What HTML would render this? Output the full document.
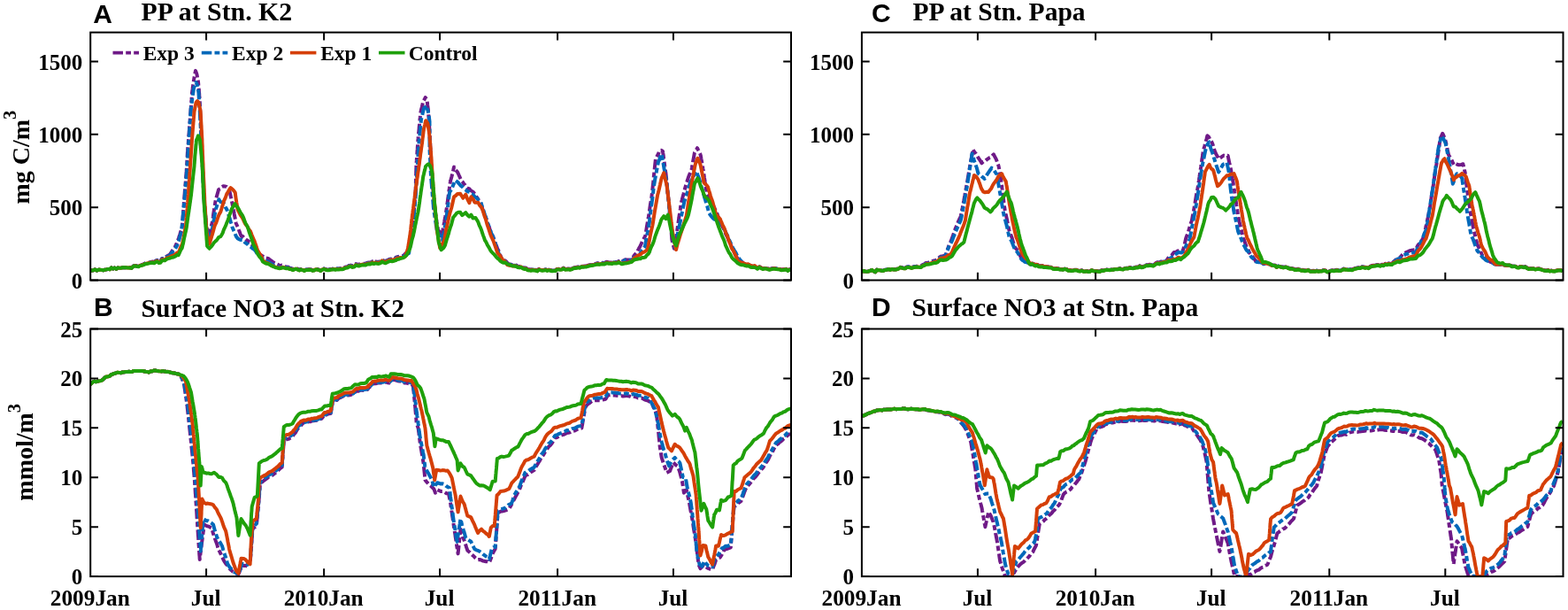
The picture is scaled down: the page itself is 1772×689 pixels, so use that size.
<!DOCTYPE html>
<html><head><meta charset="utf-8"><title>PP and Surface NO3</title><style>
html,body{margin:0;padding:0;background:#fff;width:1772px;height:689px;overflow:hidden}
svg{display:block}
.t{font-family:"Liberation Serif","Times New Roman",serif;font-weight:bold;fill:#000}
.s{font-family:"Liberation Sans",Arial,sans-serif;font-weight:bold;fill:#000}
</style></head><body>
<svg width="1772" height="689" viewBox="0 0 1772 689">
<rect width="1772" height="689" fill="#fff"/>
<defs>
<clipPath id="cA"><rect x="102.2" y="35.6" width="791.8" height="281.9"/></clipPath>
<clipPath id="cB"><rect x="102.2" y="370.5" width="791.8" height="281.6"/></clipPath>
<clipPath id="cC"><rect x="973.9" y="35.6" width="792.6" height="281.9"/></clipPath>
<clipPath id="cD"><rect x="973.9" y="370.5" width="792.6" height="281.6"/></clipPath>
</defs>
<g clip-path="url(#cA)" fill="none" stroke-width="4.0" stroke-linejoin="round" stroke-linecap="butt">
<polyline stroke="#6f1a87" stroke-dasharray="11.5 3.2 5.8 3.2" points="102.0,305.6 103.8,305.4 105.7,305.2 107.5,304.4 109.3,305.5 111.2,304.8 113.0,304.6 114.8,304.9 116.6,305.3 118.5,304.7 120.3,304.4 122.2,303.9 124.0,304.4 125.9,302.4 127.7,303.6 129.6,302.5 131.4,303.8 133.3,302.4 135.1,302.7 137.0,302.7 138.8,302.1 140.7,302.3 142.7,302.3 144.8,302.4 146.8,302.3 148.8,302.6 150.8,300.4 152.9,300.0 154.9,300.5 156.6,300.7 158.4,299.5 160.1,299.2 161.8,298.7 163.5,297.7 165.3,297.2 167.0,296.8 168.8,296.4 170.6,295.9 172.4,295.5 174.2,295.9 175.9,294.6 177.7,293.8 179.5,295.3 181.3,294.9 183.0,292.0 184.7,291.8 186.4,291.5 188.1,289.6 189.8,288.6 191.5,288.0 192.5,286.5 193.5,285.0 194.5,283.5 195.6,282.0 196.6,280.7 197.6,279.3 198.6,277.2 199.6,275.1 200.2,273.4 200.8,272.0 201.4,270.5 202.0,268.9 202.6,266.9 203.3,264.8 203.9,262.7 204.5,260.8 205.1,259.2 205.7,257.8 205.8,256.1 206.0,254.3 206.1,252.5 206.3,250.6 206.4,248.8 206.5,246.9 206.7,245.1 206.8,243.2 207.0,241.4 207.1,239.4 207.2,237.5 207.4,235.5 207.5,233.6 207.7,231.6 207.8,229.7 207.9,227.7 208.1,225.8 208.2,224.0 208.4,222.1 208.5,220.2 208.7,218.3 208.8,216.4 209.0,214.5 209.1,212.6 209.3,210.8 209.4,208.9 209.6,207.0 209.8,205.1 209.9,203.2 210.1,201.3 210.2,199.3 210.4,197.3 210.5,195.4 210.7,193.4 210.8,191.4 211.0,189.5 211.1,187.5 211.2,185.6 211.3,183.6 211.4,181.7 211.5,179.7 211.6,177.8 211.7,175.8 211.8,173.9 211.9,172.0 212.1,170.2 212.2,168.4 212.3,166.7 212.5,164.9 212.6,163.1 212.8,161.3 212.9,159.5 213.0,157.7 213.2,155.9 213.3,154.1 213.4,152.3 213.6,150.5 213.7,148.7 213.9,146.9 214.0,145.1 214.1,143.3 214.3,141.5 214.4,139.7 214.5,137.9 214.7,136.2 214.8,134.4 214.9,132.6 215.1,130.8 215.2,129.0 215.4,127.1 215.5,125.3 215.6,123.5 215.8,121.7 215.9,119.9 216.0,118.0 216.2,116.1 216.3,114.2 216.5,112.4 216.6,110.5 216.7,108.6 216.9,106.7 217.0,104.8 217.3,102.8 217.6,100.8 217.8,98.8 218.1,96.9 218.4,95.0 218.7,93.2 218.9,91.4 219.2,89.5 219.5,87.7 219.9,85.8 220.2,83.8 220.6,81.9 221.0,79.9 221.8,82.0 222.5,84.2 222.9,86.3 223.2,88.4 223.6,90.4 224.0,92.4 224.2,94.4 224.3,96.3 224.5,98.2 224.7,100.1 224.8,102.0 225.0,104.0 225.2,105.9 225.3,107.9 225.5,109.9 225.6,111.8 225.7,113.7 225.8,115.6 225.9,117.5 226.0,119.3 226.1,121.2 226.2,123.1 226.2,125.0 226.3,126.8 226.4,128.7 226.5,130.6 226.6,132.5 226.7,134.3 226.8,136.2 226.9,138.1 227.0,139.9 227.1,141.8 227.1,143.6 227.2,145.5 227.2,147.3 227.3,149.2 227.4,151.0 227.4,152.9 227.5,154.7 227.6,156.6 227.6,158.4 227.7,160.3 227.8,162.1 227.8,164.0 227.9,165.8 227.9,167.6 228.0,169.5 228.1,171.3 228.2,173.2 228.3,175.0 228.4,176.8 228.5,178.7 228.6,180.5 228.7,182.4 228.8,184.2 228.8,186.0 228.9,187.9 229.0,189.8 229.1,191.7 229.2,193.7 229.3,195.6 229.4,197.6 229.5,199.5 229.6,201.5 229.7,203.4 229.8,205.4 229.9,207.3 230.0,209.3 230.1,211.2 230.2,213.2 230.2,215.1 230.3,217.0 230.4,219.0 230.5,220.9 230.6,222.9 230.7,224.8 230.8,226.7 230.9,228.7 231.0,230.6 231.2,232.5 231.3,234.3 231.5,236.2 231.6,238.0 231.8,239.8 231.9,241.7 232.1,243.6 232.2,245.4 232.4,247.3 232.5,249.2 232.7,251.1 232.8,253.0 233.0,254.9 233.4,256.9 233.9,258.9 234.3,260.7 234.7,262.5 235.1,264.1 235.6,265.8 236.0,267.4 236.4,265.6 236.9,263.8 237.3,261.8 237.8,259.8 238.2,257.8 238.7,255.9 239.1,253.9 239.6,252.0 240.0,250.1 240.3,248.2 240.6,246.3 240.9,244.3 241.1,242.4 241.4,240.5 241.7,238.5 242.0,236.6 242.3,234.8 242.6,233.0 242.9,231.2 243.1,229.5 243.4,227.9 243.7,226.3 244.0,224.7 244.6,222.8 245.2,220.9 245.8,218.6 246.4,216.5 247.0,214.3 248.1,213.6 249.3,213.1 250.4,211.2 252.3,210.2 254.1,210.5 256.0,210.9 257.5,212.4 259.0,213.4 259.4,215.3 259.8,217.3 260.2,219.2 260.6,221.1 261.0,222.9 261.4,224.8 261.8,226.6 262.2,228.6 262.6,230.7 263.0,232.7 263.3,234.6 263.7,236.5 264.1,238.4 264.5,240.2 264.8,242.1 265.2,244.1 265.6,246.2 266.0,248.3 266.3,250.2 266.7,252.2 267.4,253.8 268.1,255.1 268.7,256.5 269.4,258.2 270.1,260.2 270.8,262.0 271.4,263.7 272.1,265.4 272.8,266.9 274.5,267.1 276.2,269.4 277.9,270.9 279.6,271.5 281.3,272.9 283.0,273.7 284.1,275.2 285.2,276.9 286.3,278.3 287.4,279.6 288.6,281.2 289.7,283.2 290.8,285.2 291.9,286.9 293.0,287.9 294.7,288.0 296.4,289.1 298.1,290.6 299.9,291.4 301.6,291.7 303.3,292.0 305.0,293.5 306.7,294.6 308.4,295.9 310.0,296.9 311.7,297.9 313.4,298.6 315.1,299.5 316.8,300.1 318.5,299.6 320.2,299.8 321.9,300.7 323.6,301.7 325.4,301.6 327.3,302.6 329.1,302.9 331.0,303.9 332.8,303.1 334.7,302.8 336.5,303.7 338.4,304.7 340.2,303.9 342.1,304.5 343.9,305.4 345.7,304.6 347.6,304.4 349.4,304.3 351.3,304.4 353.1,305.2 355.0,305.0 356.8,303.9 358.7,304.1 360.5,304.7 362.4,305.5 364.2,304.2 366.1,303.5 367.9,304.1 369.8,304.7 371.6,304.5 373.5,304.0 375.3,303.8 377.2,303.5 379.0,303.9 380.9,303.4 382.7,303.6 384.6,303.3 386.6,303.2 388.5,302.7 390.5,301.6 392.5,301.3 394.4,300.0 396.4,299.6 398.3,300.4 400.3,300.0 402.2,298.1 404.0,298.6 405.9,298.9 407.7,298.0 409.6,297.6 411.4,297.8 413.3,297.6 415.1,296.7 417.0,296.5 418.8,296.6 420.7,295.3 422.5,296.1 424.4,295.4 426.2,295.7 428.1,295.8 429.9,295.3 431.8,293.3 433.6,294.5 435.5,295.0 437.3,294.2 439.2,293.2 441.0,292.5 442.8,292.7 444.5,292.0 446.2,291.9 448.0,290.4 449.8,290.0 451.5,289.7 453.2,289.5 455.0,289.1 456.5,288.2 458.0,286.7 459.5,285.3 461.0,283.7 461.4,282.1 461.7,280.4 462.1,278.8 462.4,277.4 462.8,276.0 463.1,274.5 463.5,272.8 463.9,271.1 464.2,269.1 464.6,266.8 464.9,264.5 465.3,262.4 465.6,260.4 466.0,258.4 466.2,256.7 466.3,255.1 466.5,253.4 466.6,251.7 466.8,250.0 467.0,248.4 467.1,246.6 467.3,244.9 467.4,243.1 467.6,241.4 467.8,239.6 467.9,237.8 468.1,236.0 468.2,234.2 468.4,232.4 468.5,230.5 468.7,228.7 468.9,226.9 469.0,225.0 469.2,223.2 469.3,221.4 469.5,219.6 469.6,217.8 469.6,216.0 469.7,214.2 469.7,212.4 469.8,210.6 469.8,208.8 469.9,207.0 469.9,205.2 470.0,203.4 470.0,201.6 470.1,199.8 470.1,198.0 470.2,196.2 470.2,194.4 470.3,192.6 470.3,190.8 470.4,189.0 470.4,187.2 470.5,185.5 470.6,183.6 470.8,181.7 470.9,179.9 471.0,178.0 471.1,176.2 471.3,174.4 471.4,172.5 471.5,170.7 471.7,168.9 471.8,167.1 471.9,165.2 472.1,163.4 472.2,161.6 472.3,159.8 472.4,158.0 472.6,156.2 472.7,154.4 472.9,152.7 473.0,151.0 473.2,149.2 473.4,147.4 473.6,145.6 473.7,143.8 473.9,142.0 474.1,140.1 474.2,138.1 474.4,136.2 474.6,134.2 474.8,132.2 474.9,130.3 475.1,128.4 475.5,126.4 475.9,124.5 476.3,122.7 476.8,121.0 477.2,119.2 477.6,117.3 478.0,115.3 478.9,113.7 479.8,112.0 480.7,110.1 482.5,112.6 482.8,114.7 483.0,116.8 483.2,118.8 483.5,120.8 483.8,122.8 484.0,124.8 484.1,126.6 484.2,128.5 484.3,130.3 484.5,132.1 484.6,133.9 484.7,135.8 484.8,137.6 484.9,139.4 485.0,141.3 485.2,143.2 485.3,145.1 485.4,147.1 485.5,149.0 485.6,150.9 485.7,152.7 485.8,154.6 485.9,156.5 486.0,158.4 486.1,160.3 486.2,162.2 486.2,164.1 486.3,166.0 486.4,167.9 486.5,169.8 486.6,171.7 486.7,173.6 486.8,175.5 486.9,177.4 487.0,179.3 487.1,181.1 487.2,183.0 487.4,184.9 487.5,186.7 487.6,188.6 487.8,190.5 487.9,192.3 488.0,194.2 488.1,196.2 488.2,198.1 488.4,200.1 488.5,202.0 488.6,204.0 488.8,206.0 488.9,207.9 489.0,209.9 489.2,211.9 489.4,213.9 489.6,215.9 489.8,217.8 489.9,219.8 490.1,221.8 490.3,223.7 490.5,225.5 490.7,227.4 490.9,229.3 491.1,231.2 491.2,233.0 491.4,234.9 491.6,236.7 491.8,238.5 492.0,240.3 492.3,242.1 492.5,243.9 492.8,245.6 493.1,247.4 493.4,249.2 493.6,251.0 493.9,252.8 494.2,254.5 494.5,256.2 494.7,257.9 495.0,259.6 496.0,260.9 496.9,262.8 497.9,264.8 498.9,266.6 499.3,264.9 499.6,263.2 500.0,261.5 500.4,259.9 500.7,258.2 501.1,256.5 501.4,254.5 501.8,252.6 502.2,250.5 502.5,248.5 502.9,246.4 503.3,244.4 503.6,242.4 504.0,240.4 504.2,238.6 504.5,236.8 504.8,235.0 505.0,233.1 505.2,231.4 505.5,229.7 505.8,227.9 506.0,226.2 506.2,224.3 506.5,222.5 506.8,220.6 507.0,218.8 507.2,216.9 507.5,215.0 507.8,213.0 508.0,211.1 508.2,209.4 508.5,207.7 508.8,206.0 509.0,204.3 509.5,202.9 509.9,201.5 510.4,199.8 510.8,198.0 511.3,196.2 511.7,194.2 512.2,192.3 512.6,190.5 513.1,188.6 514.1,190.3 515.0,192.0 516.0,193.2 517.0,194.4 517.8,196.0 518.6,197.8 519.5,199.7 520.3,201.7 521.1,203.3 521.9,204.5 523.1,205.8 524.2,207.6 525.4,208.9 526.5,210.5 527.7,212.2 529.2,213.0 530.6,213.5 532.0,215.3 533.5,216.0 535.0,217.1 536.4,219.1 537.6,221.0 538.7,222.6 539.9,224.4 541.0,226.7 542.2,228.1 542.9,229.3 543.5,230.9 544.2,232.6 544.9,234.7 545.5,236.5 546.2,238.4 546.9,240.3 547.6,242.1 548.2,243.9 548.9,245.5 549.6,247.5 550.2,249.6 550.9,251.8 551.6,253.5 552.3,255.2 552.9,256.9 553.6,259.0 554.3,260.9 555.0,262.7 555.6,264.1 556.3,265.4 557.0,266.8 557.7,268.6 558.3,270.4 559.0,272.3 559.7,274.3 560.4,276.2 561.2,278.1 561.9,280.0 562.6,281.6 563.4,283.1 564.1,284.5 564.8,286.3 565.5,288.4 566.3,290.5 567.0,292.4 568.6,293.6 570.2,294.0 571.8,295.2 573.4,296.9 575.0,298.3 577.1,298.5 579.1,299.3 581.2,299.2 583.3,299.5 585.1,300.6 587.0,301.0 588.8,300.5 590.7,302.0 592.5,302.6 594.4,302.6 596.2,304.0 598.1,304.2 599.9,304.6 601.8,304.3 603.6,304.5 605.4,304.7 607.3,305.5 609.1,303.8 611.0,304.6 612.8,304.9 614.7,304.7 616.5,304.4 618.4,305.2 620.2,304.6 622.1,305.1 623.9,305.7 625.7,305.5 627.6,305.5 629.4,303.9 631.3,303.7 633.1,304.1 635.0,303.9 636.8,302.6 638.7,303.9 640.5,303.8 642.4,303.4 644.2,303.9 646.1,303.5 647.9,302.3 649.8,302.1 651.7,301.7 653.5,301.4 655.4,301.8 657.2,300.6 659.1,300.8 661.0,300.6 662.8,300.4 664.7,299.7 666.5,299.2 668.3,298.9 670.1,298.5 671.9,298.2 673.7,297.7 675.4,297.2 677.2,297.6 679.0,297.2 680.8,296.8 682.6,297.1 684.4,296.3 686.2,295.8 688.1,296.4 690.0,296.4 691.8,296.6 693.6,295.8 695.5,296.1 697.4,296.1 699.2,295.0 701.1,295.4 702.9,295.6 704.8,294.2 706.6,293.2 708.5,293.5 710.3,293.6 712.1,293.6 714.0,293.5 715.2,291.1 716.4,289.0 717.6,287.4 718.8,286.2 720.0,284.7 720.8,282.9 721.7,281.3 722.5,279.8 723.4,278.2 724.2,276.5 725.1,274.5 725.9,272.4 726.8,270.9 727.6,269.5 728.5,268.0 729.3,266.2 729.6,264.3 729.9,262.4 730.2,260.6 730.5,258.7 730.8,256.8 731.1,255.0 731.4,253.3 731.7,251.6 732.0,249.9 732.3,248.2 732.6,246.5 732.9,244.9 733.2,243.0 733.5,241.0 733.8,239.0 734.1,237.0 734.4,234.9 734.7,232.8 735.0,230.7 735.3,229.0 735.6,227.3 735.9,225.5 736.2,223.9 736.4,222.2 736.6,220.5 736.8,218.8 737.0,217.0 737.2,215.2 737.4,213.4 737.6,211.6 737.8,209.8 738.0,208.0 738.2,206.2 738.4,204.3 738.5,202.4 738.7,200.5 738.9,198.7 739.1,196.7 739.3,194.8 739.5,192.9 739.7,191.0 739.9,189.0 740.1,187.1 740.3,185.3 740.5,183.4 740.7,181.6 740.9,179.8 741.7,178.2 742.4,176.7 743.2,175.2 744.0,173.7 744.7,172.1 745.5,170.0 747.2,169.8 749.0,170.7 749.2,172.5 749.5,174.4 749.8,176.3 750.0,178.1 750.2,180.0 750.5,181.8 750.8,183.7 751.0,185.6 751.2,187.3 751.5,189.1 751.8,190.9 752.0,192.7 752.2,194.4 752.5,196.2 752.7,197.9 752.9,199.7 753.1,201.5 753.2,203.4 753.4,205.2 753.6,207.1 753.8,209.0 754.0,210.8 754.2,212.7 754.3,214.5 754.5,216.4 754.7,218.2 754.9,220.1 755.1,221.9 755.3,223.7 755.4,225.5 755.6,227.3 755.8,229.1 756.0,230.9 756.2,232.8 756.3,234.7 756.5,236.6 756.6,238.5 756.8,240.5 757.0,242.4 757.1,244.3 757.3,246.2 757.5,248.1 757.6,250.1 757.8,252.0 757.9,253.9 758.1,255.9 758.3,257.8 758.4,259.7 758.6,261.6 758.8,263.5 758.9,265.4 759.1,267.3 759.2,269.2 759.4,271.0 759.9,273.1 760.4,274.9 760.8,276.6 761.3,278.5 761.8,280.6 762.1,278.8 762.4,277.2 762.7,275.6 763.0,274.0 763.3,272.2 763.7,270.3 764.0,268.5 764.3,266.5 764.6,264.5 764.9,262.4 765.2,260.5 765.5,258.7 765.7,256.8 766.0,255.0 766.2,253.2 766.5,251.4 766.8,249.7 767.0,247.9 767.3,246.2 767.5,244.4 767.8,242.7 768.1,241.0 768.3,239.3 768.6,237.6 768.9,235.8 769.1,234.1 769.4,232.4 769.6,230.6 769.9,228.9 770.3,227.2 770.8,225.5 771.2,223.8 771.7,222.1 772.1,220.4 772.6,218.7 773.0,217.0 773.5,215.3 773.9,213.6 774.4,211.9 774.8,210.2 775.3,208.5 775.7,206.8 776.4,205.0 777.2,202.8 777.9,200.4 778.6,198.5 779.3,196.9 780.0,195.4 780.8,193.5 781.5,191.6 781.9,189.6 782.2,187.7 782.5,185.8 782.9,183.9 783.2,182.0 783.6,180.0 784.0,178.0 784.3,176.1 784.6,174.2 785.0,172.3 786.0,170.6 787.0,169.0 788.0,167.2 788.8,168.9 789.6,170.3 790.3,171.7 791.1,173.4 791.9,175.8 792.2,177.7 792.5,179.6 792.9,181.5 793.2,183.3 793.5,185.0 793.8,186.8 794.1,188.6 794.4,190.6 794.8,192.7 795.1,194.7 795.4,196.7 795.7,198.6 795.9,200.5 796.2,202.2 796.5,203.8 796.7,205.5 797.0,207.1 797.3,208.8 797.6,210.5 797.8,212.2 798.1,213.9 798.4,215.6 798.6,217.4 798.9,219.2 800.0,221.0 801.2,223.1 802.4,224.9 803.5,226.6 804.3,228.0 805.0,229.2 805.8,231.1 806.6,233.0 807.4,234.9 808.1,236.7 808.9,238.4 809.7,239.8 810.5,241.6 811.2,243.6 812.0,245.7 812.8,247.5 813.6,249.4 814.3,251.2 815.1,253.0 815.9,254.8 816.7,256.4 817.5,257.7 818.2,259.1 819.0,261.0 819.8,263.3 820.5,265.0 821.3,266.4 822.1,267.8 822.9,270.0 823.6,271.9 824.4,273.5 825.2,275.0 826.0,276.7 826.8,278.8 827.5,280.4 828.3,281.7 829.1,283.1 829.9,285.0 830.6,286.7 831.4,288.6 832.7,290.8 834.0,292.3 835.3,293.5 836.7,294.6 838.0,295.6 839.3,296.5 840.6,297.8 842.5,298.6 844.4,299.0 846.2,299.1 848.1,300.7 850.0,301.1 852.0,300.8 854.0,301.5 856.0,302.8 858.0,301.0 860.0,302.2 862.0,303.1 863.9,302.7 865.8,302.8 867.7,303.3 869.6,303.9 871.5,303.5 873.4,303.0 875.3,302.9 877.2,303.3 879.1,303.6 881.0,303.7 882.9,304.6 884.8,304.3 886.7,304.0 888.5,303.6 890.4,305.3 892.2,304.2 894.0,304.8"/>
<polyline stroke="#0068ba" stroke-dasharray="11.5 3.2 5.8 3.2" points="102.0,305.6 103.8,305.4 105.7,305.2 107.5,304.4 109.3,305.5 111.2,304.8 113.0,304.6 114.8,304.9 116.6,305.3 118.5,304.7 120.3,304.4 122.2,303.9 124.0,304.4 125.9,302.4 127.7,303.6 129.6,302.5 131.4,303.8 133.3,302.4 135.1,302.7 137.0,302.7 138.8,302.1 140.7,302.3 142.7,302.3 144.8,302.4 146.8,302.3 148.8,302.6 150.8,300.4 152.9,300.0 154.9,300.5 156.6,300.7 158.4,299.6 160.1,299.3 161.8,298.8 163.5,297.8 165.3,297.3 167.0,297.0 168.8,296.6 170.6,296.1 172.4,295.9 174.2,296.3 175.9,294.9 177.7,294.2 179.5,295.7 181.3,295.4 183.0,292.6 184.7,292.5 186.4,292.2 188.1,290.4 189.8,289.6 191.5,289.0 192.7,287.4 193.9,286.1 195.1,284.5 196.4,283.2 197.6,281.8 198.8,279.5 200.0,277.5 200.6,276.2 201.1,274.8 201.7,273.2 202.2,271.5 202.8,269.6 203.3,267.6 203.9,265.5 204.4,263.8 205.0,262.1 205.2,260.4 205.3,258.7 205.5,257.0 205.7,255.3 205.9,253.6 206.0,251.9 206.2,250.1 206.4,248.3 206.6,246.4 206.7,244.6 206.9,242.8 207.1,240.9 207.3,239.0 207.4,237.1 207.6,235.1 207.8,233.2 208.0,231.3 208.1,229.4 208.3,227.5 208.5,225.7 208.7,223.8 208.8,222.0 209.0,220.2 209.2,218.3 209.3,216.4 209.5,214.5 209.6,212.6 209.8,210.7 209.9,208.8 210.1,206.9 210.2,204.9 210.4,202.9 210.6,201.0 210.7,199.0 210.9,197.0 211.0,195.1 211.2,193.2 211.3,191.3 211.5,189.4 211.6,187.6 211.7,185.7 211.8,183.9 211.9,182.1 212.1,180.2 212.2,178.4 212.3,176.6 212.4,174.8 212.5,173.1 212.6,171.3 212.7,169.5 212.8,167.7 212.9,165.9 213.1,164.1 213.2,162.3 213.3,160.5 213.4,158.7 213.5,156.9 213.6,155.1 213.7,153.3 213.9,151.4 214.0,149.6 214.1,147.8 214.2,146.0 214.3,144.2 214.5,142.4 214.6,140.6 214.7,138.8 214.8,137.0 215.0,135.2 215.1,133.4 215.2,131.6 215.3,129.7 215.4,127.9 215.6,126.1 215.7,124.2 215.8,122.4 216.1,120.6 216.3,118.6 216.6,116.7 216.9,114.7 217.1,112.8 217.4,110.8 217.7,108.9 217.9,106.9 218.2,105.1 218.5,103.3 218.7,101.4 219.0,99.6 219.6,98.0 220.2,96.3 220.9,94.6 221.5,93.0 223.0,96.2 223.3,97.9 223.6,99.6 223.9,101.3 224.2,103.0 224.5,104.8 224.6,106.7 224.7,108.6 224.8,110.5 225.0,112.4 225.1,114.4 225.2,116.3 225.3,118.3 225.4,120.2 225.5,122.2 225.7,124.1 225.8,126.1 225.9,128.0 226.0,130.0 226.1,131.9 226.2,133.7 226.3,135.6 226.4,137.5 226.5,139.3 226.6,141.2 226.7,143.1 226.8,145.0 226.8,146.8 226.9,148.7 227.0,150.6 227.1,152.4 227.2,154.2 227.3,156.1 227.4,157.9 227.5,159.7 227.6,161.5 227.7,163.3 227.7,165.1 227.8,166.9 227.9,168.7 228.0,170.6 228.1,172.4 228.1,174.2 228.2,176.0 228.3,177.8 228.4,179.6 228.4,181.4 228.5,183.2 228.6,185.0 228.7,186.9 228.8,188.7 228.8,190.5 228.9,192.3 229.0,194.1 229.1,196.0 229.2,198.0 229.3,199.9 229.4,201.8 229.5,203.7 229.6,205.7 229.7,207.6 229.8,209.5 229.9,211.5 230.1,213.4 230.2,215.3 230.3,217.2 230.4,219.1 230.5,221.0 230.6,223.0 230.7,224.9 230.8,226.8 230.9,228.7 231.0,230.6 231.2,232.4 231.3,234.2 231.5,236.0 231.7,237.7 231.8,239.5 232.0,241.3 232.2,243.1 232.3,245.0 232.5,246.8 232.7,248.6 232.8,250.5 233.0,252.3 233.2,254.2 233.3,256.2 233.5,258.2 234.0,260.4 234.5,262.4 235.0,264.3 235.5,266.2 236.0,268.0 236.5,270.1 237.1,268.3 237.7,266.2 238.2,264.1 238.8,262.1 239.4,260.1 240.0,258.1 240.3,256.1 240.7,254.1 241.0,252.1 241.3,250.1 241.7,248.1 242.0,246.1 242.3,244.3 242.7,242.4 243.0,240.6 243.3,239.0 243.7,237.3 244.0,235.7 244.6,234.1 245.1,232.5 245.7,230.5 246.3,228.6 246.8,226.8 247.4,225.2 248.9,227.9 250.5,228.5 252.0,228.7 252.9,229.8 253.8,231.7 254.7,233.9 255.6,235.4 256.5,236.9 257.1,238.8 257.6,240.6 258.2,242.2 258.7,243.8 259.3,245.5 259.8,247.5 260.4,249.3 260.9,251.1 261.5,252.9 262.0,254.8 262.6,256.9 263.5,258.9 264.3,260.8 265.2,262.8 266.1,265.1 267.0,267.2 267.8,268.3 268.7,269.5 270.3,270.3 271.9,270.9 273.6,270.8 275.2,271.7 276.8,273.9 278.3,274.9 279.7,275.8 281.2,277.4 282.6,278.4 284.1,279.4 285.5,280.7 287.0,281.5 288.3,282.9 289.7,284.9 291.0,287.1 292.3,288.5 293.7,289.3 295.0,290.3 296.7,291.9 298.3,293.5 300.0,294.6 301.6,295.2 303.3,295.7 305.0,297.0 306.7,297.9 308.4,299.0 310.0,299.8 311.7,300.6 313.4,301.1 315.4,301.9 317.5,301.7 319.5,301.1 321.6,301.6 323.6,302.5 325.4,302.3 327.3,303.3 329.1,303.5 331.0,304.4 332.8,303.6 334.7,303.2 336.5,304.0 338.4,305.0 340.2,304.1 342.1,304.6 343.9,305.5 345.7,304.7 347.6,304.5 349.4,304.4 351.3,304.5 353.1,305.3 355.0,305.1 356.8,304.0 358.7,304.2 360.5,304.8 362.4,305.6 364.2,304.3 366.1,303.6 367.9,304.2 369.8,304.8 371.6,304.7 373.5,304.1 375.3,304.0 377.2,303.6 379.0,304.1 380.9,303.6 382.7,303.8 384.6,303.5 386.6,303.5 388.5,303.0 390.5,301.9 392.5,301.7 394.4,300.3 396.4,300.0 398.3,300.9 400.3,300.5 402.2,298.6 404.0,299.1 405.9,299.4 407.7,298.5 409.6,298.1 411.4,298.3 413.3,298.1 415.1,297.2 417.0,297.0 418.8,297.1 420.7,295.8 422.5,296.6 424.4,295.9 426.2,296.2 428.1,296.3 429.9,295.8 431.8,293.8 433.6,295.0 435.5,295.5 437.3,294.7 439.2,293.7 441.0,293.0 442.8,293.3 444.5,292.7 446.2,292.6 448.0,291.2 449.8,290.8 451.5,290.5 453.2,290.5 455.0,290.1 456.8,289.4 458.5,288.1 460.2,286.8 462.0,286.1 462.3,284.6 462.6,283.1 462.9,281.7 463.1,280.1 463.4,278.4 463.7,276.6 464.0,274.9 464.3,272.7 464.6,270.6 464.9,268.4 465.1,266.3 465.4,264.3 465.7,262.4 466.0,260.4 466.2,258.7 466.4,257.0 466.5,255.3 466.7,253.6 466.9,252.0 467.1,250.2 467.2,248.4 467.4,246.7 467.6,244.9 467.8,243.1 467.9,241.3 468.1,239.5 468.3,237.6 468.4,235.7 468.6,233.9 468.8,232.0 469.0,230.1 469.1,228.3 469.3,226.4 469.5,224.6 469.6,222.7 469.7,220.9 469.8,219.1 469.9,217.2 470.0,215.4 470.1,213.6 470.2,211.7 470.3,209.9 470.4,208.1 470.6,206.2 470.7,204.4 470.8,202.6 470.9,200.8 471.0,198.9 471.1,197.1 471.2,195.3 471.3,193.5 471.4,191.7 471.5,189.9 471.6,188.1 471.8,186.3 471.9,184.4 472.0,182.6 472.1,180.8 472.2,179.0 472.4,177.2 472.5,175.4 472.6,173.6 472.8,171.8 472.9,170.0 473.0,168.2 473.1,166.4 473.2,164.5 473.4,162.7 473.5,160.8 473.7,158.9 473.9,157.0 474.1,155.0 474.3,153.0 474.5,150.9 474.7,148.8 474.8,146.7 475.0,144.7 475.2,142.7 475.4,140.8 475.6,138.9 475.8,136.9 476.0,135.0 476.4,133.3 476.9,131.6 477.3,129.8 477.7,127.9 478.1,126.0 478.6,124.2 479.0,122.3 480.5,121.1 482.0,119.4 482.5,121.3 483.0,123.3 483.5,125.0 484.0,126.8 484.2,128.4 484.5,130.1 484.8,131.7 485.0,133.3 485.2,135.1 485.5,137.0 485.5,138.9 485.5,140.8 485.5,142.6 485.5,144.5 485.5,146.4 485.5,148.3 485.5,150.2 485.5,152.0 485.5,153.9 485.5,155.8 485.5,157.7 485.5,159.6 485.5,161.5 485.5,163.3 485.5,165.2 485.5,167.1 485.5,169.0 485.6,170.9 485.7,172.7 485.8,174.6 485.9,176.5 486.0,178.4 486.1,180.3 486.2,182.2 486.2,184.1 486.3,186.0 486.4,187.9 486.5,189.8 486.6,191.7 486.7,193.6 486.8,195.5 486.9,197.4 487.0,199.3 487.2,201.1 487.3,202.9 487.5,204.8 487.6,206.6 487.8,208.4 487.9,210.3 488.1,212.2 488.3,214.1 488.4,216.1 488.6,218.0 488.7,220.0 488.9,221.9 489.1,223.8 489.2,225.8 489.4,227.7 489.5,229.7 489.7,231.6 489.8,233.6 490.0,235.5 490.3,237.3 490.5,239.1 490.8,241.0 491.1,242.8 491.3,244.5 491.6,246.2 491.9,248.0 492.1,249.7 492.4,251.5 492.7,253.2 492.9,254.9 493.2,256.7 493.5,258.5 493.7,260.3 494.0,262.1 495.0,263.1 496.0,264.2 497.0,265.9 498.0,267.6 499.0,269.1 500.0,271.3 500.3,269.7 500.7,268.2 501.0,266.6 501.3,264.7 501.7,262.8 502.0,261.0 502.3,259.0 502.7,257.0 503.0,255.1 503.3,253.2 503.7,251.3 504.0,249.4 504.2,247.5 504.5,245.7 504.7,243.8 504.9,241.9 505.2,240.1 505.4,238.3 505.6,236.5 505.9,234.7 506.1,232.9 506.4,231.0 506.6,229.1 506.8,227.2 507.1,225.3 507.3,223.3 507.5,221.3 507.8,219.4 508.0,217.4 508.8,216.0 509.6,214.8 510.5,213.3 511.3,211.3 512.1,209.3 513.0,207.2 513.8,205.5 514.6,203.7 516.1,204.8 517.5,205.9 519.0,207.7 520.5,209.5 521.9,210.5 523.3,211.8 524.8,213.4 526.2,214.4 527.7,215.9 529.1,216.5 530.6,216.9 532.0,218.5 533.5,219.1 534.9,220.2 536.4,222.0 538.0,223.3 539.5,224.4 541.0,226.1 542.6,226.6 543.2,228.0 543.8,229.7 544.4,231.6 545.0,233.7 545.7,235.5 546.3,237.4 546.9,239.3 547.5,241.2 548.1,243.1 548.7,244.7 549.3,246.5 549.9,248.4 550.6,250.5 551.2,252.4 551.8,253.9 552.4,255.5 553.1,257.2 553.7,259.2 554.3,261.0 554.9,262.7 555.6,264.1 556.2,265.3 556.8,266.7 557.4,268.3 558.1,270.1 558.7,272.0 559.3,273.9 560.0,275.8 560.6,277.7 561.2,279.6 561.8,281.5 562.5,283.2 563.1,284.8 563.7,286.3 564.4,288.0 565.0,289.8 566.4,291.8 567.7,293.2 569.0,294.5 570.4,295.0 571.8,296.3 573.1,298.1 575.1,298.9 577.2,299.1 579.2,299.9 581.3,299.7 583.3,300.0 585.1,301.1 587.0,301.5 588.8,300.9 590.7,302.4 592.5,303.0 594.4,303.0 596.2,304.4 598.1,304.6 599.9,305.0 601.8,304.6 603.6,304.8 605.4,305.0 607.3,305.7 609.1,304.0 611.0,304.8 612.8,305.1 614.7,304.9 616.5,304.5 618.4,305.2 620.2,304.7 622.1,305.1 623.9,305.7 625.7,305.5 627.6,305.5 629.4,303.9 631.3,303.9 633.1,304.2 635.0,304.0 636.8,302.8 638.7,304.1 640.5,304.0 642.4,303.7 644.2,304.2 646.1,303.8 647.9,302.6 649.8,302.4 651.7,302.0 653.5,301.7 655.4,302.1 657.2,300.9 659.1,301.1 661.0,300.9 662.8,300.7 664.7,300.0 666.5,299.6 668.3,299.2 670.1,298.9 671.9,298.6 673.7,298.1 675.4,297.6 677.2,298.0 679.0,297.6 680.8,297.3 682.6,297.6 684.4,296.8 686.2,296.3 688.1,296.9 690.0,296.9 691.8,297.1 693.6,296.3 695.5,296.6 697.4,296.6 699.2,295.5 701.1,295.9 702.9,296.1 704.8,294.7 706.6,293.7 708.5,294.0 710.3,294.1 712.1,294.1 714.0,294.0 715.6,292.0 717.2,290.5 718.8,289.9 720.4,289.0 722.0,288.1 723.2,286.7 724.3,285.0 725.5,282.8 726.7,281.1 727.8,279.9 729.0,278.3 729.3,276.4 729.7,274.4 730.0,272.5 730.3,270.5 730.7,268.6 731.0,266.7 731.3,264.9 731.7,263.2 732.0,261.4 732.3,259.7 732.7,258.0 733.0,256.3 733.3,254.3 733.7,252.2 734.0,250.1 734.2,248.1 734.5,246.1 734.7,244.1 734.9,242.0 735.1,240.2 735.4,238.4 735.6,236.7 735.8,234.9 736.0,233.2 736.3,231.5 736.5,229.9 736.7,228.2 737.0,226.5 737.2,224.8 737.4,223.0 737.6,221.2 737.9,219.4 738.1,217.6 738.3,215.7 738.5,213.8 738.8,212.0 739.0,210.1 739.3,208.1 739.7,206.0 740.0,204.0 740.3,202.1 740.7,200.2 741.0,198.3 741.3,196.6 741.7,194.9 742.0,193.2 742.3,191.4 742.7,189.7 743.0,187.9 743.3,186.2 743.7,184.4 744.0,182.7 745.0,180.9 745.9,178.2 746.8,175.8 747.8,173.9 748.1,175.7 748.4,177.6 748.7,179.5 749.0,181.3 749.3,183.1 749.6,184.9 749.9,186.7 750.2,188.5 750.5,190.4 750.9,192.2 751.2,193.9 751.5,195.6 751.8,197.3 752.1,199.0 752.4,200.7 752.7,202.3 753.0,204.0 753.3,205.9 753.6,207.7 753.8,209.6 754.0,211.5 754.2,213.4 754.4,215.3 754.5,217.1 754.7,219.0 754.9,220.9 755.1,222.7 755.3,224.5 755.5,226.4 755.7,228.2 755.9,230.0 756.0,231.9 756.2,233.7 756.4,235.6 756.6,237.5 756.8,239.4 757.0,241.3 757.2,243.2 757.4,245.2 757.5,247.1 757.7,249.0 757.9,250.9 758.1,252.8 758.3,254.7 758.6,256.6 759.0,258.5 759.3,260.3 759.6,262.1 759.9,263.9 760.3,265.5 760.6,267.1 760.9,268.6 761.3,270.4 761.6,272.1 761.9,273.9 762.2,275.8 762.6,277.9 762.9,279.9 763.3,278.2 763.6,276.3 764.0,274.4 764.3,272.4 764.7,270.4 765.1,268.4 765.4,266.5 765.8,264.6 766.2,262.8 766.5,261.1 766.9,259.4 767.2,257.7 767.6,256.0 767.9,254.3 768.3,252.7 768.6,251.0 769.0,249.4 769.3,247.7 769.6,246.0 770.0,244.3 770.3,242.6 770.7,240.9 771.0,239.2 771.4,237.5 771.7,235.8 772.0,234.1 772.4,232.4 772.7,230.7 773.1,229.0 773.4,227.3 774.0,225.7 774.5,224.0 775.1,222.3 775.7,220.7 776.3,219.0 776.8,217.0 777.4,214.8 778.0,212.5 778.6,210.7 779.1,209.0 779.7,207.4 780.3,205.7 781.3,203.8 782.3,201.8 783.3,199.9 784.3,197.9 785.3,196.2 786.3,194.9 787.3,193.5 787.9,195.5 788.4,197.3 789.0,199.1 789.6,200.6 790.2,202.2 790.8,203.9 791.3,206.0 791.9,208.3 792.4,210.1 792.9,211.9 793.5,213.5 794.0,215.0 794.5,217.0 795.0,219.0 795.6,221.0 796.1,222.9 796.6,224.4 797.1,226.0 797.6,227.6 798.1,229.3 798.6,231.0 799.2,232.8 799.7,234.7 800.2,236.6 800.7,238.6 801.2,240.5 802.4,242.3 803.5,243.9 804.6,245.1 805.8,246.6 807.5,247.7 809.3,248.1 811.0,248.8 812.8,249.9 813.8,251.7 814.8,253.4 815.8,255.2 816.8,256.6 817.8,257.7 818.8,259.3 819.8,261.7 820.6,263.3 821.3,264.7 822.1,266.1 822.9,268.3 823.6,270.2 824.4,271.8 825.2,273.2 825.9,275.0 826.7,277.1 827.5,278.7 828.2,280.0 829.0,281.3 830.0,283.1 831.1,284.6 832.1,286.7 833.1,288.9 834.2,290.4 835.2,291.9 836.2,293.4 837.3,294.5 838.3,295.8 840.1,296.7 842.0,298.5 843.8,299.1 845.6,298.7 847.5,299.9 849.3,300.4 851.1,301.1 852.9,300.1 854.7,302.2 856.5,302.2 858.4,301.3 860.2,302.5 862.0,303.4 863.9,303.0 865.8,303.1 867.7,303.6 869.6,304.2 871.5,303.7 873.4,303.3 875.3,303.2 877.2,303.5 879.1,303.8 881.0,303.9 882.9,304.8 884.8,304.5 886.7,304.2 888.5,303.8 890.4,305.5 892.2,304.4 894.0,305.0"/>
<polyline stroke="#d53f07" points="102.0,305.6 103.8,305.4 105.7,305.2 107.5,304.4 109.3,305.5 111.2,304.8 113.0,304.6 114.8,304.9 116.6,305.3 118.5,304.7 120.3,304.4 122.2,303.9 124.0,304.4 125.9,302.4 127.7,303.6 129.6,302.5 131.4,303.8 133.3,302.4 135.1,302.7 137.0,302.7 138.8,302.1 140.7,302.3 142.7,302.3 144.8,302.5 146.8,302.3 148.8,302.7 150.8,300.6 152.9,300.1 154.9,300.7 156.6,300.9 158.4,299.8 160.1,299.5 161.8,299.0 163.5,298.1 165.3,297.6 167.0,297.3 168.8,296.9 170.6,296.5 172.4,296.2 174.2,296.7 175.9,295.4 177.7,294.7 179.5,296.2 181.3,295.9 183.0,293.3 184.7,293.3 186.4,293.2 188.1,291.6 189.8,290.9 191.5,290.5 193.2,289.6 194.9,288.9 196.6,288.3 198.2,287.3 199.9,285.5 201.6,285.6 202.3,283.9 203.1,282.0 203.8,280.0 204.5,278.3 205.3,277.0 206.0,275.8 206.4,274.0 206.7,272.2 207.1,270.4 207.5,268.3 207.8,266.3 208.2,264.3 208.5,262.5 208.9,260.6 209.3,258.8 209.6,256.9 210.0,255.1 210.2,253.1 210.3,251.1 210.5,249.2 210.6,247.2 210.8,245.2 210.9,243.3 211.1,241.3 211.2,239.5 211.4,237.6 211.6,235.7 211.7,233.8 211.9,231.9 212.0,230.0 212.2,228.2 212.3,226.4 212.5,224.6 212.6,222.8 212.7,221.0 212.9,219.2 213.0,217.4 213.1,215.5 213.2,213.7 213.3,211.9 213.5,210.1 213.6,208.3 213.7,206.5 213.8,204.7 214.0,202.9 214.1,201.1 214.2,199.3 214.3,197.5 214.4,195.7 214.6,193.9 214.7,192.1 214.8,190.3 214.9,188.5 215.0,186.7 215.2,184.8 215.3,183.0 215.4,181.2 215.5,179.4 215.7,177.6 215.8,175.7 215.9,173.9 216.0,172.1 216.1,170.2 216.3,168.3 216.4,166.4 216.5,164.5 216.6,162.7 216.8,160.8 216.9,158.9 217.0,157.0 217.2,155.1 217.3,153.2 217.5,151.3 217.6,149.4 217.8,147.5 217.9,145.5 218.1,143.7 218.2,141.8 218.4,140.0 218.5,138.2 218.7,136.4 218.8,134.5 219.0,132.7 219.1,130.9 219.3,129.1 219.4,127.3 219.6,125.5 220.0,123.6 220.4,121.7 220.7,119.7 221.1,117.8 221.5,116.0 223.0,114.0 224.5,115.8 224.9,117.7 225.3,119.7 225.8,121.7 226.2,123.7 226.6,125.7 226.7,127.5 226.8,129.3 226.9,131.2 227.0,133.0 227.1,134.8 227.2,136.6 227.3,138.4 227.4,140.2 227.5,142.0 227.6,143.8 227.7,145.6 227.8,147.4 227.9,149.2 228.0,151.0 228.1,152.8 228.2,154.6 228.3,156.4 228.4,158.2 228.4,160.0 228.5,161.8 228.6,163.6 228.7,165.4 228.7,167.2 228.8,169.0 228.9,170.8 228.9,172.6 229.0,174.5 229.1,176.4 229.2,178.2 229.2,180.1 229.3,182.0 229.4,183.9 229.5,185.8 229.5,187.7 229.6,189.6 229.7,191.5 229.8,193.4 229.9,195.3 229.9,197.2 230.0,199.0 230.1,200.9 230.2,202.8 230.3,204.7 230.4,206.6 230.5,208.4 230.6,210.3 230.6,212.2 230.7,214.1 230.8,215.9 230.9,217.8 231.0,219.7 231.1,221.5 231.2,223.3 231.2,225.0 231.3,226.8 231.4,228.6 231.5,230.4 231.6,232.2 231.7,234.0 231.9,235.8 232.0,237.7 232.1,239.5 232.2,241.4 232.3,243.2 232.4,245.1 232.6,246.9 232.7,248.8 232.8,250.6 232.9,252.5 233.0,254.4 233.1,256.3 233.3,258.3 233.4,260.2 233.5,262.2 233.9,264.3 234.4,266.2 234.8,268.1 235.3,270.0 235.7,271.7 236.2,273.6 236.6,275.7 237.2,273.9 237.7,272.0 238.3,270.1 238.9,268.2 239.4,266.3 240.0,264.5 240.6,262.4 241.2,260.2 241.7,258.1 242.3,256.1 242.9,254.4 243.5,253.0 244.2,251.7 244.8,250.1 245.4,248.3 246.0,246.4 246.7,244.5 247.3,242.9 247.9,241.6 248.5,240.6 249.2,239.5 249.8,237.7 250.4,235.7 251.1,233.3 251.8,231.2 252.4,229.0 253.1,226.9 253.8,225.4 254.5,224.0 255.1,222.4 255.8,220.4 256.5,218.5 257.5,217.0 258.6,215.2 259.6,213.5 260.6,212.1 263.0,214.0 264.4,215.6 265.7,217.4 266.0,219.4 266.2,221.4 266.5,223.3 266.8,225.3 267.1,227.1 267.3,228.8 267.6,230.4 267.9,232.1 268.2,233.7 268.4,235.4 268.7,237.1 269.6,238.7 270.4,240.5 271.3,242.1 272.2,243.6 273.1,244.9 273.9,246.0 274.8,247.8 275.8,250.2 276.9,252.4 277.9,253.9 278.9,255.0 279.9,256.5 280.9,258.4 282.0,259.9 283.0,261.2 283.7,262.9 284.3,264.6 285.0,266.4 285.7,268.1 286.3,269.7 287.0,271.2 287.7,272.7 288.3,274.5 289.0,276.4 289.7,278.4 290.3,280.4 291.0,282.4 291.9,284.1 292.7,285.5 293.6,286.8 294.4,288.1 295.3,289.7 296.1,291.6 297.0,293.9 298.6,295.3 300.1,296.4 301.7,297.0 303.3,297.7 305.3,298.9 307.3,300.1 309.4,300.8 311.4,301.8 313.4,302.1 315.4,302.8 317.5,302.6 319.5,301.8 321.6,302.3 323.6,303.1 325.4,302.9 327.3,303.8 329.1,304.0 331.0,304.9 332.8,304.0 334.7,303.6 336.5,304.4 338.4,305.3 340.2,304.4 342.1,304.9 343.9,305.7 345.7,304.9 347.6,304.7 349.4,304.6 351.3,304.7 353.1,305.5 355.0,305.3 356.8,304.2 358.7,304.4 360.5,305.0 362.4,305.8 364.2,304.5 366.1,303.8 367.9,304.4 369.8,305.0 371.6,304.9 373.5,304.4 375.3,304.3 377.2,303.9 379.0,304.3 380.9,303.9 382.7,304.1 384.6,303.8 386.6,303.8 388.5,303.3 390.5,302.3 392.5,302.1 394.4,300.8 396.4,300.5 398.3,301.4 400.3,301.0 402.2,299.1 404.0,299.6 405.9,299.9 407.7,299.0 409.6,298.6 411.4,298.8 413.3,298.6 415.1,297.7 417.0,297.5 418.8,297.6 420.7,296.3 422.5,297.1 424.4,296.4 426.2,296.7 428.1,296.8 429.9,296.3 431.8,294.3 433.6,295.5 435.5,296.0 437.3,295.2 439.2,294.2 441.0,293.5 442.9,293.8 444.8,293.2 446.7,292.9 448.6,291.5 450.4,291.5 452.3,291.0 454.2,291.1 456.1,290.8 458.0,289.7 458.8,287.6 459.5,285.3 460.2,283.0 461.0,280.7 461.3,278.9 461.5,277.1 461.8,275.3 462.1,273.5 462.4,271.9 462.6,270.2 462.9,268.6 463.2,266.9 463.4,265.0 463.7,263.2 463.9,261.3 464.2,259.2 464.4,257.0 464.6,254.7 464.9,252.5 465.1,250.4 465.3,248.3 465.6,246.3 465.8,244.2 466.0,242.3 466.3,240.6 466.5,238.9 466.7,237.3 467.0,235.6 467.2,233.9 467.4,232.2 467.7,230.4 467.9,228.7 468.1,226.9 468.3,225.1 468.6,223.2 468.8,221.4 469.0,219.5 469.3,217.7 469.5,215.9 469.8,214.0 470.0,212.1 470.2,210.3 470.5,208.4 470.8,206.6 471.0,204.7 471.2,203.0 471.5,201.2 471.8,199.4 472.0,197.6 472.2,195.9 472.5,194.2 472.8,192.5 473.0,190.7 473.2,189.0 473.5,187.2 473.8,185.5 474.0,183.7 474.2,181.7 474.5,179.8 474.8,177.8 475.0,175.8 475.2,174.0 475.5,172.2 475.8,170.4 476.0,168.6 476.2,166.9 476.5,165.2 476.7,163.5 477.0,161.8 477.2,159.9 477.4,158.1 477.6,156.3 477.9,154.4 478.1,152.6 478.3,150.8 478.5,149.0 478.8,147.2 479.0,145.3 479.6,143.2 480.1,141.1 480.6,138.7 481.2,136.3 482.4,137.8 483.5,139.8 483.8,141.7 484.0,143.6 484.2,145.2 484.5,146.9 484.8,148.6 485.0,150.2 485.2,152.1 485.5,154.0 485.7,156.0 485.8,157.9 486.0,159.9 486.2,161.9 486.3,163.9 486.5,165.9 486.7,167.9 486.8,169.9 487.0,172.0 487.1,173.8 487.2,175.6 487.4,177.4 487.5,179.2 487.6,181.0 487.7,182.8 487.8,184.6 488.0,186.5 488.1,188.3 488.2,190.2 488.3,192.1 488.4,194.0 488.6,195.9 488.7,197.8 488.8,199.7 488.9,201.6 489.1,203.5 489.2,205.4 489.3,207.3 489.4,209.2 489.5,211.1 489.7,213.0 489.8,214.8 489.9,216.7 490.1,218.6 490.2,220.5 490.4,222.3 490.5,224.1 490.7,226.0 490.9,227.8 491.0,229.6 491.2,231.4 491.4,233.2 491.5,235.0 491.7,236.8 491.8,238.6 492.0,240.3 492.2,242.2 492.4,244.1 492.6,245.9 492.7,247.8 492.9,249.6 493.1,251.5 493.3,253.4 493.5,255.3 493.6,257.2 493.8,259.1 494.0,260.9 494.2,262.8 494.5,264.4 494.8,266.1 495.1,267.8 495.4,269.4 495.7,271.1 496.0,272.7 496.3,274.6 496.6,276.5 496.9,278.3 497.2,280.2 498.2,278.4 499.1,276.5 500.1,275.1 501.0,273.9 502.0,271.7 502.4,269.6 502.8,267.5 503.2,265.5 503.5,263.5 503.9,261.5 504.3,259.6 504.7,257.8 505.1,255.9 505.5,254.2 505.8,252.4 506.2,250.6 506.6,248.7 507.0,246.8 507.4,244.8 507.9,242.9 508.3,241.2 508.7,239.7 509.2,238.2 509.6,236.7 510.1,235.3 510.5,233.5 510.9,231.7 511.4,229.8 511.8,227.9 512.2,226.0 512.7,224.1 513.1,222.2 515.0,221.0 517.0,218.9 520.2,218.8 521.2,220.5 522.3,221.9 523.3,223.8 524.8,221.8 526.3,219.6 527.0,221.5 527.7,223.4 528.3,225.0 529.0,226.5 529.7,227.7 530.4,229.2 530.9,227.2 531.4,225.7 531.9,224.2 532.4,222.3 533.4,223.5 534.5,224.8 535.5,226.7 536.5,228.7 538.5,228.8 540.6,229.1 541.6,231.2 542.6,232.7 543.9,234.0 545.1,236.3 545.7,238.0 546.3,239.8 546.8,241.7 547.4,243.5 548.0,245.3 548.6,246.9 549.2,248.5 549.7,250.5 550.3,252.6 550.9,254.7 551.5,256.4 552.1,258.0 552.6,259.7 553.2,261.5 553.8,263.5 554.5,265.4 555.2,267.1 555.8,268.4 556.5,269.8 557.2,271.3 557.9,273.0 558.5,274.9 559.2,276.8 559.9,278.8 560.6,280.8 561.2,282.7 561.9,284.6 562.6,286.2 563.8,287.2 564.9,288.6 566.1,290.7 567.3,292.3 568.4,293.7 569.6,294.7 570.8,295.5 571.9,297.2 573.1,299.0 575.1,299.7 577.2,299.9 579.2,300.5 581.3,300.3 583.3,300.5 585.1,301.5 587.0,301.9 588.8,301.3 590.7,302.8 592.5,303.4 594.4,303.3 596.2,304.7 598.1,304.9 599.9,305.2 601.8,304.8 603.6,305.0 605.4,305.2 607.3,305.9 609.1,304.2 611.0,305.0 612.8,305.3 614.7,305.1 616.5,304.7 618.4,305.4 620.2,304.9 622.1,305.3 623.9,305.9 625.7,305.7 627.6,305.7 629.4,304.1 631.3,304.1 633.1,304.4 635.0,304.2 636.8,303.0 638.7,304.3 640.5,304.2 642.4,303.9 644.2,304.4 646.1,304.0 647.9,302.8 649.8,302.6 651.7,302.2 653.5,301.9 655.4,302.3 657.2,301.1 659.1,301.3 661.0,301.1 662.8,300.9 664.7,300.2 666.5,299.8 668.3,299.5 670.1,299.2 671.9,298.9 673.7,298.4 675.4,298.0 677.2,298.4 679.0,298.0 680.8,297.7 682.6,298.1 684.4,297.3 686.2,296.8 688.1,297.3 690.0,297.3 691.8,297.5 693.6,296.7 695.5,297.0 697.4,296.9 699.2,295.8 701.1,297.0 702.9,297.8 704.8,297.3 706.6,296.9 708.5,296.7 710.3,296.4 712.1,295.8 714.0,295.3 715.5,293.1 717.0,291.3 718.5,290.4 720.0,289.3 721.7,288.3 723.3,287.6 725.0,286.3 726.6,285.0 728.3,284.5 729.9,283.3 731.6,282.3 732.0,280.6 732.4,278.9 732.8,277.2 733.1,275.4 733.5,273.3 733.9,271.3 734.3,269.1 734.7,266.9 735.1,264.8 735.5,263.0 735.9,261.3 736.2,259.7 736.6,258.1 737.0,256.4 737.4,254.6 737.7,252.9 738.0,251.1 738.3,249.2 738.6,247.3 738.9,245.4 739.2,243.4 739.5,241.4 739.8,239.4 740.1,237.5 740.5,235.7 740.8,233.8 741.1,232.0 741.4,230.3 741.7,228.6 742.0,226.9 742.3,225.2 742.6,223.4 742.9,221.7 743.2,220.0 743.7,218.3 744.1,216.6 744.6,214.8 745.0,213.0 745.5,210.8 746.0,208.6 746.4,206.6 746.9,204.5 747.3,202.6 747.8,200.9 748.6,199.1 749.4,197.2 750.2,195.2 750.6,197.2 751.1,199.1 751.5,200.9 751.9,202.6 752.3,204.4 752.8,206.2 753.2,208.0 753.6,210.0 753.8,211.9 754.1,213.8 754.3,215.7 754.5,217.6 754.8,219.5 755.0,221.4 755.2,223.2 755.5,225.0 755.7,226.8 755.9,228.6 756.2,230.5 756.4,232.4 756.6,234.3 756.9,236.2 757.1,238.1 757.3,240.1 757.6,242.0 757.8,243.9 758.0,245.9 758.3,247.8 758.5,249.7 758.7,251.6 759.0,253.5 759.2,255.3 759.4,257.2 759.7,259.0 759.9,260.8 760.1,262.6 760.4,264.2 760.6,265.9 761.0,267.4 761.4,269.1 761.8,270.9 762.2,272.7 762.5,274.8 762.9,276.8 763.3,278.6 763.7,280.4 764.1,282.0 764.6,279.9 765.1,277.7 765.6,275.8 766.1,274.0 766.7,272.3 767.2,270.6 767.7,268.9 768.2,267.3 768.7,265.7 769.2,264.0 769.8,262.4 770.3,260.7 770.9,259.1 771.4,257.4 771.9,255.7 772.5,254.0 773.0,252.3 773.5,250.6 774.1,249.0 774.6,247.2 775.2,245.5 775.7,243.9 776.0,242.1 776.3,240.2 776.6,238.2 776.9,236.3 777.2,234.2 777.5,232.1 777.8,229.9 778.1,227.9 778.4,226.1 778.8,224.2 779.1,222.4 779.4,220.7 779.7,219.0 780.0,217.2 780.3,215.4 780.6,213.5 780.9,211.6 781.2,209.7 781.5,207.8 781.9,205.9 782.2,204.1 782.6,202.2 782.9,200.4 783.3,198.6 783.6,196.6 784.0,194.7 784.3,192.9 784.7,191.1 785.0,189.3 785.4,187.6 785.7,186.0 786.1,184.3 786.9,182.6 787.6,180.7 788.4,178.7 789.1,180.4 789.8,181.7 790.5,183.2 791.2,185.1 791.9,187.4 792.2,189.3 792.6,191.1 792.9,193.0 793.3,194.7 793.6,196.4 794.0,198.0 794.4,200.0 794.7,202.0 795.0,204.0 795.4,206.0 796.5,207.4 797.7,208.4 798.9,209.6 800.0,211.1 800.6,213.2 801.2,215.3 801.8,217.2 802.4,219.1 802.9,221.1 803.5,222.8 804.1,224.5 804.7,226.0 805.2,227.6 805.7,229.4 806.2,231.3 806.7,233.3 807.3,235.2 807.8,237.1 808.3,238.9 808.8,240.6 809.3,242.3 810.9,243.9 812.4,245.9 814.0,247.7 814.7,249.5 815.5,251.3 816.2,253.1 816.9,254.6 817.6,255.9 818.3,257.4 819.1,259.3 819.8,261.7 820.5,263.5 821.2,265.0 821.9,266.4 822.6,268.5 823.2,270.7 823.9,272.7 824.6,274.2 825.3,275.9 826.0,277.8 826.7,280.0 827.6,281.5 828.5,282.8 829.3,284.3 830.2,286.2 831.1,287.9 832.0,290.1 832.8,292.5 833.7,294.3 835.2,295.3 836.8,296.0 838.3,296.6 839.8,297.1 841.6,297.9 843.5,298.6 845.3,298.3 847.2,299.4 849.0,300.1 850.9,300.9 852.8,300.0 854.6,301.9 856.5,302.3 858.3,301.3 860.1,302.6 862.0,303.6 863.9,303.2 865.8,303.2 867.7,303.8 869.6,304.3 871.5,303.9 873.4,303.4 875.3,303.3 877.2,303.7 879.1,303.9 881.0,304.0 882.9,304.9 884.8,304.6 886.7,304.3 888.5,303.9 890.4,305.5 892.2,304.4 894.0,305.0"/>
<polyline stroke="#1fa00a" points="102.0,305.6 103.8,305.4 105.7,305.2 107.5,304.4 109.3,305.5 111.2,304.8 113.0,304.6 114.8,304.9 116.6,305.3 118.5,304.7 120.3,304.4 122.2,303.9 124.0,304.4 125.9,302.4 127.7,303.6 129.6,302.5 131.4,303.8 133.3,302.4 135.1,302.7 137.0,302.7 138.8,302.1 140.7,302.3 142.7,302.3 144.8,302.6 146.8,302.5 148.8,302.9 150.8,300.8 152.9,300.4 154.9,301.0 156.6,301.2 158.4,300.1 160.1,299.8 161.8,299.4 163.5,298.5 165.3,298.0 167.0,297.7 168.8,297.4 170.6,297.0 172.4,296.8 174.2,297.3 175.9,296.1 177.7,295.4 179.5,297.1 181.3,296.8 183.0,294.3 184.7,294.3 186.4,294.3 188.1,292.8 189.8,292.1 191.5,291.8 193.2,291.2 194.9,290.7 196.6,290.3 198.2,289.5 199.9,287.9 201.6,288.3 202.4,286.7 203.2,284.7 204.1,282.7 204.9,281.3 205.7,280.2 206.1,278.6 206.5,276.7 207.0,274.9 207.4,272.8 207.8,270.6 208.2,268.6 208.7,266.7 209.1,264.8 209.5,262.9 210.0,261.0 210.4,258.9 210.8,256.8 211.1,254.8 211.3,253.0 211.6,251.1 211.8,249.3 212.1,247.5 212.3,245.7 212.6,244.0 212.8,242.3 213.1,240.5 213.4,238.8 213.6,237.0 213.9,235.3 214.1,233.5 214.4,231.8 214.6,230.0 214.9,228.3 215.1,226.5 215.4,224.7 215.6,222.9 215.9,221.1 216.1,219.3 216.3,217.4 216.5,215.5 216.7,213.6 216.9,211.7 217.1,209.8 217.3,207.9 217.5,206.0 217.7,204.1 217.9,202.2 218.1,200.4 218.3,198.6 218.5,196.8 218.7,195.0 218.9,193.2 219.1,191.5 219.3,189.7 219.5,187.8 219.6,185.9 219.8,184.0 219.9,182.1 220.1,180.1 220.2,178.2 220.3,176.3 220.5,174.4 220.7,172.5 220.8,170.7 221.0,168.9 221.2,167.1 221.3,165.3 221.5,163.5 221.7,161.7 221.8,159.9 222.0,158.1 223.0,156.0 224.0,153.3 225.0,155.5 226.0,158.0 226.2,159.8 226.3,161.6 226.5,163.5 226.7,165.3 226.8,167.1 227.0,168.9 227.2,170.7 227.3,172.5 227.5,174.2 227.7,176.1 227.8,178.0 227.9,179.8 228.1,181.7 228.2,183.6 228.4,185.5 228.5,187.3 228.7,189.2 228.8,191.0 228.9,192.8 228.9,194.6 229.0,196.3 229.1,198.2 229.2,200.1 229.2,201.9 229.3,203.8 229.4,205.7 229.5,207.5 229.5,209.4 229.6,211.3 229.7,213.2 229.8,215.0 229.8,216.9 229.9,218.8 230.0,220.6 230.1,222.5 230.2,224.5 230.4,226.4 230.5,228.3 230.6,230.2 230.8,232.1 230.9,234.1 231.0,236.0 231.1,237.7 231.2,239.5 231.4,241.3 231.5,243.0 231.6,244.8 231.8,246.6 231.9,248.3 232.0,250.1 232.1,251.9 232.3,253.7 232.4,255.5 232.6,257.3 232.7,259.2 232.8,261.0 233.0,262.8 233.1,264.7 233.3,266.6 233.4,268.5 233.5,270.4 233.7,272.3 233.8,274.2 234.0,276.2 234.1,278.0 235.3,279.3 236.6,280.8 237.9,279.3 239.3,277.8 240.6,276.0 242.0,273.9 243.3,272.6 244.5,271.7 245.7,270.1 246.9,268.3 248.1,267.6 249.3,267.2 250.5,265.3 251.7,263.1 252.4,260.9 253.2,258.8 253.9,257.3 254.6,255.9 255.4,254.2 256.1,252.1 256.8,250.4 257.6,248.5 258.3,246.4 258.9,244.3 259.5,242.6 260.1,241.0 260.8,239.2 261.4,237.4 262.0,235.6 262.9,234.4 263.8,232.9 264.6,231.4 265.5,230.1 266.8,232.5 268.0,233.5 268.9,234.7 269.9,236.5 270.8,238.3 271.7,239.9 272.5,241.3 273.4,242.5 274.2,243.7 275.0,245.5 275.9,248.0 276.7,250.3 277.5,252.1 278.3,253.6 279.2,255.0 280.0,256.8 280.6,258.8 281.2,260.8 281.8,262.6 282.4,264.3 283.0,266.0 283.7,267.8 284.3,269.6 284.9,271.5 285.5,273.3 286.1,275.1 286.7,276.7 287.5,278.1 288.4,279.8 289.2,281.7 290.0,283.7 290.8,285.7 291.6,287.5 292.5,288.8 293.3,290.1 294.5,291.3 295.8,293.1 297.0,295.6 299.1,296.9 301.2,297.8 303.3,298.1 305.3,299.3 307.3,300.5 309.4,301.3 311.4,302.3 313.4,302.6 315.4,303.2 317.5,303.0 319.5,302.2 321.6,302.6 323.6,303.3 325.4,303.1 327.3,304.0 329.1,304.2 331.0,305.1 332.8,304.2 334.7,303.8 336.5,304.6 338.4,305.5 340.2,304.6 342.1,305.1 343.9,305.9 345.7,305.1 347.6,304.9 349.4,304.8 351.3,304.9 353.1,305.7 355.0,305.5 356.8,304.4 358.7,304.6 360.5,305.2 362.4,306.0 364.2,304.7 366.1,304.1 367.9,304.7 369.8,305.3 371.6,305.2 373.5,304.7 375.3,304.6 377.2,304.3 379.0,304.7 380.9,304.3 382.7,304.6 384.6,304.3 386.6,304.3 388.5,303.8 390.5,302.8 392.5,302.6 394.4,301.3 396.4,301.0 398.3,301.9 400.3,301.5 402.2,299.6 404.0,300.2 405.9,300.5 407.7,299.7 409.6,299.2 411.4,299.5 413.3,299.4 415.1,298.5 417.0,298.3 418.8,298.4 420.7,297.2 422.5,298.1 424.4,297.4 426.2,297.7 428.1,297.9 429.9,297.4 431.8,295.5 433.6,296.7 435.5,297.3 437.3,296.5 439.2,295.5 441.0,294.9 443.0,295.3 445.1,294.8 447.1,294.2 449.1,292.9 450.8,292.8 452.5,292.0 454.2,291.6 456.0,291.0 457.7,289.6 459.4,288.4 460.7,285.8 462.0,284.1 462.5,282.8 463.0,281.5 463.5,279.8 464.0,278.1 464.6,275.5 465.1,273.1 465.6,270.9 466.1,268.9 466.6,267.6 467.0,266.1 467.3,264.4 467.7,262.7 468.1,261.0 468.4,259.1 468.8,257.3 469.1,255.4 469.5,253.6 469.9,251.8 470.2,250.0 470.6,248.3 470.9,246.5 471.3,244.8 471.7,243.1 472.0,241.4 472.4,239.9 472.7,238.2 472.9,236.5 473.2,234.7 473.5,232.9 473.7,231.1 474.0,229.3 474.3,227.2 474.5,225.1 474.8,223.1 475.1,221.1 475.4,219.2 475.6,217.3 475.9,215.5 476.2,213.7 476.4,211.9 476.7,210.2 477.0,208.4 477.2,206.6 477.5,204.7 477.8,202.9 478.0,201.0 478.3,199.1 478.8,197.3 479.2,195.5 479.6,193.7 480.1,191.9 480.6,189.9 481.0,187.9 482.6,186.4 484.1,185.2 485.3,186.2 486.5,188.1 487.1,190.5 487.8,192.8 488.4,195.4 488.6,197.3 488.7,199.2 488.9,201.2 489.0,203.1 489.2,205.1 489.3,207.0 489.5,208.9 489.6,210.9 489.8,212.8 489.9,214.7 490.1,216.6 490.2,218.5 490.4,220.3 490.5,222.2 490.7,224.0 490.8,225.9 491.0,227.7 491.1,229.5 491.3,231.3 491.5,233.1 491.7,234.9 491.9,236.6 492.0,238.4 492.2,240.2 492.4,242.0 492.6,243.7 492.8,245.5 492.9,247.3 493.1,249.1 493.3,250.9 493.5,252.7 493.7,254.5 493.9,256.3 494.1,258.1 494.2,259.8 494.4,261.5 494.6,263.3 494.8,265.0 495.0,266.7 495.1,268.4 495.3,270.1 495.5,271.9 495.7,273.6 496.3,275.2 496.9,277.0 497.4,278.8 498.0,280.7 498.6,282.3 499.7,281.3 500.8,280.5 501.9,279.0 503.0,277.0 503.5,275.0 504.1,273.1 504.6,271.3 505.1,269.6 505.7,267.9 506.2,266.2 506.8,264.4 507.3,262.4 507.8,260.3 508.4,258.5 508.9,256.9 509.4,255.4 510.0,253.9 510.5,252.0 511.0,250.0 511.6,247.9 512.1,245.8 513.4,244.1 514.7,242.7 516.0,240.8 518.1,239.7 520.2,239.7 521.2,241.6 522.3,243.2 524.3,241.7 526.3,240.0 527.7,242.1 529.0,243.6 530.4,244.7 532.4,242.6 533.5,244.5 534.5,246.5 537.5,246.1 538.5,247.7 539.6,249.4 540.6,251.4 541.2,253.3 541.8,254.9 542.5,256.2 543.1,257.4 543.7,258.9 544.3,260.7 544.9,262.6 545.5,264.4 546.1,266.1 546.8,267.9 547.4,269.7 548.0,271.5 549.0,272.8 549.9,274.7 550.9,276.9 551.9,278.4 552.8,279.9 553.8,281.9 554.8,283.6 555.7,284.7 556.7,285.7 558.2,287.0 559.6,288.8 561.1,290.6 562.6,292.1 564.0,293.0 565.5,294.9 567.3,296.1 569.1,296.8 570.8,296.4 572.6,297.6 574.4,298.7 576.2,299.0 578.0,300.1 579.7,300.4 581.5,300.5 583.3,301.0 585.1,302.0 587.0,302.4 588.8,301.8 590.7,303.3 592.5,303.9 594.4,303.8 596.2,305.2 598.1,305.4 599.9,305.7 601.8,305.3 603.6,305.5 605.4,305.7 607.3,306.4 609.1,304.7 611.0,305.4 612.8,305.7 614.7,305.5 616.5,305.1 618.4,305.9 620.2,305.3 622.1,305.8 623.9,306.3 625.7,306.1 627.6,306.1 629.4,304.5 631.3,304.5 633.1,304.8 635.0,304.6 636.8,303.4 638.7,304.7 640.5,304.6 642.4,304.3 644.2,304.8 646.1,304.4 647.9,303.3 649.8,303.0 651.7,302.7 653.5,302.3 655.4,302.7 657.2,301.5 659.1,301.7 661.0,301.6 662.8,301.4 664.7,300.7 666.5,300.3 668.3,300.0 670.1,299.7 671.9,299.4 673.7,298.9 675.4,298.5 677.2,298.9 679.0,298.5 680.8,298.2 682.6,298.6 684.4,297.8 686.2,297.3 688.1,297.8 690.0,297.8 691.8,298.0 693.6,297.2 695.5,297.5 697.4,297.4 699.2,296.3 701.1,297.5 702.9,298.3 704.8,297.8 706.6,297.4 708.5,297.2 710.3,296.9 712.1,296.3 714.0,295.8 716.0,293.9 718.0,293.1 720.0,292.8 721.9,292.3 723.7,292.2 725.6,291.1 727.4,290.9 729.3,290.6 730.4,288.9 731.6,287.6 732.8,286.6 733.9,284.8 734.7,282.2 735.5,280.1 736.2,278.5 737.0,277.1 737.8,275.2 738.6,273.2 739.2,271.3 739.8,269.2 740.3,267.3 740.9,265.6 741.5,264.0 742.1,262.5 742.6,260.9 743.2,259.4 744.0,257.7 744.7,255.9 745.5,253.7 746.3,251.3 747.0,249.0 747.8,247.3 749.0,245.9 750.2,244.2 751.4,245.9 752.5,247.2 753.6,244.8 754.8,242.7 755.2,244.5 755.6,246.2 756.0,247.9 756.4,249.8 756.7,251.7 757.1,253.6 757.5,255.5 757.9,257.4 758.3,259.3 758.7,261.1 759.2,262.9 759.6,264.7 760.0,266.3 760.5,267.8 760.9,269.2 761.4,270.8 761.8,272.5 763.0,275.4 764.1,277.4 764.7,275.1 765.3,272.9 765.9,270.8 766.4,268.9 767.0,267.1 767.6,265.3 768.3,263.8 769.0,262.3 769.8,260.8 770.5,259.2 771.2,257.6 772.0,256.0 772.7,254.4 773.4,252.8 774.3,251.1 775.2,249.3 776.2,247.6 777.1,245.3 778.0,242.6 778.4,240.8 778.8,239.0 779.2,237.2 779.6,235.5 779.9,233.9 780.3,232.0 780.7,230.2 781.1,228.3 781.5,226.4 781.9,224.4 782.2,222.5 782.5,220.6 782.9,218.7 783.2,216.8 783.6,214.8 784.0,212.8 784.3,210.9 784.6,209.0 785.0,207.1 785.9,205.7 786.7,204.3 787.5,202.8 788.4,201.2 789.1,203.0 789.8,204.5 790.5,206.2 791.2,208.1 791.9,210.6 792.7,212.6 793.5,214.2 794.2,216.0 795.0,218.2 795.8,220.4 796.6,222.1 798.1,223.1 799.7,224.6 801.2,226.6 802.0,228.6 802.7,230.6 803.5,232.4 804.3,234.0 805.0,235.4 805.8,237.4 806.4,239.3 807.0,241.2 807.6,243.1 808.1,244.9 808.7,246.5 809.3,248.1 809.9,249.6 810.5,251.5 811.3,253.7 812.0,256.0 812.8,258.0 813.6,260.1 814.3,262.1 815.1,264.1 815.8,266.0 816.5,267.7 817.2,269.3 817.9,270.6 818.6,272.5 819.3,274.7 820.0,277.1 820.7,278.6 821.4,280.1 822.1,281.7 823.1,283.9 824.1,285.7 825.1,286.9 826.0,288.6 827.0,290.7 828.0,291.9 829.0,293.0 830.5,294.1 832.1,295.6 833.6,297.2 835.2,298.1 836.8,298.8 838.3,299.3 840.2,299.3 842.2,300.0 844.1,300.6 846.0,300.2 848.0,301.8 849.9,302.1 851.9,301.8 853.9,302.4 856.0,303.8 858.0,302.0 860.0,303.1 862.0,304.0 863.9,303.6 865.8,303.6 867.7,304.2 869.6,304.7 871.5,304.3 873.4,303.8 875.3,303.7 877.2,304.1 879.1,304.3 881.0,304.4 882.9,305.3 884.8,305.0 886.7,304.7 888.5,304.3 890.4,305.9 892.2,304.8 894.0,305.4"/>
</g>
<g clip-path="url(#cB)" fill="none" stroke-width="4.0" stroke-linejoin="round" stroke-linecap="butt">
<polyline stroke="#6f1a87" stroke-dasharray="11.5 3.2 5.8 3.2" points="102.0,434.5 104.4,431.8 106.6,430.7 108.8,431.2 111.0,430.4 112.8,430.2 114.7,429.8 116.4,428.6 118.1,426.9 119.8,425.5 122.0,425.4 124.2,424.7 125.7,423.1 127.1,422.7 129.1,421.9 131.0,421.3 133.0,420.6 134.8,420.9 136.7,421.2 138.5,420.4 140.3,420.3 142.2,420.1 144.0,420.0 145.8,419.7 147.7,420.1 149.6,419.7 151.4,419.0 153.2,419.1 155.1,419.1 156.9,419.1 158.7,419.0 160.6,419.1 162.5,419.2 164.4,419.7 166.3,419.9 168.2,420.6 170.0,419.5 171.9,419.3 173.8,418.6 175.6,418.5 177.8,419.1 180.0,419.3 182.2,419.4 184.4,419.1 186.2,419.6 188.1,419.9 189.9,419.8 191.7,420.4 193.6,421.0 195.4,421.3 197.7,421.6 200.0,422.2 201.6,422.4 203.3,424.3 205.0,426.2 205.8,428.0 206.5,429.9 207.2,431.9 208.0,434.2 208.3,435.9 208.5,437.7 208.8,439.5 209.1,441.3 209.3,443.1 209.6,444.9 209.9,446.7 210.2,448.6 210.4,450.5 210.7,452.5 211.0,454.5 211.2,456.4 211.5,458.3 211.7,460.2 211.9,462.1 212.1,463.9 212.3,465.7 212.5,467.5 212.7,469.3 212.9,471.1 213.1,472.9 213.3,474.8 213.5,476.6 213.7,478.5 213.9,480.3 214.1,482.2 214.3,484.0 214.5,485.9 214.7,487.8 214.9,489.6 215.1,491.5 215.3,493.3 215.5,495.1 215.7,497.0 215.9,498.8 216.1,500.7 216.2,502.5 216.4,504.4 216.6,506.2 216.8,508.1 217.0,509.9 217.2,511.8 217.4,513.7 217.6,515.6 217.8,517.5 217.9,519.4 218.1,521.2 218.3,523.1 218.5,524.9 218.6,526.7 218.8,528.6 218.9,530.4 219.0,532.1 219.2,533.9 219.3,535.7 219.5,537.4 219.6,539.2 219.7,540.9 219.9,542.7 220.0,544.5 220.1,546.2 220.2,548.0 220.4,549.8 220.5,551.6 220.6,553.4 220.7,555.2 220.8,557.0 221.0,558.8 221.1,560.6 221.2,562.5 221.3,564.4 221.4,566.2 221.6,568.1 221.7,570.0 221.8,571.9 221.9,573.8 222.0,575.7 222.2,577.5 222.3,579.4 222.4,581.2 222.5,583.1 222.6,584.9 222.8,586.8 222.9,588.7 223.0,590.5 223.1,592.3 223.2,594.1 223.4,595.9 223.5,597.7 223.6,599.4 223.7,601.2 223.8,603.0 223.9,604.8 224.1,606.6 224.2,608.4 224.3,610.2 224.4,612.0 224.5,613.8 224.6,615.6 224.8,617.4 224.9,619.2 225.0,621.0 225.1,622.8 225.2,624.6 225.3,626.5 225.5,628.3 225.6,630.1 225.7,632.0 225.9,630.2 226.2,628.3 226.4,626.5 226.6,624.6 226.9,622.7 227.1,620.9 227.3,619.0 227.6,617.2 227.8,615.4 228.0,613.5 228.2,611.8 228.5,610.1 228.7,608.3 228.9,606.6 229.2,604.9 229.4,603.1 229.6,601.3 229.9,599.6 230.1,597.8 230.3,596.0 230.6,594.2 230.8,592.4 232.4,593.6 234.1,594.2 235.7,594.6 237.4,595.5 239.0,596.3 239.6,598.1 240.2,599.9 240.7,601.8 241.3,603.7 241.9,605.4 242.5,607.2 243.1,608.9 243.6,610.4 244.2,611.9 244.8,613.5 245.4,615.3 245.9,617.3 246.5,619.3 247.1,621.2 247.9,622.6 248.7,624.0 249.5,625.6 250.3,627.5 251.1,629.3 252.0,631.1 252.8,632.8 253.6,634.2 254.4,635.5 255.2,636.7 256.6,638.0 257.9,640.2 259.2,642.0 260.6,643.4 261.9,644.5 263.3,646.0 265.3,647.2 267.4,647.7 269.4,648.7 270.2,646.9 271.0,644.7 271.9,642.6 272.7,640.7 273.5,638.8 275.5,639.0 277.6,638.8 279.6,639.8 280.5,638.0 281.3,636.0 282.1,634.0 283.0,632.2 283.1,630.4 283.3,628.6 283.4,626.7 283.5,624.9 283.7,623.1 283.8,621.2 283.9,619.4 284.1,617.5 284.2,615.7 284.3,613.9 284.4,612.0 284.6,610.2 284.7,608.4 284.8,606.5 285.0,604.7 285.1,602.8 285.2,601.0 285.4,599.1 285.5,597.2 287.6,595.7 289.8,593.6 290.0,591.7 290.2,590.0 290.4,588.2 290.5,586.4 290.7,584.7 290.9,582.9 291.1,581.2 291.3,579.4 291.4,577.6 291.6,575.9 291.8,574.1 292.0,572.4 292.2,570.4 292.3,568.5 292.5,566.6 292.6,564.6 292.8,562.7 292.9,560.7 293.1,558.8 293.2,556.7 293.4,554.7 293.5,552.7 293.7,550.7 293.8,548.7 294.0,546.7 295.6,545.0 297.1,543.7 298.6,542.5 300.2,541.4 301.9,540.2 303.7,538.6 305.4,537.8 307.2,537.2 308.9,535.9 310.5,534.7 312.1,533.4 313.8,532.0 315.4,530.4 317.0,528.7 318.7,527.6 318.8,525.8 319.0,523.9 319.1,522.1 319.2,520.2 319.4,518.4 319.5,516.6 319.6,514.7 319.8,512.9 319.9,511.1 320.0,509.2 320.1,507.3 320.3,505.5 320.4,503.6 320.5,501.7 320.7,499.8 320.8,497.9 322.6,496.7 324.5,496.0 326.3,495.7 328.5,494.4 330.6,492.7 331.7,491.2 332.8,490.0 333.9,488.7 335.0,486.8 336.2,484.8 337.5,483.3 338.8,482.2 340.0,480.8 341.6,478.8 343.2,477.4 345.0,477.5 346.9,477.0 348.7,476.2 350.6,476.3 352.4,475.5 354.3,475.3 356.1,475.0 358.0,474.8 359.8,474.0 361.7,473.2 363.5,472.8 365.1,470.7 366.6,468.8 368.4,468.7 370.1,467.7 371.9,467.3 373.7,467.0 374.1,465.0 374.4,462.8 374.8,460.7 375.1,458.6 375.5,456.6 375.8,454.5 376.2,452.5 378.5,452.2 380.8,451.9 382.4,450.1 384.0,449.3 385.7,448.6 387.3,447.7 388.9,446.7 390.9,446.4 393.0,446.4 395.0,446.2 397.1,445.7 399.1,445.1 400.5,443.7 401.8,442.4 403.2,441.6 405.2,441.7 407.3,440.7 409.3,440.8 411.3,440.9 413.4,440.5 415.4,439.9 416.6,437.9 417.8,437.2 419.1,436.2 420.3,434.7 421.5,433.5 423.3,433.2 425.2,433.2 427.0,432.6 428.8,432.3 430.6,432.4 432.5,432.4 434.3,432.0 436.1,431.6 438.0,432.2 439.8,432.6 441.8,430.7 443.8,428.9 445.6,429.1 447.5,429.6 449.3,430.2 451.2,430.6 453.0,430.7 454.9,431.3 456.7,432.4 458.6,432.5 460.4,432.8 462.3,433.3 464.1,433.5 465.5,434.5 466.8,435.9 467.0,437.8 467.2,439.6 467.4,441.4 467.6,443.2 467.8,445.0 467.9,446.8 468.1,448.6 468.3,450.5 468.5,452.3 468.7,454.2 468.9,456.1 469.0,457.9 469.2,459.9 469.4,461.9 469.5,463.9 469.7,465.8 469.9,467.8 470.0,469.8 470.2,471.8 470.4,473.8 470.5,475.9 470.7,477.9 471.3,480.0 472.0,481.8 472.6,483.5 472.9,485.3 473.1,487.2 473.4,489.2 473.6,491.2 473.9,493.2 474.1,495.2 474.4,497.2 474.6,499.3 474.9,501.2 475.2,503.0 475.5,504.8 475.8,506.6 476.1,508.3 476.4,510.1 476.7,511.8 477.0,513.5 477.3,515.4 477.6,517.2 477.9,519.0 478.2,520.8 478.5,522.7 478.7,524.6 478.9,526.6 479.1,528.6 479.3,530.5 479.5,532.4 479.7,534.4 479.9,536.3 480.1,538.3 480.3,540.3 480.5,542.3 481.8,543.9 483.1,545.3 484.4,546.8 485.9,548.1 487.4,549.3 488.8,550.8 490.3,552.2 491.1,554.3 492.0,556.7 493.1,555.1 494.2,553.2 496.1,554.0 498.1,554.9 500.1,554.9 502.0,555.7 504.5,557.3 507.0,557.6 507.4,559.6 507.8,561.7 508.2,563.7 508.6,565.7 509.0,567.7 509.3,569.5 509.5,571.3 509.8,573.1 510.1,575.0 510.3,576.8 510.6,578.6 510.9,580.4 511.1,582.3 511.4,584.1 511.7,586.0 511.9,587.8 512.2,589.6 512.5,591.4 512.7,593.3 513.0,595.1 513.3,596.8 513.5,598.6 513.8,600.3 514.1,602.1 514.4,603.9 514.6,605.8 514.9,607.6 515.2,609.4 515.4,611.3 515.7,613.1 516.0,615.0 516.2,616.7 516.5,618.4 516.8,620.2 517.1,621.9 517.3,623.6 517.6,625.4 517.8,623.5 518.0,621.6 518.2,619.8 518.4,618.0 518.6,616.1 518.8,614.3 519.0,612.5 519.1,610.6 519.3,608.8 519.5,606.9 519.7,605.0 519.9,603.2 520.1,601.4 520.3,599.6 520.5,597.8 521.1,599.9 521.7,602.2 522.3,604.3 522.9,606.2 523.5,607.6 524.1,609.0 524.7,610.6 525.3,612.4 525.9,614.2 526.5,616.1 527.1,618.1 527.7,619.9 528.3,621.7 529.8,623.0 531.2,624.1 532.7,625.8 534.2,627.3 535.7,628.6 537.1,630.1 538.6,631.3 540.1,632.3 541.9,632.0 543.7,632.5 545.5,633.4 547.4,633.7 549.2,634.2 551.0,634.2 552.8,635.4 553.6,633.9 554.3,632.0 555.1,630.0 555.9,627.7 556.6,625.7 557.4,624.0 558.2,622.6 558.9,621.3 559.7,619.9 559.8,618.0 560.0,616.2 560.1,614.3 560.2,612.5 560.4,610.6 560.5,608.8 560.6,607.0 560.8,605.1 560.9,603.3 561.0,601.4 561.2,599.6 561.3,597.7 561.4,595.8 561.5,594.0 561.7,592.1 561.8,590.2 561.9,588.4 562.1,586.5 562.2,584.7 562.3,582.9 562.5,581.1 562.6,579.2 564.4,578.4 566.2,577.5 568.0,577.4 569.9,577.0 571.7,576.3 573.5,575.5 575.3,574.6 576.2,573.1 577.2,571.5 578.1,569.7 579.1,567.9 580.0,566.1 580.9,564.3 581.8,562.7 582.6,561.0 583.5,559.4 584.4,557.9 585.2,556.4 586.1,554.9 587.0,553.1 587.7,551.2 588.4,549.4 589.1,547.6 589.8,545.8 590.6,544.3 591.3,542.8 592.0,541.2 592.7,539.5 593.4,537.8 595.1,536.4 596.8,535.8 598.5,534.5 600.2,533.1 601.9,532.0 603.6,531.0 604.6,529.1 605.6,527.2 606.6,525.6 607.7,523.9 608.7,522.3 609.7,520.7 610.7,518.8 611.7,516.9 612.7,515.5 613.7,514.4 614.7,512.9 615.8,510.8 616.8,509.2 617.8,508.1 618.8,506.5 619.8,504.9 621.0,503.7 622.1,502.7 623.3,501.3 624.5,499.5 625.7,497.5 626.8,495.3 628.0,494.1 629.8,493.9 631.6,492.7 633.4,492.0 635.2,491.4 637.0,490.9 638.8,489.9 640.6,488.9 642.4,488.8 644.2,488.3 646.1,487.2 648.0,486.8 649.9,486.3 651.7,485.2 653.6,484.3 655.5,484.0 657.4,483.5 657.7,481.5 658.1,479.6 658.4,477.6 658.8,475.5 659.1,473.5 659.5,471.6 659.8,469.7 660.1,467.7 660.5,465.9 660.8,464.0 661.2,462.1 661.5,460.1 662.9,458.0 664.3,456.4 665.8,455.6 667.2,454.5 668.6,453.1 670.6,452.5 672.5,452.2 674.5,452.0 676.5,452.3 678.5,452.4 680.5,451.7 682.4,451.3 684.4,450.8 685.3,449.2 686.1,447.8 687.0,446.3 688.9,446.3 690.8,446.1 692.7,446.4 694.6,446.4 696.5,446.7 698.4,446.9 700.2,447.2 702.1,447.1 704.0,447.5 705.9,447.2 707.8,446.9 709.7,447.3 711.6,447.6 713.5,448.6 715.4,447.8 717.4,448.1 719.3,448.5 721.2,449.5 723.1,449.6 725.0,449.5 726.9,450.4 728.8,451.5 730.6,452.1 732.5,452.7 734.4,453.9 736.3,454.6 737.1,456.4 737.9,458.5 738.7,460.4 739.6,462.0 740.4,463.8 741.2,465.8 742.0,467.8 742.2,469.6 742.4,471.3 742.5,473.1 742.7,474.8 742.9,476.6 743.1,478.3 743.3,480.1 743.4,481.8 743.6,483.6 743.8,485.3 744.0,487.1 744.2,488.9 744.4,490.7 744.5,492.4 744.7,494.2 744.9,496.0 745.1,497.8 745.3,499.7 745.4,501.5 745.6,503.3 745.8,505.1 746.1,507.0 746.4,508.8 746.7,510.7 747.0,512.6 747.3,514.5 747.6,516.4 748.2,518.4 748.9,520.5 749.5,522.5 750.1,524.5 750.8,526.1 751.4,527.8 752.0,529.5 752.7,531.8 753.3,533.9 755.2,533.0 757.1,532.0 757.8,530.0 758.6,528.2 759.3,526.4 760.1,524.4 760.8,522.4 762.4,523.8 764.0,525.4 765.6,526.6 766.4,528.3 767.2,530.2 768.0,532.4 768.5,534.3 769.0,536.1 769.5,538.0 769.9,539.8 770.4,541.7 770.9,543.5 771.2,545.3 771.5,547.1 771.8,548.9 772.0,550.7 772.3,552.7 772.6,554.7 772.9,556.7 774.3,555.3 775.8,553.4 776.2,555.4 776.7,557.4 777.1,559.4 777.5,561.3 777.9,563.1 778.4,564.9 778.8,566.8 779.1,568.6 779.4,570.5 779.8,572.5 780.1,574.4 780.4,576.3 780.8,578.2 781.1,580.1 781.4,581.7 781.7,583.4 782.1,585.1 782.4,586.9 782.7,588.6 783.0,590.5 783.3,592.4 783.5,594.3 783.8,596.2 784.1,598.1 784.4,599.8 784.7,601.5 784.9,603.2 785.2,604.9 785.5,606.6 785.8,608.3 786.0,610.0 786.3,611.8 786.6,613.6 786.8,615.4 787.0,617.3 787.3,619.1 787.5,620.9 787.7,622.7 787.9,624.6 788.2,626.4 788.4,628.3 788.6,630.2 788.8,632.1 789.1,634.0 789.3,635.8 789.5,637.7 790.5,639.9 791.5,642.1 792.8,640.9 794.1,639.2 795.4,637.4 797.0,639.6 798.7,641.0 800.3,641.9 802.8,642.8 805.2,643.4 805.9,641.3 806.5,639.5 807.2,637.9 807.8,636.4 808.5,634.4 809.1,632.1 811.5,630.5 814.0,629.4 815.0,627.6 816.0,626.0 816.9,624.3 817.9,622.0 819.9,620.2 821.8,620.0 823.8,619.2 825.8,618.4 825.9,616.6 826.1,614.8 826.2,613.1 826.4,611.3 826.5,609.5 826.6,607.8 826.8,606.0 826.9,604.3 827.0,602.5 827.2,600.7 827.3,599.0 827.5,597.2 827.6,595.4 827.7,593.6 827.9,591.9 828.0,590.1 828.1,588.2 828.3,586.4 828.4,584.5 828.6,582.7 828.7,580.8 828.9,578.9 829.1,577.1 829.3,575.3 829.5,573.5 829.7,571.7 831.3,571.2 832.8,570.0 834.4,568.1 835.9,567.3 837.5,566.0 838.2,564.4 838.8,562.7 839.5,560.9 840.1,559.0 840.8,557.2 841.4,555.4 842.1,553.7 842.7,552.2 843.4,550.6 844.6,549.2 845.9,547.8 847.1,546.6 848.3,545.1 849.5,543.5 850.8,541.7 852.0,540.1 853.2,539.1 854.4,537.8 855.6,536.2 856.8,534.6 858.0,533.0 859.3,531.6 860.5,530.3 861.7,528.9 862.9,527.4 863.9,525.6 864.9,523.8 865.9,522.2 866.9,521.0 867.9,519.5 868.9,517.3 869.9,515.1 870.9,513.4 871.9,512.0 872.9,510.4 873.9,508.3 874.9,506.4 875.9,504.8 876.9,503.0 878.4,501.9 879.9,500.8 881.4,499.1 882.8,498.4 884.3,497.0 885.8,495.4 887.3,494.6 889.0,492.7 890.6,491.2 892.3,490.4 894.0,490.0"/>
<polyline stroke="#0068ba" stroke-dasharray="11.5 3.2 5.8 3.2" points="102.0,434.5 104.4,431.8 106.6,430.7 108.8,431.2 111.0,430.4 112.8,430.2 114.7,429.8 116.4,428.6 118.1,426.9 119.8,425.5 122.0,425.4 124.2,424.7 125.7,423.1 127.1,422.7 129.1,421.9 131.0,421.3 133.0,420.6 134.8,420.9 136.7,421.2 138.5,420.4 140.3,420.3 142.2,420.1 144.0,420.0 145.8,419.7 147.7,420.1 149.6,419.7 151.4,419.0 153.2,419.1 155.1,419.1 156.9,419.1 158.7,419.0 160.6,419.1 162.5,419.2 164.4,419.7 166.3,419.9 168.2,420.6 170.0,419.5 171.9,419.3 173.8,418.6 175.6,418.5 177.8,419.1 180.0,419.3 182.2,419.4 184.4,419.1 186.2,419.6 188.1,419.9 189.9,419.8 191.7,420.4 193.6,421.0 195.4,421.3 197.7,421.6 200.0,422.2 201.6,422.4 203.3,424.0 205.0,425.7 206.0,427.6 207.0,429.7 208.0,432.2 208.3,434.0 208.7,435.8 209.0,437.7 209.3,439.5 209.7,441.4 210.0,443.2 210.3,445.3 210.7,447.4 211.0,449.4 211.3,451.4 211.7,453.4 212.0,455.4 212.2,457.2 212.4,459.0 212.6,460.8 212.8,462.6 213.1,464.4 213.3,466.2 213.5,468.0 213.7,469.9 213.9,471.7 214.1,473.5 214.3,475.4 214.5,477.3 214.7,479.1 214.9,481.0 215.2,482.8 215.4,484.6 215.6,486.4 215.8,488.2 216.0,490.0 216.2,491.9 216.4,493.8 216.6,495.6 216.8,497.5 216.9,499.3 217.1,501.2 217.3,503.1 217.5,505.0 217.7,506.8 217.9,508.7 218.1,510.6 218.2,512.5 218.4,514.3 218.6,516.2 218.8,518.0 219.0,519.9 219.2,521.6 219.3,523.4 219.5,525.1 219.6,526.9 219.8,528.6 219.9,530.4 220.1,532.2 220.2,534.0 220.4,535.8 220.5,537.6 220.7,539.4 220.8,541.2 221.0,542.9 221.1,544.8 221.3,546.8 221.4,548.7 221.6,550.6 221.8,552.5 221.9,554.4 222.0,556.3 222.2,558.1 222.3,560.0 222.5,561.9 222.6,563.7 222.8,565.6 222.9,567.5 223.1,569.3 223.2,571.0 223.4,572.8 223.5,574.5 223.7,576.3 223.8,578.1 223.9,580.0 224.1,581.8 224.2,583.6 224.3,585.5 224.4,587.3 224.5,589.2 224.7,591.0 224.8,592.9 224.9,594.7 225.0,596.6 225.1,598.4 225.3,600.3 225.4,602.2 225.5,604.1 225.6,605.9 225.7,607.8 225.9,609.7 226.0,611.6 226.1,613.4 226.2,615.2 226.3,617.1 226.5,618.9 226.6,620.7 226.7,622.6 226.9,620.7 227.0,618.8 227.2,617.0 227.3,615.1 227.5,613.3 227.6,611.4 227.8,609.6 227.9,607.7 228.1,605.9 228.2,604.1 228.4,602.4 228.6,600.6 228.7,598.8 228.9,597.0 229.0,595.2 229.2,593.4 229.3,591.6 229.5,589.8 229.6,588.0 229.8,586.2 231.6,587.2 233.4,588.3 235.1,588.3 236.9,589.3 238.9,590.7 241.0,592.6 241.5,594.4 242.0,596.2 242.5,598.0 243.0,599.7 243.5,601.3 244.0,602.9 244.5,604.5 245.0,606.2 246.0,608.3 247.0,610.4 248.1,611.8 249.1,613.2 250.1,615.1 251.1,617.0 251.7,619.0 252.2,621.0 252.8,622.9 253.3,624.6 253.9,626.2 254.4,627.8 255.0,629.3 255.5,631.0 256.1,632.7 256.6,634.7 257.2,636.7 258.4,638.9 259.6,640.7 260.9,642.1 262.1,643.3 263.3,645.0 265.3,646.5 267.4,647.4 269.4,648.7 270.1,646.9 270.8,644.7 271.4,642.7 272.1,640.6 272.8,638.7 273.5,636.8 275.5,637.0 277.6,636.8 279.6,637.8 280.5,636.0 281.3,634.0 282.1,632.0 283.0,630.2 283.1,628.4 283.3,626.6 283.4,624.7 283.5,622.9 283.7,621.1 283.8,619.2 283.9,617.4 284.1,615.5 284.2,613.7 284.3,611.9 284.4,610.0 284.6,608.2 284.7,606.4 284.8,604.5 285.0,602.7 285.1,600.8 285.2,599.0 285.4,597.1 285.5,595.2 287.6,593.7 289.8,591.6 290.0,589.7 290.2,588.0 290.4,586.2 290.5,584.4 290.7,582.7 290.9,580.9 291.1,579.2 291.3,577.4 291.4,575.6 291.6,573.9 291.8,572.1 292.0,570.4 292.2,568.4 292.3,566.5 292.5,564.6 292.6,562.6 292.8,560.7 292.9,558.7 293.1,556.8 293.2,554.7 293.4,552.7 293.5,550.7 293.7,548.7 293.8,546.7 294.0,544.7 295.6,543.0 297.1,541.7 298.6,540.5 300.2,539.4 301.9,538.2 303.7,536.6 305.4,535.8 307.2,535.2 308.9,533.9 310.5,532.7 312.1,531.4 313.8,530.0 315.4,528.4 317.0,526.7 318.7,525.6 318.8,523.8 319.0,521.9 319.1,520.1 319.2,518.2 319.4,516.4 319.5,514.6 319.6,512.7 319.8,510.9 319.9,509.1 320.0,507.2 320.1,505.3 320.3,503.5 320.4,501.6 320.5,499.7 320.7,497.8 320.8,495.9 322.6,494.7 324.5,494.0 326.3,493.7 328.5,492.4 330.6,490.7 331.7,489.2 332.8,488.0 333.9,486.7 335.0,484.8 336.2,482.8 337.5,481.3 338.8,480.2 340.0,478.8 341.6,477.5 343.2,476.8 345.0,476.9 346.9,476.4 348.7,475.6 350.6,475.7 352.4,474.9 354.3,474.7 356.1,474.4 358.0,474.2 359.8,473.4 361.7,472.6 363.5,472.2 365.1,470.1 366.6,468.2 368.4,468.1 370.1,467.1 371.9,466.7 373.7,466.4 374.1,464.4 374.4,462.2 374.8,460.1 375.1,458.0 375.5,456.0 375.8,453.9 376.2,451.9 378.5,451.6 380.8,451.3 382.4,449.5 384.0,448.7 385.7,448.0 387.3,447.1 388.9,446.1 390.9,445.8 393.0,445.8 395.0,445.6 397.1,445.1 399.1,444.5 400.5,443.1 401.8,441.8 403.2,441.0 405.2,441.1 407.3,440.1 409.3,440.2 411.3,440.3 413.4,439.9 415.4,439.3 416.6,437.3 417.8,436.6 419.1,435.6 420.3,434.1 421.5,432.9 423.3,432.6 425.2,432.6 427.0,432.0 428.8,431.7 430.6,431.8 432.5,431.8 434.3,431.4 436.1,431.0 438.0,431.6 439.8,432.0 441.8,430.1 443.8,428.3 445.6,428.4 447.5,428.9 449.3,429.3 451.2,429.7 453.0,429.7 454.9,430.2 456.7,431.3 458.6,431.3 460.4,431.5 462.3,431.9 464.1,432.0 466.8,433.9 467.0,435.7 467.3,437.4 467.5,439.1 467.8,440.8 468.0,442.4 468.2,444.2 468.5,445.9 468.7,447.7 468.9,449.6 469.2,451.6 469.4,453.7 469.7,455.7 469.9,457.8 470.2,459.9 470.4,462.1 470.7,464.2 470.9,466.2 471.2,468.0 471.4,469.8 471.7,471.6 471.9,473.4 472.2,475.1 472.4,476.8 472.6,478.5 472.9,480.2 473.1,482.0 473.4,483.9 473.6,485.8 473.9,487.7 474.1,489.6 474.4,491.5 474.6,493.4 475.0,495.3 475.3,497.0 475.7,498.8 476.0,500.5 476.4,502.2 476.7,503.9 477.1,505.7 477.4,507.5 477.8,509.3 478.1,511.1 478.5,512.9 478.8,514.9 479.0,516.8 479.2,518.8 479.5,520.7 479.8,522.6 480.0,524.5 480.2,526.5 480.5,528.6 481.8,530.9 483.1,532.9 484.4,535.1 485.4,537.0 486.4,538.7 487.3,540.5 488.3,542.4 488.8,544.4 489.3,546.4 489.8,548.4 490.3,550.2 491.6,548.3 492.9,546.9 494.2,545.3 496.1,545.8 498.1,546.5 500.1,546.3 502.0,546.9 504.0,548.8 505.9,549.9 507.9,551.0 508.1,553.0 508.4,554.9 508.6,556.9 508.8,558.9 509.0,560.7 509.3,562.6 509.5,564.4 509.8,566.3 510.0,568.1 510.3,570.0 510.5,571.8 510.8,573.7 511.0,575.5 511.2,577.4 511.5,579.3 511.7,581.1 512.0,583.0 512.2,584.9 512.5,586.7 512.7,588.6 513.0,590.4 513.3,592.1 513.6,593.9 513.9,595.6 514.2,597.4 514.5,599.2 514.8,601.1 515.1,602.9 515.4,604.7 515.7,606.6 516.0,608.4 516.3,610.2 516.6,611.9 516.9,610.0 517.2,608.1 517.4,606.2 517.7,604.3 518.0,602.4 518.3,600.6 518.5,598.8 518.8,597.0 519.1,595.2 519.4,593.3 519.7,591.5 519.9,589.6 520.2,587.8 520.5,586.1 521.0,588.1 521.5,590.3 522.0,592.5 522.5,594.4 523.0,596.2 523.5,597.7 523.9,599.1 524.4,600.7 524.9,602.3 525.4,604.1 525.9,606.0 526.4,607.8 528.4,609.3 530.3,610.5 532.3,611.8 533.3,614.1 534.2,616.0 535.2,617.9 536.2,620.0 537.8,621.0 539.3,621.7 540.9,622.2 542.4,623.0 544.0,624.2 545.8,625.9 547.5,627.1 549.3,628.5 551.0,629.4 552.8,631.5 553.3,629.8 553.8,628.0 554.3,626.0 554.8,624.0 555.3,621.8 555.8,619.6 557.8,618.2 559.7,617.9 559.8,616.0 560.0,614.2 560.1,612.3 560.2,610.5 560.4,608.6 560.5,606.8 560.6,605.0 560.8,603.1 560.9,601.3 561.0,599.4 561.2,597.6 561.3,595.7 561.4,593.8 561.5,592.0 561.7,590.1 561.8,588.2 561.9,586.4 562.1,584.5 562.2,582.7 562.3,580.9 562.5,579.1 562.6,577.2 564.4,576.2 566.1,575.1 567.9,574.7 569.6,574.2 571.4,573.3 573.1,571.8 574.8,570.2 576.6,569.4 578.3,568.2 578.9,566.4 579.5,564.6 580.0,562.8 580.6,561.0 581.2,559.1 582.2,557.5 583.2,555.8 584.2,554.3 585.1,552.8 586.1,551.3 587.1,549.5 587.8,547.6 588.5,545.7 589.2,543.8 589.9,542.0 590.6,540.4 591.3,538.9 592.0,537.3 592.7,535.5 593.4,533.8 595.1,532.5 596.8,532.1 598.5,530.9 600.2,529.7 601.9,528.7 603.6,527.9 604.5,526.2 605.4,524.5 606.3,523.0 607.2,521.5 608.1,520.0 609.0,518.6 609.9,517.0 610.8,515.3 611.7,513.6 612.7,512.2 613.7,511.0 614.7,509.6 615.8,507.4 616.8,505.8 617.8,504.7 618.8,503.1 619.8,501.4 621.0,500.4 622.1,499.4 623.3,498.1 624.5,496.5 625.7,494.5 626.8,492.5 628.0,491.4 629.8,491.2 631.6,490.0 633.4,489.3 635.2,488.7 637.0,488.2 638.8,487.1 640.6,486.1 642.4,486.0 644.2,485.5 646.1,484.4 648.0,483.9 649.9,483.5 651.7,482.3 653.6,481.5 655.5,481.1 657.4,480.6 657.7,478.8 658.0,476.9 658.3,475.0 658.7,473.1 659.0,471.2 659.3,469.4 659.6,467.6 659.9,465.8 660.2,464.0 660.6,462.2 660.9,460.5 661.2,458.7 661.5,456.8 662.9,454.8 664.3,453.3 665.8,452.5 667.2,451.5 668.6,450.2 670.6,449.6 672.5,449.4 674.5,449.2 676.5,449.4 678.5,449.5 680.5,448.8 682.4,448.5 684.4,448.0 685.3,446.4 686.1,444.8 687.0,443.3 688.9,443.3 690.8,443.2 692.7,443.5 694.6,443.6 696.5,443.8 698.4,444.1 700.2,444.4 702.1,444.4 704.0,444.8 705.9,444.5 707.8,444.3 709.7,444.7 711.6,445.0 713.5,445.9 715.4,445.1 717.4,445.4 719.3,445.7 721.2,446.7 723.1,446.8 725.0,446.7 726.9,447.5 728.8,448.7 730.6,449.2 732.5,449.8 734.4,451.0 735.2,452.6 736.0,454.2 736.8,455.7 737.7,457.4 738.5,459.1 739.3,460.6 740.1,461.9 740.5,463.9 740.9,465.8 741.4,467.8 741.8,469.7 742.2,471.6 742.6,473.4 743.1,475.2 743.5,476.9 743.9,478.7 744.2,480.5 744.5,482.4 744.8,484.3 745.1,486.2 745.5,488.1 745.8,490.0 746.1,491.8 746.4,493.7 746.7,495.6 747.3,497.5 747.8,499.5 748.4,501.5 748.9,503.5 749.5,505.6 750.0,507.6 750.6,509.2 751.1,510.9 751.7,512.6 752.2,514.5 752.8,516.7 753.3,518.8 754.0,520.8 754.7,522.6 755.4,524.5 756.1,526.4 757.1,524.4 758.0,522.4 759.0,520.7 760.9,518.6 762.7,516.9 764.1,518.7 765.5,520.1 767.0,521.1 768.4,522.9 768.8,524.7 769.2,526.6 769.6,528.4 770.0,530.3 770.3,532.1 770.7,533.9 771.1,535.7 771.5,537.4 771.9,539.1 774.8,539.7 775.1,541.6 775.5,543.6 775.8,545.5 776.1,547.5 776.5,549.5 776.8,551.5 777.3,553.5 777.8,555.3 778.3,557.2 778.8,559.0 779.3,561.0 779.8,563.2 780.2,565.3 780.7,567.5 781.0,569.5 781.2,571.4 781.5,573.3 781.7,575.1 782.0,577.0 782.2,578.9 782.5,580.9 782.7,582.8 783.0,584.6 783.2,586.5 783.5,588.4 783.8,590.2 784.0,592.1 784.3,593.8 784.5,595.4 784.8,597.1 785.1,598.8 785.3,600.4 785.6,602.1 785.8,604.0 786.0,605.9 786.1,607.8 786.3,609.8 786.5,611.7 786.7,613.7 786.9,615.6 787.1,617.6 787.2,619.5 787.4,621.5 787.6,623.5 788.0,625.5 788.4,627.6 788.8,629.7 789.3,631.8 789.7,633.8 790.1,635.7 790.5,637.5 793.4,639.7 794.4,637.5 795.4,635.5 796.4,633.8 797.7,636.1 799.0,637.7 800.3,639.0 802.8,639.9 805.2,640.4 805.7,638.3 806.2,636.4 806.7,634.7 807.1,633.0 807.6,631.4 808.1,629.6 810.0,627.6 812.0,626.5 813.0,624.3 814.0,622.5 815.0,620.7 816.0,619.1 818.0,618.5 819.9,616.8 821.9,616.8 823.8,616.1 825.8,615.5 825.9,613.6 826.1,611.8 826.2,610.0 826.4,608.2 826.5,606.4 826.7,604.6 826.8,602.8 827.0,601.0 827.1,599.1 827.2,597.3 827.4,595.5 827.5,593.6 827.7,591.8 827.8,590.0 828.0,588.1 828.1,586.3 828.3,584.3 828.4,582.4 828.6,580.5 828.7,578.6 828.9,576.6 829.1,574.6 829.3,572.6 829.5,570.7 829.7,568.7 831.3,568.2 832.8,567.0 834.4,565.2 835.9,564.4 837.5,563.1 838.2,561.5 838.8,559.7 839.5,557.9 840.1,556.0 840.8,554.2 841.4,552.4 842.1,550.7 842.7,549.1 843.4,547.5 844.6,546.1 845.9,544.7 847.1,543.6 848.3,542.1 849.5,540.4 850.8,538.7 852.0,537.1 853.2,536.1 854.4,534.8 855.6,533.2 856.8,531.6 858.0,530.0 859.3,528.6 860.5,527.3 861.7,525.9 862.9,524.4 863.9,522.6 864.9,520.8 865.9,519.2 866.9,518.0 867.9,516.5 868.9,514.3 869.9,512.1 870.9,510.4 871.9,509.0 872.9,507.4 873.9,505.4 874.9,503.5 875.9,501.9 876.9,500.1 878.4,499.0 879.9,497.9 881.4,496.2 882.8,495.4 884.3,494.0 885.8,492.4 887.3,491.6 889.0,489.7 890.6,488.2 892.3,487.4 894.0,487.0"/>
<polyline stroke="#d53f07" points="102.0,434.5 104.4,431.8 106.6,430.7 108.8,431.2 111.0,430.4 112.8,430.2 114.7,429.8 116.4,428.6 118.1,426.9 119.8,425.5 122.0,425.4 124.2,424.7 125.7,423.1 127.1,422.7 129.1,421.9 131.0,421.3 133.0,420.6 134.8,420.9 136.7,421.2 138.5,420.4 140.3,420.3 142.2,420.1 144.0,420.0 145.8,419.7 147.7,420.1 149.6,419.7 151.4,419.0 153.2,419.1 155.1,419.1 156.9,419.1 158.7,419.0 160.6,419.1 162.5,419.2 164.4,419.7 166.3,419.9 168.2,420.6 170.0,419.5 171.9,419.3 173.8,418.6 175.6,418.5 177.8,419.1 180.0,419.3 182.2,419.4 184.4,419.1 186.2,419.6 188.1,419.9 189.9,419.8 191.7,420.4 193.6,421.0 195.4,421.3 197.7,421.6 200.0,422.2 201.6,422.4 203.8,423.9 206.0,424.9 207.3,426.8 208.5,428.7 209.8,430.3 210.2,432.1 210.5,434.2 210.9,436.2 211.3,438.1 211.6,440.1 212.0,442.0 212.3,443.7 212.7,445.5 213.1,447.3 213.4,449.1 213.8,450.9 214.0,452.7 214.3,454.5 214.5,456.3 214.8,458.2 215.0,460.0 215.2,461.7 215.5,463.5 215.7,465.2 216.0,467.0 216.2,468.8 216.5,470.5 216.7,472.3 216.9,474.1 217.2,475.9 217.4,477.7 217.7,479.5 217.9,481.3 218.1,483.1 218.2,484.9 218.4,486.6 218.6,488.4 218.7,490.2 218.9,492.0 219.0,493.7 219.2,495.5 219.4,497.2 219.5,498.9 219.7,500.6 219.8,502.3 220.0,504.1 220.2,505.8 220.3,507.6 220.5,509.4 220.7,511.3 220.9,513.1 221.1,515.0 221.3,517.1 221.5,519.1 221.7,521.1 221.9,523.1 222.1,525.1 222.3,527.1 222.5,529.0 222.7,531.0 222.9,533.0 223.1,534.9 223.3,536.7 223.5,538.5 223.7,540.3 223.8,542.1 223.9,543.8 224.0,545.6 224.1,547.4 224.2,549.2 224.3,550.9 224.4,552.7 224.5,554.5 224.6,556.3 224.7,558.1 224.8,559.8 224.9,561.6 225.0,563.4 225.1,565.2 225.2,567.0 225.3,568.8 225.4,570.6 225.5,572.4 225.6,574.3 225.7,576.1 225.8,577.9 225.9,579.8 226.0,581.6 226.1,583.4 226.2,585.3 226.2,587.1 226.3,588.9 226.4,590.7 226.5,592.5 226.6,594.4 226.7,596.2 226.8,594.4 226.9,592.5 227.0,590.7 227.1,588.9 227.2,587.0 227.3,585.2 227.4,583.4 227.5,581.6 227.6,579.8 227.6,578.0 227.7,576.1 227.8,574.3 227.9,572.5 228.0,570.7 228.1,568.9 228.2,567.1 228.3,565.4 228.4,563.6 229.6,565.9 230.8,568.0 232.8,568.9 234.9,568.6 236.9,569.1 239.0,569.4 241.0,570.3 242.0,571.9 243.0,573.3 244.0,574.4 245.0,575.7 245.8,577.7 246.7,579.7 247.6,581.4 248.4,582.9 249.2,584.4 250.1,586.3 250.7,588.2 251.4,590.2 252.0,592.1 252.6,594.0 253.3,595.7 253.9,597.2 254.6,598.6 255.2,600.1 255.6,601.8 255.9,603.5 256.3,605.4 256.7,607.3 257.1,609.3 257.4,611.4 257.8,613.4 258.2,615.4 258.6,617.4 258.9,619.3 259.3,621.2 259.8,622.9 260.3,624.6 260.8,626.3 261.3,627.9 261.8,629.5 262.3,631.2 262.8,633.0 263.3,634.8 264.0,636.7 264.7,638.6 265.4,640.5 266.0,642.3 266.7,643.8 267.4,645.4 269.4,647.7 269.7,646.0 270.1,644.1 270.4,642.2 270.8,640.2 271.1,638.3 271.5,636.4 271.8,634.5 272.2,632.6 272.5,630.8 275.5,630.9 277.6,632.2 279.6,634.7 281.1,636.0 282.6,637.3 282.7,635.3 282.8,633.4 282.9,631.5 283.0,629.6 283.1,627.7 283.2,625.8 283.3,623.9 283.4,622.0 283.4,620.1 283.5,618.2 283.6,616.3 283.7,614.4 283.8,612.5 283.9,610.6 284.0,608.7 284.1,606.8 284.3,605.0 284.4,603.1 284.6,601.3 284.7,599.5 284.9,597.7 285.1,595.8 285.2,594.0 285.4,592.1 285.5,590.3 285.7,588.4 287.8,587.2 289.8,585.5 290.0,583.6 290.2,581.9 290.3,580.1 290.5,578.4 290.7,576.6 290.9,574.8 291.1,573.1 291.3,571.3 291.4,569.6 291.6,567.8 291.8,566.1 291.9,564.3 292.0,562.4 292.1,560.6 292.1,558.7 292.2,556.9 292.3,555.0 292.4,553.1 292.5,551.3 292.6,549.4 292.6,547.5 292.7,545.7 292.8,543.8 293.6,540.5 295.2,538.9 296.9,538.0 298.6,537.1 300.2,536.4 301.9,535.2 303.7,533.6 305.4,532.8 307.2,532.2 308.9,530.9 310.5,529.7 312.1,528.4 313.8,527.0 315.4,525.4 317.0,523.7 318.7,522.6 318.8,520.8 319.0,518.9 319.1,517.1 319.2,515.2 319.4,513.4 319.5,511.6 319.6,509.7 319.8,507.9 319.9,506.1 320.0,504.2 320.1,502.3 320.3,500.5 320.4,498.6 320.5,496.7 320.7,494.8 320.8,492.9 322.6,491.7 324.5,491.0 326.3,490.7 328.5,489.4 330.6,487.7 331.7,486.2 332.8,485.0 333.9,483.7 335.0,481.8 336.2,479.8 337.5,478.3 338.8,477.2 340.0,475.8 343.2,474.6 345.0,474.7 346.9,474.2 348.7,473.4 350.6,473.5 352.4,472.7 354.3,472.5 356.1,472.2 358.0,472.0 359.8,471.2 361.7,470.4 363.5,470.0 365.1,467.9 366.6,466.0 368.4,465.9 370.1,464.9 371.9,464.5 373.7,464.2 374.1,462.2 374.4,460.0 374.8,457.9 375.1,455.8 375.5,453.8 375.8,451.7 376.2,449.7 378.5,449.4 380.8,449.1 382.4,447.3 384.0,446.5 385.7,445.8 387.3,444.9 388.9,443.9 390.9,443.6 393.0,443.6 395.0,443.4 397.1,442.9 399.1,442.3 400.5,440.9 401.8,439.6 403.2,438.8 405.2,438.9 407.3,437.9 409.3,438.0 411.3,438.1 413.4,437.7 415.4,437.1 416.6,435.1 417.8,434.4 419.1,433.4 420.3,431.9 421.5,430.7 423.3,430.4 425.2,430.4 427.0,429.8 428.8,429.5 430.6,429.6 432.5,429.6 434.3,429.2 436.1,428.8 438.0,429.4 439.8,429.8 441.8,427.9 443.8,426.1 445.6,426.2 447.5,426.7 449.3,427.2 451.2,427.5 453.0,427.5 454.9,428.1 456.7,429.1 458.6,429.2 460.4,429.4 462.3,429.8 464.1,429.9 464.8,429.7 465.9,431.5 466.9,433.2 468.0,434.4 468.9,436.0 469.8,438.2 470.7,440.7 471.2,442.8 471.6,444.7 472.1,446.5 472.6,448.2 473.1,449.9 473.6,452.0 474.1,454.1 474.6,456.2 475.0,458.3 475.5,460.2 476.0,462.2 476.5,464.0 476.9,465.7 477.2,467.5 477.6,469.3 478.0,471.1 478.3,472.9 478.7,474.7 479.0,476.5 479.4,478.2 479.8,479.9 480.1,481.7 480.5,483.6 480.7,485.6 480.9,487.6 481.1,489.5 481.3,491.6 481.4,493.6 481.6,495.6 481.8,497.6 482.0,499.6 482.2,501.5 482.4,503.5 483.0,505.4 483.5,507.5 484.1,509.5 484.6,511.5 485.2,513.4 485.7,515.3 486.3,517.1 486.8,519.0 487.3,520.9 487.8,522.8 488.3,524.8 488.8,526.8 489.3,528.8 489.6,530.8 489.8,532.7 490.1,534.7 490.4,536.5 490.7,538.4 490.9,540.2 491.2,542.2 491.5,540.2 491.9,538.3 492.2,536.4 492.5,534.5 492.9,532.7 493.2,530.7 495.5,531.0 497.7,531.6 500.0,531.1 502.0,531.2 503.9,531.8 505.9,531.6 506.9,532.9 507.9,534.6 508.9,536.3 509.8,538.0 510.7,539.8 511.1,541.8 511.5,543.8 511.9,545.8 512.3,547.7 512.6,549.7 513.0,551.6 513.4,553.4 513.8,555.3 514.2,557.1 514.6,559.1 514.9,560.9 515.1,562.7 515.4,564.5 515.7,566.3 516.0,568.2 516.2,569.9 516.5,571.6 516.8,573.3 517.1,575.0 517.3,576.7 517.6,578.4 517.9,576.3 518.2,574.4 518.6,572.4 518.9,570.4 519.2,568.5 519.5,566.4 519.9,564.4 520.2,562.5 520.5,560.6 521.5,563.2 522.5,565.7 523.4,567.4 524.4,568.8 525.0,570.5 525.5,572.5 526.1,574.6 526.6,576.6 527.2,578.7 527.7,580.6 528.3,582.6 530.3,583.4 532.3,584.4 533.3,586.7 534.2,588.6 535.2,590.5 536.2,592.6 537.0,594.7 537.8,596.6 538.5,598.4 539.3,600.2 540.1,602.0 541.4,600.2 542.7,598.8 544.0,597.7 546.0,599.8 547.9,601.2 549.5,602.8 551.2,603.8 552.8,606.0 553.2,604.2 553.6,602.2 554.0,600.2 554.4,598.0 554.8,595.9 556.8,594.1 558.7,594.1 558.9,592.3 559.0,590.5 559.2,588.7 559.3,586.9 559.5,585.0 559.6,583.2 559.8,581.4 559.9,579.6 560.1,577.8 560.2,575.9 560.4,574.1 560.5,572.3 560.7,570.5 560.8,568.6 561.0,566.8 561.1,565.0 561.3,563.1 561.4,561.3 561.6,559.4 562.9,558.4 564.2,556.9 565.5,555.1 567.5,554.8 569.4,554.6 571.4,553.9 573.3,553.0 575.3,552.1 576.0,550.6 576.8,549.1 577.5,547.4 578.3,545.7 579.7,544.2 581.0,542.7 582.4,541.3 583.7,539.9 585.1,538.8 585.9,536.9 586.7,534.8 587.5,532.7 588.3,530.5 589.1,528.4 590.0,526.6 590.8,525.3 591.7,523.8 592.5,522.2 593.4,520.6 595.1,519.5 596.8,519.2 598.5,518.2 600.2,517.2 601.9,516.3 603.6,515.7 604.6,513.8 605.6,511.9 606.6,510.3 607.7,508.7 608.7,507.1 609.7,505.4 610.7,503.5 611.7,501.7 612.7,500.0 613.7,498.7 614.8,497.0 615.8,494.6 616.8,492.8 617.8,491.4 619.1,489.9 620.5,488.7 621.8,488.0 623.2,486.9 624.5,485.3 625.9,483.4 627.7,482.7 629.5,482.8 631.3,481.8 633.0,481.1 634.8,480.8 636.6,480.3 638.4,479.6 640.2,478.7 641.9,478.2 643.6,477.8 645.3,476.6 647.0,475.6 648.7,475.2 650.7,474.5 652.6,473.0 654.5,472.4 656.5,471.8 656.9,470.0 657.3,468.0 657.7,466.1 658.1,464.1 658.4,462.0 658.8,460.0 659.2,458.0 659.6,456.0 660.0,454.1 661.2,452.8 662.4,451.0 663.7,449.1 664.9,448.0 666.1,447.3 668.0,447.1 670.0,446.6 671.9,445.7 673.8,445.5 675.8,445.1 677.7,445.1 679.6,444.6 681.6,443.6 683.5,442.9 684.9,440.7 686.2,438.8 688.0,439.1 689.8,439.0 691.6,439.0 693.4,439.3 695.2,439.4 697.0,439.5 698.9,439.9 700.7,440.0 702.5,440.2 704.3,440.3 706.1,440.2 707.9,439.9 709.7,440.3 711.6,440.5 713.5,441.4 715.4,440.6 717.4,440.8 719.3,441.1 721.2,442.1 723.1,442.1 725.0,442.0 726.9,442.9 728.8,444.0 730.6,444.6 732.5,445.2 734.4,446.4 736.3,447.1 737.2,448.7 738.2,450.6 739.1,452.1 740.1,453.4 741.0,455.2 742.0,457.0 742.9,458.4 743.9,459.8 744.3,461.6 744.7,463.5 745.1,465.4 745.5,467.3 746.0,469.2 746.4,471.1 746.8,473.0 747.2,474.9 747.6,476.8 748.1,478.8 748.5,480.8 749.0,482.8 749.5,484.8 750.0,486.8 750.5,488.5 750.9,490.2 751.4,492.0 751.9,493.7 752.5,495.8 753.0,498.0 753.6,500.0 754.1,501.9 754.7,503.8 755.2,505.6 757.1,507.4 759.0,509.3 759.9,507.4 760.9,505.3 761.8,503.5 762.7,501.8 764.6,503.6 766.5,504.4 768.4,505.9 769.4,507.3 770.3,508.7 771.2,510.0 772.2,511.2 773.1,512.9 774.1,514.9 775.0,516.6 776.0,518.1 776.9,519.8 777.8,521.2 778.8,522.5 779.7,524.4 780.2,526.5 780.8,528.6 781.3,530.4 781.9,532.0 782.4,533.9 783.0,535.8 783.5,537.8 783.8,539.7 784.0,541.6 784.3,543.3 784.5,545.0 784.8,546.7 785.0,548.4 785.3,550.1 785.6,551.8 785.8,553.5 786.1,555.2 786.3,557.0 786.6,558.8 786.7,560.7 786.9,562.6 787.0,564.4 787.2,566.3 787.3,568.2 787.4,570.0 787.6,571.9 787.7,573.8 787.8,575.7 788.0,577.5 788.1,579.5 788.3,581.4 788.4,583.3 788.5,585.2 788.7,587.1 788.8,589.0 788.9,590.9 789.1,592.8 789.2,594.7 789.4,596.6 789.5,598.5 789.6,600.3 789.8,602.2 789.9,604.0 790.0,605.9 790.1,607.6 790.2,609.4 790.4,611.2 790.5,613.0 790.6,614.7 790.8,616.5 790.9,618.3 791.0,620.1 791.1,621.9 791.2,623.7 791.4,625.6 791.5,627.4 792.0,625.4 792.5,623.8 793.0,622.1 793.4,620.1 793.9,618.1 794.4,616.0 797.4,616.5 797.8,618.5 798.2,620.4 798.6,622.2 799.1,623.9 799.5,625.7 799.9,627.4 800.3,629.2 801.3,630.7 802.3,632.5 803.2,634.5 804.2,636.1 805.2,637.5 805.5,635.6 805.9,633.8 806.2,632.0 806.5,630.4 806.8,628.8 807.2,627.2 807.5,625.6 807.8,624.0 808.1,622.3 808.5,620.4 808.8,618.5 809.1,616.5 812.0,616.7 812.4,614.8 812.9,612.9 813.3,611.1 813.7,609.3 814.1,607.5 814.6,605.8 815.0,604.0 817.5,605.1 819.9,604.3 822.8,602.6 824.4,601.9 826.1,600.8 827.7,600.3 827.8,598.5 827.9,596.7 827.9,594.9 828.0,593.1 828.1,591.3 828.2,589.5 828.3,587.7 828.3,585.8 828.4,584.0 828.5,582.2 828.6,580.4 828.7,578.5 828.7,576.7 828.8,574.9 828.9,573.0 829.0,571.2 829.1,569.4 829.1,567.6 829.2,565.8 829.3,564.0 829.4,562.2 829.5,560.4 829.5,558.6 829.6,556.8 829.7,555.0 831.7,554.9 833.6,553.2 835.5,552.3 837.5,551.3 838.1,549.4 838.8,547.5 839.5,545.5 840.1,543.4 840.8,541.3 841.4,539.3 842.7,538.2 844.0,537.2 845.3,535.9 846.7,534.9 848.0,533.7 849.3,532.2 850.5,530.4 851.6,528.6 852.8,527.3 853.9,526.0 855.1,524.2 856.7,522.7 858.4,521.1 860.0,519.9 860.9,518.4 861.8,516.8 862.7,515.1 863.7,513.5 864.6,511.8 865.5,510.3 866.4,509.0 867.0,507.5 867.6,506.0 868.1,504.3 868.7,502.2 869.3,500.2 869.9,498.2 871.1,496.9 872.2,495.8 873.4,494.3 874.6,492.6 875.7,491.2 876.9,489.7 878.6,488.8 880.3,487.6 882.1,486.3 883.8,485.6 885.5,484.2 887.2,483.8 888.9,482.2 890.6,480.8 892.3,480.3 894.0,480.1"/>
<polyline stroke="#1fa00a" points="102.0,434.5 104.4,431.8 106.6,430.7 108.8,431.2 111.0,430.4 112.8,430.2 114.7,429.8 116.4,428.6 118.1,426.9 119.8,425.5 122.0,425.4 124.2,424.7 125.7,423.1 127.1,422.7 129.1,421.9 131.0,421.3 133.0,420.6 134.8,420.9 136.7,421.2 138.5,420.4 140.3,420.3 142.2,420.1 144.0,420.0 145.8,419.7 147.7,420.1 149.6,419.7 151.4,419.0 153.2,419.1 155.1,419.1 156.9,419.1 158.7,419.0 160.6,419.1 162.5,419.2 164.4,419.7 166.3,419.9 168.2,420.6 170.0,419.5 171.9,419.3 173.8,418.6 175.6,418.5 177.8,419.1 180.0,419.3 182.2,419.4 184.4,419.1 186.2,419.6 188.1,419.9 189.9,419.8 191.7,420.4 193.6,421.0 195.4,421.3 197.7,421.6 200.0,422.2 201.6,422.4 203.6,423.3 205.7,424.0 207.7,424.9 209.1,426.6 210.4,428.5 211.8,430.9 212.4,432.6 213.0,434.1 213.6,435.9 214.1,437.6 214.7,439.4 215.3,441.1 215.9,442.8 216.2,444.6 216.5,446.4 216.8,448.3 217.1,450.1 217.4,452.0 217.7,453.9 218.1,455.8 218.4,457.6 218.7,459.4 219.0,461.3 219.3,463.0 219.6,464.8 219.9,466.5 220.1,468.3 220.4,470.2 220.6,472.0 220.9,473.9 221.1,475.8 221.3,477.9 221.6,479.9 221.8,482.0 222.0,484.0 222.3,486.0 222.5,488.0 222.8,490.0 223.0,492.0 223.1,493.8 223.3,495.5 223.4,497.3 223.5,499.1 223.7,500.8 223.8,502.6 223.9,504.4 224.0,506.2 224.2,507.9 224.3,509.7 224.4,511.5 224.6,513.3 224.7,515.1 224.9,516.9 225.0,518.8 225.2,520.6 225.3,522.5 225.5,524.4 225.7,526.3 225.8,528.2 226.0,530.1 226.1,531.9 226.1,533.7 226.2,535.6 226.3,537.4 226.3,539.2 226.4,541.1 226.5,542.9 226.6,544.7 226.6,546.6 226.7,548.4 226.8,546.4 226.9,544.5 227.0,542.5 227.1,540.5 227.2,538.6 227.3,536.6 227.4,534.7 227.5,532.7 227.6,530.8 227.7,528.8 227.8,526.9 228.5,529.1 229.1,531.3 229.8,533.4 231.6,534.0 233.5,534.7 235.3,534.4 237.2,535.0 239.0,535.3 240.5,534.5 242.0,533.7 243.3,534.8 244.6,535.7 245.8,537.1 247.1,538.9 249.1,538.8 251.1,539.8 252.1,541.6 253.1,543.1 254.2,544.2 255.2,545.2 255.9,546.6 256.6,548.4 257.2,550.4 257.9,552.5 258.6,554.4 259.3,556.2 259.9,557.9 260.4,559.5 261.0,561.1 261.6,562.6 262.2,564.2 262.7,566.0 263.3,567.7 263.8,569.6 264.2,571.5 264.7,573.5 265.1,575.4 265.6,577.4 266.0,579.3 266.5,581.0 266.9,582.6 267.4,584.4 267.6,586.2 267.8,588.0 267.9,589.8 268.1,591.7 268.3,593.7 268.5,595.6 268.7,597.5 268.9,599.4 269.0,601.3 269.2,603.2 269.4,605.0 269.7,603.2 270.0,601.4 270.3,599.4 270.6,597.5 270.9,595.5 271.3,593.6 271.6,591.7 271.9,589.7 272.2,587.8 272.5,586.0 273.5,587.5 274.5,589.1 275.5,590.6 276.5,592.1 278.1,594.1 279.6,597.1 280.4,599.1 281.1,600.9 281.9,602.7 282.6,604.7 282.7,602.8 282.8,601.0 283.0,599.2 283.1,597.4 283.2,595.6 283.3,593.8 283.4,592.0 283.5,590.2 283.6,588.4 283.8,586.6 283.9,584.8 284.0,583.0 284.1,581.2 284.2,579.4 284.4,577.6 284.5,575.8 284.6,574.0 284.7,572.2 285.3,570.1 285.9,568.0 286.5,565.9 287.1,563.8 287.7,561.8 290.8,560.5 290.9,558.6 291.0,556.8 291.1,555.0 291.2,553.2 291.3,551.3 291.4,549.5 291.5,547.7 291.6,545.8 291.7,544.0 291.8,542.2 291.9,540.3 292.0,538.5 292.1,536.6 292.2,534.7 292.3,532.8 292.4,530.9 292.5,529.1 292.6,527.2 292.7,525.3 292.8,523.4 295.8,521.0 298.0,520.0 300.1,519.6 302.3,518.4 303.9,516.8 305.6,516.1 307.2,515.4 308.9,514.1 310.5,512.9 312.1,511.6 313.8,510.1 315.4,508.5 317.0,507.1 318.7,506.4 318.9,504.6 319.0,502.7 319.2,500.9 319.3,499.0 319.5,497.2 319.7,495.4 319.8,493.5 320.0,491.7 320.2,489.8 320.3,487.9 320.5,486.0 320.6,484.1 320.8,482.2 322.5,480.9 324.1,479.9 326.3,480.1 328.4,479.4 330.6,478.5 331.5,476.8 332.4,475.3 333.2,474.0 334.1,472.4 335.8,470.0 337.4,468.1 339.1,466.8 341.0,466.1 342.8,465.7 344.7,465.8 346.6,465.4 348.4,464.7 350.3,464.8 352.2,464.2 354.1,464.0 356.0,463.9 357.8,463.9 359.7,463.3 361.6,462.6 363.5,462.4 365.3,460.3 367.1,458.5 369.3,458.5 371.5,457.9 373.7,458.0 374.0,456.1 374.3,454.2 374.6,452.3 374.8,450.3 375.1,448.4 375.4,446.6 375.7,444.7 378.8,444.2 381.4,443.5 383.9,442.4 385.6,441.5 387.2,440.4 388.9,439.3 390.9,439.0 393.0,438.9 395.1,438.6 397.1,438.1 399.1,435.9 401.1,434.2 403.1,434.4 405.2,434.4 407.2,433.2 409.2,433.0 411.3,433.0 413.3,432.5 414.7,431.1 416.1,428.8 417.6,427.9 419.0,427.3 420.4,425.9 422.3,426.0 424.3,425.7 426.2,425.9 428.2,424.9 430.1,425.4 432.0,425.3 434.0,425.1 435.9,424.5 437.9,425.2 439.8,425.7 440.8,424.1 441.8,422.3 443.6,422.3 445.5,422.2 447.3,422.5 449.2,422.9 451.0,423.1 452.9,423.0 454.7,423.4 456.6,424.2 458.4,424.3 460.3,424.2 462.1,424.5 463.8,425.1 465.5,425.7 467.2,426.6 468.2,427.9 469.2,429.5 470.3,431.7 471.3,433.9 472.3,435.3 473.8,436.6 475.3,438.5 475.9,440.2 476.5,441.8 477.1,443.4 477.6,445.2 478.2,447.0 478.8,448.8 479.4,450.4 479.8,452.3 480.1,454.2 480.5,456.2 480.9,458.2 481.3,460.2 481.6,462.2 482.0,464.3 482.4,466.2 483.4,468.2 484.5,470.4 485.1,472.9 485.7,475.2 486.2,476.9 486.7,478.6 487.2,480.3 487.8,482.0 488.3,483.8 488.8,485.7 489.3,487.5 489.8,489.3 490.0,491.2 490.2,493.1 490.4,494.9 490.6,496.7 490.8,498.5 491.0,500.4 491.2,502.3 491.4,504.2 491.7,502.4 492.0,500.5 492.2,498.8 492.5,497.0 492.8,495.3 494.6,495.9 496.5,496.6 498.3,497.2 500.2,497.2 502.0,497.9 504.5,499.1 507.0,499.0 507.9,500.8 508.7,502.5 509.6,504.2 510.4,506.0 511.2,507.8 512.1,509.6 512.9,511.4 513.6,513.0 514.4,514.7 515.1,516.5 515.9,518.3 516.6,519.9 516.8,521.8 516.9,523.7 517.1,525.6 517.3,527.5 517.4,529.5 517.6,531.4 518.3,529.3 519.0,527.4 519.8,525.3 520.5,523.4 521.8,525.6 523.1,527.1 524.4,527.6 525.4,529.4 526.3,531.5 527.3,533.6 528.3,535.6 530.3,536.4 532.3,537.4 533.5,539.3 534.6,540.8 535.8,542.4 536.9,544.1 538.1,545.6 539.4,546.6 540.7,547.5 542.0,548.5 544.0,548.3 546.0,548.4 548.0,549.3 549.9,550.5 551.8,551.6 553.8,553.2 554.5,550.9 555.2,548.6 556.0,546.0 556.7,543.7 559.7,543.5 559.9,541.7 560.0,539.8 560.2,538.0 560.3,536.2 560.5,534.4 560.6,532.6 560.8,530.8 561.0,528.9 561.1,527.1 561.3,525.3 561.4,523.4 561.6,521.6 561.7,519.8 561.9,517.9 563.6,517.5 565.3,516.2 567.0,515.6 569.0,516.0 571.0,515.6 573.1,515.1 575.1,514.5 576.1,512.7 577.2,510.9 578.2,508.8 580.0,507.7 581.8,506.5 583.5,505.4 585.3,504.7 586.3,503.0 587.3,500.9 588.4,498.9 589.4,496.9 590.4,495.4 591.4,494.1 592.4,492.7 593.4,491.1 595.1,490.1 596.9,490.0 598.6,489.0 600.4,488.2 602.1,487.5 603.9,487.0 605.6,485.9 606.8,484.7 608.0,483.3 609.3,482.1 610.5,480.6 611.7,479.0 612.9,477.5 614.1,476.4 615.4,474.4 616.6,472.3 617.8,471.1 619.4,469.7 621.0,468.9 622.7,468.3 624.3,467.0 625.9,465.1 627.7,464.3 629.5,464.4 631.3,463.3 633.1,462.6 635.0,462.2 636.8,461.7 638.6,460.9 640.4,459.9 642.2,459.9 644.0,459.6 645.8,458.7 647.5,458.3 649.3,458.1 651.1,457.6 652.9,456.5 654.6,456.3 656.4,456.1 656.9,454.3 657.4,452.4 657.9,450.4 658.5,448.4 659.0,446.4 659.5,444.4 660.0,442.5 660.5,440.6 662.0,439.5 663.5,437.8 665.1,437.1 666.6,436.8 668.4,436.6 670.2,436.1 672.0,435.3 673.8,435.3 675.5,434.8 677.3,435.0 679.1,434.7 680.9,433.6 682.7,433.2 684.0,430.9 685.3,429.0 687.2,429.5 689.1,429.5 690.9,429.4 692.8,429.8 694.7,429.8 696.6,430.1 698.4,430.4 700.3,430.7 702.2,430.7 704.1,431.2 705.9,430.9 707.8,430.7 709.7,431.1 711.6,431.4 713.5,432.4 715.4,431.7 717.4,432.0 719.3,432.4 721.2,433.4 723.1,433.6 725.0,433.5 726.9,434.2 728.8,435.2 730.6,435.6 732.5,436.0 734.4,437.1 736.3,437.6 737.8,439.2 739.3,440.6 740.9,442.0 742.4,443.6 743.9,444.7 745.0,446.1 746.1,447.7 747.3,449.2 748.4,450.9 749.5,452.7 750.3,454.3 751.1,455.6 751.9,457.0 752.8,459.0 753.6,460.9 754.4,462.6 755.2,464.1 756.4,465.6 757.5,466.8 758.7,468.3 759.9,469.7 762.7,467.8 764.1,469.6 765.5,471.0 767.0,472.0 768.4,473.8 769.2,475.6 770.0,477.3 770.8,479.0 771.7,480.5 772.5,482.3 773.3,484.3 774.1,486.6 775.0,484.8 775.9,482.9 776.7,484.9 777.5,486.7 778.3,488.4 779.2,490.1 780.0,492.4 780.8,494.6 781.6,496.3 782.1,498.0 782.5,499.9 783.0,501.8 783.5,503.9 784.0,505.9 784.5,507.6 784.9,509.3 785.4,511.0 785.6,512.8 785.8,514.6 786.0,516.4 786.3,518.3 786.5,520.2 786.7,522.1 786.9,524.0 787.1,525.9 787.3,527.8 787.6,529.7 787.8,531.6 788.0,533.5 788.2,535.5 788.4,537.5 788.6,539.6 788.8,541.6 788.9,543.6 789.1,545.6 789.3,547.6 789.5,549.6 789.7,551.4 789.9,553.2 790.1,555.0 790.3,556.8 790.5,558.5 790.7,560.2 790.9,561.9 791.1,563.7 791.3,565.5 791.5,567.4 791.7,569.2 791.9,571.0 792.1,572.9 792.3,574.8 792.5,576.8 793.2,575.1 794.0,573.0 794.7,570.8 795.4,568.9 796.4,571.2 797.3,573.3 798.3,575.2 798.6,577.1 798.9,578.9 799.2,580.7 799.4,582.5 799.7,584.3 800.0,586.1 800.3,588.0 801.5,589.7 802.8,591.9 804.0,593.9 805.2,595.4 805.5,593.5 805.7,591.6 806.0,589.7 806.2,588.0 806.5,586.3 806.7,584.6 807.0,582.8 807.2,581.2 808.2,580.0 809.1,577.9 810.1,575.7 813.0,576.4 813.3,574.5 813.7,572.5 814.0,570.6 814.3,568.7 814.7,566.8 815.0,564.8 817.5,565.9 819.9,565.1 821.3,563.5 822.8,561.5 824.8,560.8 826.7,559.8 826.8,558.1 826.9,556.3 827.0,554.6 827.1,552.8 827.2,551.0 827.3,549.2 827.4,547.4 827.5,545.7 827.6,543.9 827.8,542.1 827.9,540.3 828.0,538.5 828.1,536.7 828.2,534.9 828.3,533.1 828.4,531.2 828.5,529.4 828.6,527.5 828.7,525.7 830.2,524.1 831.8,523.3 833.3,521.1 835.0,519.7 836.8,518.7 838.5,517.6 839.2,515.8 839.9,514.0 840.6,512.1 841.3,510.3 842.0,508.6 843.3,507.4 844.6,505.9 845.9,504.5 847.2,503.3 848.6,501.7 849.9,500.0 851.2,498.1 852.5,496.7 854.2,496.0 856.0,494.6 857.7,493.1 859.4,491.9 861.2,490.9 862.9,489.6 863.8,487.8 864.6,486.0 865.5,484.4 866.4,482.9 867.5,481.8 868.6,480.1 869.7,478.1 870.8,476.4 871.8,475.3 872.9,473.9 874.0,472.0 875.1,470.4 876.8,469.7 878.6,469.0 880.3,468.0 882.1,466.9 883.8,466.5 885.5,465.2 887.2,464.9 888.9,463.5 890.6,462.3 892.3,461.8 894.0,461.8"/>
</g>
<g clip-path="url(#cC)" fill="none" stroke-width="4.0" stroke-linejoin="round" stroke-linecap="butt">
<polyline stroke="#6f1a87" stroke-dasharray="11.5 3.2 5.8 3.2" points="974.0,306.6 975.9,305.9 977.8,306.5 979.6,306.8 981.5,306.4 983.4,305.8 985.3,304.8 987.2,306.2 989.1,307.2 990.9,304.6 992.8,305.1 994.7,305.1 996.6,305.7 998.5,305.4 1000.4,304.7 1002.3,304.5 1004.2,303.9 1006.1,304.6 1007.9,303.7 1009.8,304.1 1011.7,304.3 1013.6,303.8 1015.5,303.1 1017.4,301.7 1019.3,302.2 1021.1,302.8 1022.9,302.7 1024.7,301.5 1026.5,301.3 1028.3,301.4 1030.1,302.1 1031.9,301.4 1033.7,300.9 1035.5,300.7 1037.3,300.4 1039.1,300.7 1040.9,300.6 1042.6,299.1 1044.4,298.5 1046.1,297.1 1047.9,296.9 1049.6,296.5 1051.4,296.2 1053.1,295.4 1054.9,294.5 1056.6,294.4 1058.3,293.7 1060.1,292.5 1061.8,290.5 1063.5,289.5 1065.2,289.5 1067.0,288.7 1068.7,288.3 1069.3,286.6 1069.9,284.6 1070.5,282.7 1071.2,280.8 1071.8,278.9 1072.4,277.3 1073.0,275.7 1073.6,274.5 1074.2,273.3 1074.8,271.9 1075.4,270.4 1076.0,268.8 1076.7,267.0 1077.3,265.1 1077.9,263.3 1078.5,261.5 1079.2,259.6 1080.0,257.6 1080.7,255.9 1081.5,254.3 1082.2,252.5 1082.9,250.3 1083.7,248.7 1084.4,247.2 1085.2,245.6 1085.9,243.7 1086.2,241.9 1086.6,240.2 1086.9,238.4 1087.2,236.8 1087.6,235.2 1087.9,233.5 1088.3,231.8 1088.6,230.0 1088.9,228.2 1089.3,226.4 1089.6,224.6 1089.9,222.8 1090.3,220.9 1090.6,219.0 1090.9,217.1 1091.3,215.2 1091.6,213.3 1092.0,211.4 1092.3,209.5 1092.6,207.8 1093.0,206.0 1093.3,204.2 1093.6,202.4 1093.9,200.6 1094.2,198.8 1094.5,197.0 1094.8,195.2 1095.2,193.4 1095.5,191.5 1095.8,189.6 1096.1,187.8 1096.4,186.1 1096.7,184.5 1097.0,182.8 1097.3,181.1 1097.6,179.5 1098.0,177.8 1098.3,176.0 1098.6,174.1 1098.9,172.2 1099.2,170.4 1099.5,168.7 1100.5,170.6 1101.5,172.0 1102.4,173.0 1103.4,174.4 1104.4,176.3 1105.7,178.5 1106.9,180.1 1108.2,182.1 1109.4,184.3 1111.2,182.6 1113.1,182.0 1115.0,180.4 1116.8,179.2 1118.3,178.2 1119.8,177.6 1121.4,175.9 1122.9,174.3 1123.9,176.3 1125.0,178.4 1126.0,180.4 1126.6,182.2 1127.2,184.0 1127.9,185.7 1128.5,187.4 1128.9,189.3 1129.3,191.3 1129.7,193.3 1130.1,195.4 1130.5,197.5 1130.8,199.6 1131.1,201.8 1131.3,203.9 1131.6,206.0 1131.9,208.1 1132.2,210.2 1132.4,212.2 1132.7,214.1 1132.9,216.1 1133.1,218.0 1133.4,219.9 1133.6,221.8 1133.8,223.6 1134.1,225.5 1134.3,227.3 1134.5,229.0 1134.8,230.8 1135.0,232.6 1135.2,234.4 1135.5,236.2 1135.7,238.0 1136.1,239.7 1136.5,241.5 1137.0,243.3 1137.4,245.1 1137.8,247.0 1138.2,249.0 1138.6,251.2 1139.0,253.3 1139.5,255.5 1139.9,257.6 1140.3,259.6 1140.9,261.4 1141.5,263.0 1142.0,264.5 1142.6,265.9 1143.2,267.4 1143.8,269.2 1144.4,271.2 1145.0,273.2 1145.5,275.0 1146.1,276.7 1146.7,278.3 1147.3,279.9 1148.3,281.0 1149.4,282.2 1150.4,283.9 1151.4,285.9 1152.5,288.0 1153.5,290.1 1154.5,291.8 1155.6,292.7 1156.6,293.4 1158.3,295.0 1160.0,295.3 1161.8,296.4 1163.5,298.2 1165.3,298.5 1167.1,297.1 1168.9,298.5 1170.7,298.9 1172.5,298.9 1174.3,300.1 1176.1,300.3 1177.9,300.2 1179.7,301.0 1181.8,301.0 1183.8,301.3 1185.8,301.6 1187.9,301.7 1190.0,303.0 1192.0,303.4 1193.9,303.1 1195.8,303.4 1197.7,304.0 1199.6,304.1 1201.5,304.2 1203.4,303.5 1205.3,304.0 1207.2,305.2 1209.1,305.1 1211.0,305.4 1212.9,305.2 1214.8,304.7 1216.7,304.8 1218.6,305.7 1220.5,306.0 1222.4,305.3 1224.3,306.2 1226.2,306.3 1228.1,306.0 1230.0,306.7 1231.9,306.3 1233.7,304.9 1235.6,305.8 1237.5,306.2 1239.3,306.1 1241.2,306.4 1243.0,306.5 1244.9,305.3 1246.8,305.6 1248.6,305.0 1250.5,304.6 1252.4,304.7 1254.2,304.9 1256.1,304.4 1258.0,304.5 1259.8,303.9 1261.7,303.9 1263.6,303.8 1265.5,303.2 1267.3,303.9 1269.2,303.9 1271.1,302.9 1272.9,302.7 1274.8,302.9 1276.7,302.0 1278.6,302.5 1280.4,302.5 1282.3,302.1 1284.2,301.5 1286.1,301.7 1288.0,300.2 1289.9,301.3 1291.8,301.0 1293.7,300.2 1295.6,299.2 1297.5,299.3 1299.4,298.8 1301.3,298.9 1303.2,299.5 1304.9,298.3 1306.7,296.7 1308.4,296.2 1310.1,296.7 1311.9,295.5 1313.6,295.4 1315.3,294.6 1317.1,294.3 1318.8,294.0 1320.1,291.5 1321.4,290.3 1322.8,289.5 1324.1,288.5 1325.4,286.7 1326.7,285.0 1328.8,285.0 1330.9,283.5 1332.9,283.0 1335.0,283.9 1337.1,282.4 1337.5,280.7 1337.9,279.0 1338.3,277.3 1338.8,275.6 1339.2,273.8 1339.6,271.8 1340.0,269.8 1340.6,268.0 1341.2,266.4 1341.8,265.1 1342.3,263.7 1342.9,262.1 1343.5,259.9 1344.1,257.7 1344.7,255.5 1345.2,253.6 1345.8,252.0 1346.4,250.4 1347.0,248.6 1347.3,246.9 1347.6,245.2 1347.9,243.4 1348.3,241.8 1348.6,240.1 1348.9,238.5 1349.2,236.8 1349.5,235.0 1349.8,233.2 1350.1,231.4 1350.5,229.4 1350.8,227.5 1351.1,225.6 1351.4,223.7 1351.7,221.9 1352.0,220.0 1352.3,218.4 1352.6,216.8 1353.0,215.2 1353.3,213.6 1353.6,211.9 1353.9,210.3 1354.2,208.5 1354.4,206.8 1354.7,205.0 1355.0,203.3 1355.2,201.5 1355.5,199.8 1355.7,198.1 1356.0,196.4 1356.3,194.5 1356.5,192.7 1356.8,190.8 1357.1,189.0 1357.3,187.3 1357.6,185.5 1357.9,183.7 1358.1,182.0 1358.4,180.2 1358.6,178.5 1358.9,176.8 1359.2,174.9 1359.4,173.0 1359.7,171.1 1360.2,169.1 1360.7,167.0 1361.3,165.1 1361.8,163.1 1362.3,161.2 1362.8,159.3 1363.4,157.3 1363.9,155.3 1364.4,153.2 1365.9,154.5 1367.5,157.5 1369.0,159.6 1369.6,160.9 1370.2,162.3 1370.8,163.9 1371.3,165.8 1371.9,167.7 1372.5,169.9 1373.4,172.0 1374.3,174.1 1375.3,175.7 1376.2,177.4 1377.1,179.4 1379.0,178.4 1381.0,176.9 1382.9,175.6 1385.2,176.1 1387.6,175.7 1388.0,177.6 1388.4,179.6 1388.8,181.5 1389.1,183.3 1389.5,184.8 1389.9,186.3 1390.2,187.9 1390.6,189.6 1391.0,191.2 1391.3,193.2 1391.7,195.3 1392.0,197.4 1392.4,199.3 1392.7,201.3 1393.1,203.3 1393.4,205.0 1393.7,206.7 1393.9,208.3 1394.2,210.0 1394.4,211.8 1394.7,213.5 1395.0,215.2 1395.2,217.0 1395.5,218.8 1395.8,220.6 1396.0,222.4 1396.3,224.2 1396.5,226.0 1396.8,227.7 1397.1,229.7 1397.4,231.8 1397.8,233.9 1398.1,236.1 1398.4,238.2 1398.7,240.3 1399.0,242.4 1399.3,244.2 1399.7,246.0 1400.0,247.8 1400.3,249.5 1400.7,251.1 1401.2,252.8 1401.6,254.5 1402.0,256.2 1402.4,258.0 1402.9,259.9 1403.3,261.7 1403.7,263.5 1404.1,265.3 1404.6,267.1 1405.0,268.8 1405.8,270.7 1406.5,272.7 1407.3,275.0 1408.1,277.3 1408.8,279.0 1409.6,280.2 1410.4,281.5 1411.1,283.3 1411.9,285.5 1413.3,287.4 1414.7,289.0 1416.1,290.6 1417.5,292.5 1418.9,294.6 1420.8,295.6 1422.6,295.9 1424.5,296.1 1426.3,297.2 1428.2,298.2 1430.0,297.4 1431.8,297.8 1433.6,298.0 1435.4,298.6 1437.2,299.5 1439.0,299.6 1440.9,299.5 1442.7,301.4 1444.6,300.4 1446.5,300.8 1448.4,301.3 1450.2,301.8 1452.1,301.4 1454.0,301.2 1455.8,302.3 1457.7,303.0 1459.6,302.9 1461.5,303.4 1463.3,304.2 1465.2,304.1 1467.1,303.8 1469.0,304.3 1470.9,305.0 1472.8,304.8 1474.7,305.5 1476.6,305.1 1478.6,304.5 1480.5,306.0 1482.4,306.1 1484.3,305.8 1486.2,306.1 1488.1,305.6 1490.0,306.1 1492.0,305.9 1494.0,305.8 1496.0,304.9 1498.0,305.4 1500.0,306.8 1501.9,306.5 1503.7,305.7 1505.6,305.2 1507.5,305.7 1509.3,305.1 1511.2,304.8 1513.0,305.4 1514.9,305.3 1516.8,304.6 1518.6,303.6 1520.5,304.1 1522.4,304.1 1524.2,304.4 1526.1,304.3 1528.0,304.5 1529.8,303.6 1531.7,302.9 1533.6,302.6 1535.4,302.1 1537.3,302.2 1539.2,301.3 1541.0,301.5 1542.9,302.0 1544.7,301.4 1546.6,302.4 1548.5,300.9 1550.3,300.0 1552.2,299.8 1554.1,299.7 1556.0,299.1 1557.9,299.0 1559.8,299.7 1561.7,298.8 1563.6,299.3 1565.5,297.8 1567.4,298.2 1569.3,297.4 1571.2,297.8 1573.1,297.9 1574.5,296.0 1576.0,294.6 1577.4,293.5 1578.8,291.9 1580.2,291.0 1581.7,290.8 1583.1,289.7 1584.5,288.1 1585.9,286.7 1587.4,286.1 1588.8,285.1 1590.7,284.5 1592.5,283.5 1594.4,282.9 1596.3,282.6 1598.1,282.1 1600.0,281.7 1601.0,279.8 1602.1,277.5 1603.1,276.1 1604.1,275.3 1605.2,274.3 1606.2,272.7 1607.2,270.9 1608.3,269.1 1609.3,267.0 1609.7,264.9 1610.0,262.9 1610.4,261.2 1610.8,259.4 1611.1,257.7 1611.5,256.0 1611.8,254.3 1612.2,252.6 1612.6,250.9 1612.9,249.2 1613.3,247.4 1613.7,245.7 1614.0,244.0 1614.4,242.2 1614.7,240.4 1615.1,238.5 1615.5,236.7 1615.8,234.8 1616.2,232.9 1616.5,231.0 1616.7,229.1 1617.0,227.2 1617.3,225.4 1617.5,223.5 1617.8,221.6 1618.1,219.8 1618.4,218.2 1618.6,216.6 1618.9,214.9 1619.2,213.2 1619.4,211.5 1619.7,209.8 1620.0,208.0 1620.2,206.1 1620.5,204.1 1620.8,202.2 1621.0,200.3 1621.3,198.5 1621.6,196.8 1621.9,195.0 1622.1,193.3 1622.4,191.6 1622.7,189.9 1622.9,188.3 1623.2,186.5 1623.5,184.6 1623.8,182.7 1624.1,180.8 1624.3,178.9 1624.6,177.0 1624.9,175.2 1625.2,173.2 1625.5,171.3 1625.8,169.4 1626.1,167.4 1626.4,165.4 1626.7,163.4 1626.9,161.4 1627.2,159.6 1627.5,157.7 1627.8,155.9 1628.6,154.3 1629.4,152.7 1630.2,150.8 1631.0,152.3 1631.9,154.4 1632.8,157.1 1633.6,159.3 1634.0,161.1 1634.4,162.7 1634.8,164.3 1635.2,166.0 1635.5,167.8 1635.9,169.6 1636.3,171.4 1636.7,173.2 1637.1,175.0 1638.1,176.7 1639.0,178.2 1640.0,179.8 1641.0,181.7 1641.9,183.9 1642.9,185.9 1644.8,184.7 1646.8,185.8 1648.7,186.2 1651.1,186.1 1653.4,185.2 1653.8,186.9 1654.2,188.5 1654.6,190.0 1654.9,191.6 1655.3,193.3 1655.7,195.0 1655.9,196.8 1656.2,198.7 1656.4,200.5 1656.6,202.4 1656.8,204.3 1657.1,206.2 1657.3,208.2 1657.5,210.1 1657.8,212.1 1658.0,214.1 1658.3,216.0 1658.5,217.9 1658.8,219.8 1659.1,221.6 1659.3,223.4 1659.6,225.2 1659.9,227.0 1660.2,228.8 1660.4,230.6 1660.7,232.5 1661.0,234.3 1661.2,236.2 1661.5,238.2 1661.8,240.2 1662.1,242.2 1662.5,243.9 1662.8,245.7 1663.1,247.4 1663.4,249.0 1663.7,250.6 1664.0,252.3 1664.4,254.1 1664.7,255.9 1665.0,257.7 1665.5,259.6 1665.9,261.6 1666.4,263.6 1666.8,265.6 1667.3,267.5 1667.8,269.3 1668.2,271.2 1668.7,272.9 1669.1,274.7 1669.6,276.6 1670.5,278.1 1671.3,279.5 1672.2,281.1 1673.1,283.5 1674.0,285.9 1674.8,287.6 1675.7,289.3 1676.6,290.8 1678.1,290.9 1679.7,292.5 1681.2,293.3 1682.7,294.7 1684.3,295.9 1685.8,296.1 1688.2,298.0 1690.6,298.8 1692.4,298.7 1694.3,298.7 1696.1,298.8 1697.9,297.9 1699.8,299.3 1701.6,299.6 1703.4,299.8 1705.2,299.4 1707.1,299.8 1708.9,300.7 1710.8,300.4 1712.6,300.5 1714.5,301.8 1716.4,301.9 1718.2,300.9 1720.1,301.1 1722.0,301.6 1723.8,301.1 1725.7,302.5 1727.5,303.4 1729.4,303.2 1731.3,303.2 1733.1,303.1 1735.0,304.0 1736.8,303.6 1738.6,303.4 1740.5,303.7 1742.3,304.3 1744.1,305.0 1745.9,305.4 1747.8,305.6 1749.6,305.0 1751.4,306.1 1753.2,305.6 1755.1,306.0 1756.9,306.1 1758.7,305.6 1760.5,305.1 1762.4,305.1 1764.2,305.1 1766.0,306.2"/>
<polyline stroke="#0068ba" stroke-dasharray="11.5 3.2 5.8 3.2" points="974.0,306.6 975.9,305.9 977.8,306.6 979.6,306.9 981.5,306.4 983.4,305.8 985.3,304.8 987.2,306.2 989.1,307.2 990.9,304.7 992.8,305.1 994.7,305.2 996.6,305.8 998.5,305.5 1000.4,304.8 1002.3,304.6 1004.2,304.0 1006.1,304.7 1007.9,303.8 1009.8,304.3 1011.7,304.4 1013.6,304.0 1015.5,303.3 1017.4,301.9 1019.3,302.4 1021.1,303.0 1022.9,303.0 1024.7,301.8 1026.5,301.6 1028.3,301.8 1030.1,302.4 1031.9,301.8 1033.7,301.3 1035.5,301.1 1037.3,300.9 1039.1,301.2 1040.8,301.2 1042.6,299.7 1044.3,299.3 1046.0,297.9 1047.8,297.8 1049.5,297.5 1051.3,297.3 1053.0,296.6 1054.7,295.8 1056.3,295.5 1058.0,295.0 1059.7,293.9 1061.3,292.0 1063.0,290.8 1064.7,290.5 1066.3,290.3 1068.0,289.6 1068.7,288.1 1069.4,286.2 1070.1,284.3 1070.9,282.4 1071.6,280.5 1072.3,278.7 1073.0,277.3 1073.7,276.1 1074.4,274.9 1075.1,273.6 1075.9,272.1 1076.6,270.3 1077.3,268.4 1078.0,266.6 1078.8,264.7 1079.6,262.6 1080.4,260.7 1081.2,259.0 1082.0,257.2 1082.8,255.0 1083.6,253.2 1084.4,251.6 1085.2,250.0 1086.0,247.9 1086.3,246.2 1086.7,244.5 1087.0,242.7 1087.3,241.1 1087.7,239.4 1088.0,237.8 1088.3,236.0 1088.7,234.1 1089.0,232.3 1089.3,230.5 1089.7,228.7 1090.0,226.9 1090.3,224.9 1090.7,223.0 1091.0,221.1 1091.3,219.2 1091.7,217.2 1092.0,215.3 1092.3,213.5 1092.7,211.7 1093.0,209.9 1093.3,208.0 1093.6,206.2 1093.8,204.4 1094.1,202.6 1094.4,200.7 1094.7,198.8 1095.0,197.0 1095.2,195.1 1095.5,193.2 1095.8,191.2 1096.1,189.4 1096.4,187.6 1096.6,185.9 1096.9,184.2 1097.2,182.5 1097.5,180.7 1097.8,179.0 1098.0,177.3 1098.3,175.3 1098.6,173.4 1099.2,175.3 1099.8,177.4 1100.3,179.4 1100.9,181.4 1101.5,183.0 1102.1,184.5 1102.6,186.1 1103.2,187.8 1103.8,189.6 1104.4,191.7 1104.9,193.9 1105.5,195.9 1106.9,196.8 1108.3,198.2 1109.7,199.6 1111.1,200.4 1112.5,202.0 1113.7,200.4 1114.8,198.3 1116.0,196.4 1117.2,194.8 1118.3,193.0 1119.4,191.6 1120.6,189.7 1121.8,190.5 1122.9,191.8 1124.1,193.5 1125.2,195.2 1126.4,196.7 1126.7,198.5 1127.0,200.3 1127.4,202.0 1127.7,203.8 1128.0,205.5 1128.3,207.3 1128.6,209.1 1128.9,210.9 1129.3,212.8 1129.6,214.7 1129.9,216.6 1130.2,218.5 1130.6,220.4 1130.9,222.4 1131.2,224.3 1131.5,226.2 1131.9,228.1 1132.2,230.0 1132.5,231.9 1132.9,233.9 1133.2,235.8 1133.5,237.6 1133.8,239.5 1134.2,241.3 1134.5,243.0 1134.9,244.6 1135.4,246.2 1135.8,247.9 1136.3,249.5 1136.7,251.2 1137.2,252.9 1137.6,254.6 1138.1,256.4 1138.5,258.5 1139.0,260.6 1139.4,262.6 1139.9,264.7 1140.3,266.6 1141.1,268.5 1141.9,270.0 1142.6,271.3 1143.4,272.9 1144.2,274.9 1145.0,277.1 1145.7,278.9 1146.5,280.6 1147.3,282.2 1148.5,283.3 1149.6,284.6 1150.8,286.5 1151.9,288.6 1153.1,290.9 1154.3,292.8 1155.4,293.9 1156.6,294.5 1158.3,295.9 1160.0,296.1 1161.8,297.0 1163.5,298.7 1165.3,299.0 1167.1,297.5 1168.9,298.9 1170.7,299.2 1172.5,299.2 1174.3,300.4 1176.1,300.5 1177.9,300.4 1179.7,301.1 1181.8,301.2 1183.8,301.4 1185.8,301.7 1187.9,301.9 1190.0,303.2 1192.0,303.6 1193.9,303.3 1195.8,303.5 1197.7,304.2 1199.6,304.3 1201.5,304.4 1203.4,303.6 1205.3,304.1 1207.2,305.3 1209.1,305.3 1211.0,305.5 1212.9,305.3 1214.8,304.9 1216.7,304.9 1218.6,305.8 1220.5,306.1 1222.4,305.4 1224.3,306.3 1226.2,306.4 1228.1,306.1 1230.0,306.8 1231.9,306.4 1233.7,305.0 1235.6,305.9 1237.5,306.3 1239.3,306.2 1241.2,306.5 1243.0,306.6 1244.9,305.4 1246.8,305.7 1248.6,305.1 1250.5,304.7 1252.4,304.8 1254.2,305.0 1256.1,304.5 1258.0,304.6 1259.8,304.0 1261.7,304.0 1263.6,303.9 1265.5,303.3 1267.3,304.0 1269.2,304.0 1271.1,303.0 1272.9,302.8 1274.8,303.1 1276.7,302.2 1278.6,302.7 1280.4,302.7 1282.3,302.3 1284.2,301.7 1286.1,301.9 1288.0,300.4 1289.9,301.5 1291.8,301.2 1293.7,300.4 1295.6,299.4 1297.5,299.5 1299.4,299.0 1301.3,299.1 1303.2,299.7 1304.9,298.6 1306.7,297.1 1308.4,296.7 1310.1,297.2 1311.9,296.2 1313.6,296.1 1315.3,295.4 1317.1,295.2 1318.8,295.0 1320.3,292.6 1321.9,291.9 1323.4,291.2 1324.9,289.9 1326.5,288.2 1328.0,287.3 1329.8,286.5 1331.6,285.0 1333.5,285.2 1335.3,285.4 1337.1,284.0 1338.0,282.4 1339.0,280.9 1339.9,278.6 1340.8,276.7 1341.8,275.7 1342.7,274.3 1343.7,272.0 1344.6,269.6 1344.9,267.6 1345.3,265.9 1345.6,264.2 1345.9,262.5 1346.3,260.7 1346.6,259.0 1346.9,257.2 1347.3,255.5 1347.6,253.8 1347.9,252.1 1348.3,250.5 1348.6,248.9 1348.9,247.3 1349.3,245.5 1349.6,243.7 1349.9,242.0 1350.3,240.1 1350.6,238.2 1350.9,236.3 1351.3,234.4 1351.6,232.6 1351.9,230.7 1352.1,229.0 1352.4,227.4 1352.7,225.8 1352.9,224.1 1353.2,222.5 1353.5,220.8 1353.8,219.1 1354.0,217.4 1354.3,215.7 1354.6,213.9 1354.8,212.2 1355.1,210.5 1355.4,208.7 1355.6,207.0 1355.9,205.3 1356.2,203.5 1356.4,201.7 1356.7,199.9 1357.0,198.0 1357.3,196.3 1357.5,194.5 1357.8,192.7 1358.1,191.0 1358.3,189.3 1358.6,187.5 1359.0,185.7 1359.4,183.6 1359.9,181.6 1360.3,179.5 1360.7,177.5 1361.1,175.4 1361.5,173.5 1361.9,171.5 1362.4,169.6 1362.8,167.6 1363.2,165.6 1364.4,163.6 1365.5,161.5 1366.7,160.3 1367.2,162.6 1367.7,165.1 1368.2,167.3 1368.7,169.0 1369.3,170.4 1369.8,171.7 1370.3,173.2 1370.8,174.8 1371.3,176.5 1371.9,178.4 1372.6,180.4 1373.2,182.6 1373.9,184.9 1374.5,186.8 1375.2,188.6 1375.8,190.4 1376.5,192.5 1377.1,194.5 1378.3,192.5 1379.4,190.7 1380.6,188.5 1381.8,186.2 1383.3,185.1 1384.9,184.7 1386.4,183.8 1386.9,185.6 1387.3,187.6 1387.8,189.7 1388.2,191.8 1388.7,194.0 1388.9,196.0 1389.1,197.9 1389.3,199.6 1389.5,201.4 1389.7,203.1 1389.8,204.9 1390.0,206.7 1390.2,208.5 1390.4,210.3 1390.6,212.2 1390.8,214.0 1391.0,215.8 1391.3,217.8 1391.5,219.7 1391.8,221.6 1392.1,223.6 1392.3,225.4 1392.6,227.3 1392.9,229.2 1393.2,231.0 1393.4,232.6 1393.7,234.3 1394.0,236.0 1394.2,237.7 1394.5,239.4 1394.9,241.2 1395.4,243.1 1395.8,245.1 1396.2,246.9 1396.6,248.8 1397.1,250.7 1397.5,252.9 1397.9,255.1 1398.3,257.3 1398.8,259.5 1399.2,261.5 1399.8,263.2 1400.5,264.6 1401.1,266.0 1401.8,267.5 1402.4,269.1 1403.1,270.8 1403.7,272.5 1404.4,274.1 1405.0,275.7 1406.0,277.4 1407.0,279.4 1408.1,281.6 1409.1,283.0 1410.1,283.6 1411.1,285.0 1412.2,287.1 1413.2,288.8 1414.2,290.4 1415.8,291.7 1417.4,293.4 1419.0,295.4 1420.7,296.0 1422.5,296.2 1424.2,296.2 1426.0,296.7 1427.7,298.0 1429.5,297.3 1431.2,297.6 1433.2,298.2 1435.1,298.4 1437.0,299.6 1439.0,299.8 1440.9,299.7 1442.7,301.6 1444.6,300.6 1446.5,301.0 1448.4,301.5 1450.2,302.0 1452.1,301.6 1454.0,301.4 1455.8,302.5 1457.7,303.2 1459.6,303.1 1461.5,303.6 1463.3,304.4 1465.2,304.3 1467.1,304.0 1469.0,304.5 1470.9,305.2 1472.8,305.0 1474.7,305.7 1476.6,305.3 1478.6,304.7 1480.5,306.2 1482.4,306.3 1484.3,306.0 1486.2,306.3 1488.1,305.8 1490.0,306.3 1492.0,306.1 1494.0,306.0 1496.0,305.1 1498.0,305.6 1500.0,307.0 1501.9,306.7 1503.7,305.9 1505.6,305.4 1507.5,305.9 1509.3,305.3 1511.2,305.0 1513.0,305.6 1514.9,305.5 1516.8,304.8 1518.6,303.8 1520.5,304.3 1522.4,304.3 1524.2,304.6 1526.1,304.5 1528.0,304.7 1529.8,303.8 1531.7,303.1 1533.6,302.8 1535.4,302.4 1537.3,302.4 1539.2,301.5 1541.0,301.8 1542.9,302.3 1544.7,301.7 1546.6,302.7 1548.5,301.2 1550.3,300.3 1552.2,300.1 1554.1,300.0 1556.0,299.4 1557.9,299.3 1559.8,300.0 1561.7,299.1 1563.6,299.6 1565.5,298.1 1567.4,298.5 1569.3,297.7 1571.2,298.1 1573.1,298.2 1574.7,296.2 1576.2,295.0 1577.8,293.8 1579.4,292.4 1580.9,292.1 1582.5,291.5 1584.1,290.0 1585.7,288.6 1587.2,287.9 1588.8,287.0 1590.7,286.7 1592.5,285.9 1594.4,285.6 1596.3,285.5 1598.1,285.4 1600.0,285.2 1600.8,283.3 1601.5,281.2 1602.3,279.2 1603.1,277.7 1603.9,276.6 1604.6,275.5 1605.4,274.1 1606.2,272.4 1607.0,270.7 1607.7,268.9 1608.5,266.9 1609.3,264.8 1610.1,262.9 1610.8,261.4 1611.6,260.1 1611.9,258.3 1612.2,256.6 1612.5,254.8 1612.8,253.1 1613.1,251.3 1613.3,249.6 1613.6,247.9 1613.9,246.1 1614.2,244.3 1614.5,242.5 1614.8,240.7 1615.1,238.8 1615.4,237.0 1615.7,235.1 1616.0,233.3 1616.3,231.4 1616.6,229.4 1616.8,227.5 1617.1,225.5 1617.4,223.6 1617.7,221.7 1618.0,219.7 1618.3,218.1 1618.6,216.4 1618.9,214.7 1619.1,213.0 1619.4,211.3 1619.6,209.5 1619.9,207.7 1620.1,205.9 1620.4,203.9 1620.6,202.0 1620.9,200.0 1621.2,198.1 1621.4,196.3 1621.7,194.6 1621.9,192.8 1622.2,191.0 1622.4,189.4 1622.7,187.7 1622.9,186.0 1623.2,184.2 1623.5,182.3 1623.7,180.5 1624.0,178.7 1624.2,176.9 1624.5,175.1 1624.7,173.3 1625.0,171.5 1625.2,169.7 1625.5,167.8 1625.9,165.9 1626.4,164.0 1626.8,162.1 1627.2,160.3 1627.7,158.5 1628.1,156.8 1628.6,155.2 1629.0,153.5 1630.2,155.1 1631.3,156.7 1632.4,159.2 1633.6,161.6 1633.9,163.5 1634.3,165.2 1634.6,166.8 1635.0,168.5 1635.3,170.4 1635.7,172.2 1636.0,174.1 1636.4,175.9 1636.8,177.8 1637.1,179.6 1637.4,181.5 1637.7,183.3 1638.0,185.1 1638.4,186.9 1638.7,188.7 1639.0,190.5 1639.3,192.3 1639.6,194.1 1639.9,195.9 1640.2,197.8 1640.5,199.7 1640.9,201.7 1641.2,203.6 1641.5,205.7 1641.8,207.7 1642.6,206.0 1643.3,203.8 1644.1,201.2 1644.9,199.1 1645.6,197.6 1646.4,196.2 1648.2,197.0 1649.9,198.2 1651.1,199.8 1652.2,201.2 1652.5,203.0 1652.7,204.8 1653.0,206.6 1653.2,208.3 1653.5,210.0 1653.7,211.7 1654.0,213.4 1654.2,215.0 1654.5,216.6 1654.8,218.1 1655.0,219.7 1655.3,221.4 1655.6,223.1 1655.8,224.8 1656.1,226.6 1656.4,228.4 1656.7,230.2 1656.9,232.0 1657.2,233.9 1657.5,235.8 1657.7,237.7 1658.0,239.7 1658.3,241.6 1658.7,243.6 1659.0,245.6 1659.3,247.4 1659.6,249.2 1660.0,251.0 1660.3,252.9 1660.6,254.8 1661.0,256.7 1661.3,258.7 1661.6,260.7 1661.9,262.6 1662.3,264.4 1662.6,266.1 1663.3,267.5 1664.0,268.7 1664.7,270.3 1665.4,272.2 1666.1,274.2 1666.8,276.3 1667.5,278.1 1668.2,279.9 1668.9,281.7 1669.6,283.5 1670.9,284.6 1672.3,285.8 1673.6,288.3 1674.9,290.0 1676.2,291.4 1677.6,292.3 1678.9,293.6 1680.9,294.6 1682.8,295.7 1684.8,296.4 1686.7,296.4 1688.6,298.4 1690.6,299.0 1692.4,298.9 1694.3,298.9 1696.1,299.0 1697.9,298.1 1699.8,299.5 1701.6,299.8 1703.4,300.0 1705.2,299.6 1707.1,300.0 1708.9,300.9 1710.8,300.6 1712.6,300.7 1714.5,302.0 1716.4,302.1 1718.2,301.0 1720.1,301.2 1722.0,301.8 1723.8,301.3 1725.7,302.7 1727.5,303.5 1729.4,303.3 1731.3,303.4 1733.1,303.2 1735.0,304.1 1736.8,303.7 1738.6,303.5 1740.5,303.8 1742.3,304.4 1744.1,305.1 1745.9,305.5 1747.8,305.7 1749.6,305.1 1751.4,306.2 1753.2,305.7 1755.1,306.1 1756.9,306.2 1758.7,305.7 1760.5,305.2 1762.4,305.2 1764.2,305.2 1766.0,306.3"/>
<polyline stroke="#d53f07" points="974.0,306.6 975.9,305.9 977.8,306.6 979.6,306.9 981.5,306.5 983.4,305.9 985.3,304.9 987.2,306.3 989.1,307.3 990.9,304.8 992.8,305.2 994.7,305.3 996.6,305.9 998.5,305.7 1000.4,304.9 1002.3,304.7 1004.2,304.1 1006.1,304.9 1007.9,304.0 1009.8,304.5 1011.7,304.6 1013.6,304.2 1015.5,303.5 1017.4,302.1 1019.3,302.6 1021.1,303.2 1022.9,303.3 1024.7,302.1 1026.5,301.9 1028.3,302.1 1030.1,302.8 1031.9,302.1 1033.7,301.7 1035.5,301.6 1037.3,301.4 1039.1,301.7 1040.9,301.6 1042.8,300.1 1044.7,299.5 1046.5,298.3 1048.3,298.1 1050.2,297.9 1052.1,297.3 1053.9,296.8 1055.9,296.0 1057.8,295.8 1059.8,294.7 1061.7,292.7 1063.7,291.6 1065.3,291.7 1067.0,290.9 1068.7,290.5 1070.3,289.3 1071.9,288.1 1073.6,288.1 1074.4,287.0 1075.2,285.7 1076.1,284.2 1076.9,282.3 1077.7,280.5 1078.5,278.7 1079.4,276.9 1080.2,275.0 1081.0,273.5 1081.8,271.9 1082.7,269.9 1083.5,268.1 1084.2,266.5 1084.8,265.0 1085.5,263.1 1086.2,261.2 1086.9,259.6 1087.5,258.1 1088.2,256.5 1088.9,254.7 1089.6,252.9 1090.2,251.0 1090.9,249.0 1091.2,247.0 1091.5,245.0 1091.8,243.1 1092.1,241.2 1092.4,239.3 1092.7,237.4 1093.0,235.6 1093.3,233.7 1093.7,231.9 1094.0,230.1 1094.3,228.2 1094.6,226.3 1094.9,224.4 1095.2,222.5 1095.5,220.6 1095.8,218.6 1096.2,216.9 1096.7,215.3 1097.1,213.7 1097.5,212.1 1097.9,210.4 1098.3,208.6 1098.8,206.7 1099.2,204.9 1099.6,203.2 1100.1,201.5 1100.5,199.7 1100.9,198.0 1102.1,198.7 1103.2,199.5 1104.3,201.1 1105.5,202.9 1106.1,204.7 1106.7,206.2 1107.3,207.8 1107.9,209.6 1108.5,211.6 1109.4,213.6 1110.4,215.1 1111.3,216.7 1113.2,217.3 1115.2,216.8 1117.1,217.0 1118.1,215.5 1119.0,214.3 1120.0,213.2 1121.0,211.3 1121.9,209.2 1122.9,207.6 1123.9,206.3 1124.9,204.9 1126.0,203.6 1127.0,201.7 1128.0,199.6 1129.4,198.1 1130.8,197.2 1132.2,196.3 1133.1,198.5 1134.0,200.4 1135.0,202.0 1135.9,203.5 1136.8,205.1 1137.1,207.0 1137.4,208.9 1137.8,210.7 1138.1,212.7 1138.4,214.8 1138.7,216.9 1139.0,219.0 1139.3,221.1 1139.7,223.2 1140.0,225.3 1140.3,227.2 1140.6,229.2 1140.9,231.1 1141.3,232.9 1141.6,234.6 1141.9,236.4 1142.2,238.1 1142.5,239.8 1142.8,241.5 1143.2,243.3 1143.5,245.3 1143.8,247.2 1144.2,249.2 1144.6,251.3 1145.1,253.4 1145.5,255.3 1145.9,257.2 1146.3,259.0 1146.7,260.8 1147.1,262.6 1147.6,264.4 1148.0,266.1 1148.4,267.8 1149.1,269.3 1149.8,271.0 1150.5,272.9 1151.1,274.9 1151.8,276.9 1152.5,279.1 1153.2,281.2 1153.9,283.2 1154.5,285.0 1155.2,286.4 1155.9,287.5 1156.6,288.7 1158.0,290.7 1159.4,292.2 1160.7,293.1 1162.1,294.8 1163.5,297.1 1165.8,297.5 1168.0,298.1 1170.0,299.4 1171.9,298.7 1173.8,300.2 1175.8,300.4 1177.8,300.2 1179.7,301.0 1181.8,301.1 1183.8,301.4 1185.8,301.7 1187.9,301.9 1190.0,303.2 1192.0,303.6 1193.9,303.3 1195.8,303.6 1197.7,304.2 1199.6,304.3 1201.5,304.4 1203.4,303.7 1205.3,304.2 1207.2,305.4 1209.1,305.3 1211.0,305.6 1212.9,305.4 1214.8,304.9 1216.7,305.0 1218.6,305.9 1220.5,306.2 1222.4,305.5 1224.3,306.4 1226.2,306.5 1228.1,306.2 1230.0,306.9 1231.9,306.5 1233.7,305.1 1235.6,306.0 1237.5,306.4 1239.3,306.3 1241.2,306.6 1243.0,306.7 1244.9,305.5 1246.8,305.8 1248.6,305.2 1250.5,304.8 1252.4,304.9 1254.2,305.1 1256.1,304.6 1258.0,304.7 1259.8,304.1 1261.7,304.1 1263.6,304.1 1265.5,303.5 1267.3,304.1 1269.2,304.2 1271.1,303.2 1272.9,303.0 1274.8,303.2 1276.7,302.4 1278.6,302.9 1280.4,302.9 1282.3,302.5 1284.2,302.0 1286.1,302.1 1288.0,300.6 1289.9,301.8 1291.8,301.5 1293.7,300.7 1295.6,299.8 1297.5,299.9 1299.4,299.4 1301.3,299.6 1303.2,300.2 1304.9,299.1 1306.7,297.6 1308.4,297.2 1310.1,297.7 1311.9,296.7 1313.6,296.6 1315.3,295.9 1317.1,295.7 1318.8,295.5 1320.6,293.8 1322.5,294.0 1324.3,294.0 1326.1,292.9 1327.9,292.6 1329.8,292.1 1331.6,290.7 1333.4,291.1 1335.3,291.5 1337.1,290.2 1338.5,288.5 1340.0,286.0 1340.8,284.2 1341.7,283.1 1342.5,281.8 1343.4,279.9 1344.2,277.6 1345.1,275.4 1345.9,273.9 1346.8,272.3 1347.6,270.7 1348.5,269.3 1349.3,267.9 1349.7,266.1 1350.0,264.2 1350.4,262.3 1350.8,260.3 1351.1,258.3 1351.5,256.4 1351.8,254.5 1352.2,252.7 1352.6,251.1 1352.9,249.5 1353.3,247.9 1353.7,246.2 1354.0,244.5 1354.4,242.7 1354.7,240.9 1355.1,239.2 1355.5,237.4 1355.8,235.7 1356.2,233.9 1356.5,232.0 1356.7,230.2 1357.0,228.3 1357.3,226.6 1357.5,224.8 1357.8,223.0 1358.0,221.3 1358.3,219.5 1358.6,217.8 1358.8,216.1 1359.1,214.3 1359.4,212.4 1359.6,210.5 1359.9,208.6 1360.2,206.7 1360.4,204.8 1360.7,202.9 1360.9,201.0 1361.2,199.2 1361.5,197.4 1361.7,195.5 1362.0,193.7 1363.2,191.7 1364.3,189.5 1365.5,187.2 1366.7,185.8 1367.8,188.9 1369.0,190.7 1370.2,191.3 1371.3,192.8 1371.8,194.6 1372.3,196.6 1372.9,198.6 1373.4,200.8 1373.9,203.0 1374.4,204.8 1375.0,206.6 1375.5,208.4 1376.0,210.3 1377.5,209.1 1379.1,207.4 1380.6,205.3 1381.8,203.4 1382.9,201.8 1384.1,200.8 1385.2,199.7 1386.4,198.3 1388.4,198.1 1390.5,196.8 1392.5,196.8 1394.5,196.1 1395.2,197.7 1395.9,199.5 1396.6,201.1 1397.3,203.0 1398.0,205.2 1398.3,207.2 1398.5,209.2 1398.8,211.2 1399.1,213.1 1399.3,214.8 1399.6,216.5 1399.9,218.2 1400.2,219.9 1400.4,221.5 1400.7,223.1 1401.0,224.7 1401.2,226.4 1401.5,228.0 1401.8,229.6 1402.0,231.3 1402.3,233.1 1402.6,234.8 1402.8,236.5 1403.1,238.3 1403.4,240.0 1403.7,241.7 1403.9,243.4 1404.2,245.1 1404.5,246.8 1404.7,248.5 1405.0,250.2 1405.5,252.1 1405.9,254.0 1406.4,256.1 1406.8,258.1 1407.3,260.3 1407.8,262.5 1408.2,264.5 1408.7,266.3 1409.1,268.0 1409.6,269.4 1410.5,270.6 1411.3,272.5 1412.2,274.6 1413.1,276.5 1414.0,278.2 1414.8,279.9 1415.7,281.6 1416.6,283.4 1417.8,285.2 1418.9,287.1 1420.0,288.9 1421.2,290.1 1422.3,291.3 1423.5,292.6 1424.6,293.7 1425.8,295.3 1427.6,297.0 1429.4,296.7 1431.2,297.4 1433.2,298.1 1435.1,298.4 1437.0,299.8 1439.0,300.1 1440.9,300.0 1442.7,301.9 1444.6,300.9 1446.5,301.3 1448.4,301.8 1450.2,302.3 1452.1,301.9 1454.0,301.7 1455.8,302.8 1457.7,303.5 1459.6,303.4 1461.5,303.9 1463.3,304.7 1465.2,304.6 1467.1,304.3 1469.0,304.8 1470.9,305.5 1472.8,305.2 1474.7,306.0 1476.6,305.5 1478.6,305.0 1480.5,306.5 1482.4,306.5 1484.3,306.2 1486.2,306.5 1488.1,306.0 1490.0,306.5 1492.0,306.3 1494.0,306.2 1496.0,305.3 1498.0,305.8 1500.0,307.2 1501.9,306.9 1503.7,306.1 1505.6,305.6 1507.5,306.1 1509.3,305.5 1511.2,305.2 1513.0,305.9 1514.9,305.8 1516.8,305.0 1518.6,304.0 1520.5,304.5 1522.4,304.6 1524.2,304.9 1526.1,304.8 1528.0,305.0 1529.8,304.1 1531.7,303.4 1533.6,303.1 1535.4,302.6 1537.3,302.7 1539.2,301.8 1541.0,302.0 1542.9,302.5 1544.7,301.9 1546.6,302.9 1548.5,301.4 1550.3,300.5 1552.2,300.3 1554.1,300.2 1556.0,299.6 1557.9,299.5 1559.8,300.2 1561.7,299.3 1563.6,299.8 1565.5,298.3 1567.4,298.7 1569.3,297.9 1571.2,298.3 1573.1,298.4 1574.8,296.8 1576.6,296.2 1578.3,295.3 1580.1,294.6 1581.8,295.1 1583.6,294.3 1585.3,293.2 1587.1,292.9 1588.8,292.5 1590.7,291.9 1592.5,290.8 1594.4,290.1 1596.3,289.7 1598.1,289.2 1600.0,288.7 1601.0,286.9 1601.9,284.6 1602.9,283.0 1603.9,282.1 1604.8,281.2 1605.8,279.7 1606.8,278.0 1607.7,276.3 1608.7,274.3 1609.7,272.3 1610.6,270.7 1611.6,269.5 1612.1,267.8 1612.6,266.1 1613.1,264.4 1613.6,262.8 1614.1,261.1 1614.6,259.3 1615.1,257.4 1615.6,255.6 1616.1,253.7 1616.6,251.7 1617.1,249.6 1617.6,247.7 1618.1,245.8 1618.6,244.2 1618.9,242.6 1619.2,240.8 1619.5,239.0 1619.8,237.2 1620.1,235.4 1620.4,233.4 1620.7,231.3 1621.0,229.3 1621.3,227.5 1621.7,225.7 1622.0,223.9 1622.3,222.2 1622.6,220.5 1622.9,218.8 1623.2,217.0 1623.5,215.2 1623.8,213.3 1624.1,211.5 1624.4,209.7 1624.7,207.9 1625.1,206.0 1625.4,204.2 1625.7,202.3 1626.0,200.4 1626.4,198.5 1626.7,196.5 1627.0,194.6 1627.4,192.8 1627.7,191.1 1628.0,189.3 1628.3,187.6 1628.7,185.8 1629.0,184.1 1630.2,182.2 1631.3,180.2 1632.5,179.2 1633.4,181.6 1634.3,183.4 1635.3,185.0 1636.2,187.0 1637.1,188.9 1637.8,190.6 1638.5,192.2 1639.3,193.8 1640.0,195.4 1640.7,197.3 1641.5,199.3 1642.2,201.4 1642.9,203.3 1644.5,200.7 1646.0,199.9 1647.6,198.7 1649.1,198.1 1650.7,197.3 1652.2,195.9 1653.7,197.3 1655.3,198.0 1656.8,199.6 1657.5,201.8 1658.2,204.0 1658.9,206.1 1659.6,208.0 1660.3,209.9 1660.6,211.8 1660.8,213.6 1661.1,215.5 1661.4,217.4 1661.6,219.4 1661.9,221.3 1662.2,223.0 1662.5,224.7 1662.7,226.4 1663.0,228.0 1663.3,229.6 1663.5,231.1 1663.8,232.7 1664.2,234.2 1664.5,235.9 1664.9,237.6 1665.2,239.4 1665.6,241.2 1665.9,243.1 1666.3,245.0 1666.6,246.9 1667.0,248.8 1667.3,250.6 1667.7,252.3 1668.0,254.1 1668.4,255.8 1668.9,257.5 1669.4,259.2 1669.9,260.9 1670.3,262.5 1670.8,264.1 1671.3,265.6 1671.8,267.1 1672.3,269.0 1672.8,271.0 1673.2,273.1 1673.7,275.3 1674.2,277.2 1675.1,278.8 1676.0,280.6 1676.8,282.1 1677.7,283.2 1678.6,284.9 1679.5,287.0 1680.3,288.9 1681.2,290.4 1682.8,292.0 1684.3,293.4 1685.8,293.8 1687.4,295.5 1689.0,297.6 1690.5,298.6 1692.3,298.5 1694.2,298.6 1696.0,298.7 1697.9,297.9 1699.7,299.3 1701.5,299.7 1703.4,300.0 1705.2,299.6 1707.1,300.0 1708.9,301.0 1710.8,300.7 1712.6,300.8 1714.5,302.1 1716.4,302.2 1718.2,301.1 1720.1,301.3 1722.0,301.9 1723.8,301.4 1725.7,302.8 1727.5,303.6 1729.4,303.4 1731.3,303.5 1733.1,303.3 1735.0,304.2 1736.8,303.8 1738.6,303.6 1740.5,303.9 1742.3,304.5 1744.1,305.2 1745.9,305.6 1747.8,305.8 1749.6,305.2 1751.4,306.3 1753.2,305.8 1755.1,306.2 1756.9,306.3 1758.7,305.8 1760.5,305.3 1762.4,305.3 1764.2,305.3 1766.0,306.4"/>
<polyline stroke="#1fa00a" points="974.0,306.6 975.9,305.9 977.8,306.6 979.6,306.9 981.5,306.5 983.4,305.9 985.3,304.9 987.2,306.3 989.1,307.3 990.9,304.8 992.8,305.2 994.7,305.3 996.6,305.9 998.5,305.7 1000.4,304.9 1002.3,304.7 1004.2,304.1 1006.1,304.9 1007.9,304.0 1009.8,304.5 1011.7,304.6 1013.6,304.2 1015.5,303.5 1017.4,302.1 1019.3,302.6 1021.1,303.2 1022.9,303.3 1024.7,302.1 1026.5,302.0 1028.3,302.2 1030.1,302.9 1031.9,302.3 1033.7,301.8 1035.5,301.7 1037.3,301.6 1039.1,301.9 1040.9,301.9 1042.8,300.4 1044.7,299.9 1046.5,298.8 1048.3,298.7 1050.2,298.5 1052.1,298.0 1053.9,297.6 1055.9,297.0 1057.8,297.0 1059.8,296.1 1061.7,294.3 1063.7,293.4 1065.5,294.0 1067.4,293.7 1069.2,293.6 1071.1,292.6 1072.8,290.9 1074.4,290.3 1076.1,289.1 1077.4,286.8 1078.7,284.6 1080.0,282.2 1081.3,281.0 1082.7,279.3 1084.0,277.8 1085.3,276.9 1086.7,275.6 1088.0,274.9 1089.3,273.6 1089.8,271.8 1090.3,269.8 1090.8,267.8 1091.3,265.8 1091.8,263.8 1092.3,261.9 1092.8,260.1 1093.2,258.3 1093.7,256.5 1094.2,254.6 1094.7,252.8 1095.2,250.9 1095.7,248.9 1096.2,247.1 1096.7,245.4 1097.1,243.7 1097.6,242.1 1098.1,240.4 1098.6,238.4 1099.0,236.4 1099.5,234.7 1100.0,232.9 1100.4,231.1 1100.9,229.3 1102.1,226.9 1103.2,224.8 1104.4,223.4 1105.9,225.3 1107.5,226.6 1109.0,228.8 1110.2,230.4 1111.3,232.2 1112.5,234.5 1114.2,235.7 1116.0,236.4 1117.7,237.9 1119.4,239.5 1120.8,238.0 1122.2,235.6 1123.6,234.2 1125.0,233.0 1126.4,231.5 1127.6,229.6 1128.7,227.7 1129.9,226.3 1131.0,225.3 1132.2,224.1 1133.4,223.1 1134.5,221.6 1135.7,219.8 1136.8,218.1 1138.0,216.6 1138.8,219.0 1139.5,221.5 1140.3,223.7 1141.1,225.7 1141.8,227.3 1142.6,228.9 1143.1,230.5 1143.5,232.4 1144.0,234.2 1144.5,236.3 1144.9,238.4 1145.4,240.3 1145.9,242.2 1146.4,243.9 1146.8,245.7 1147.3,247.4 1147.8,249.1 1148.2,250.7 1148.7,252.4 1149.1,254.1 1149.6,255.9 1150.1,257.8 1150.5,259.8 1151.0,261.8 1151.4,263.9 1151.9,265.9 1152.4,268.1 1152.9,270.2 1153.5,272.2 1154.0,274.3 1154.5,276.0 1155.0,277.7 1155.6,279.0 1156.1,280.3 1156.6,281.7 1157.3,283.4 1158.0,285.8 1158.8,287.8 1159.5,289.3 1160.2,290.7 1161.0,292.4 1161.7,294.3 1162.4,296.4 1164.3,298.7 1166.3,298.1 1168.2,299.4 1170.1,300.5 1172.0,299.8 1174.0,301.3 1175.9,301.5 1177.8,301.3 1179.7,302.0 1181.8,302.0 1183.8,302.2 1185.9,302.4 1187.9,302.5 1190.0,303.7 1191.9,303.9 1193.8,303.7 1195.7,303.9 1197.6,304.5 1199.5,304.6 1201.4,304.7 1203.3,304.0 1205.3,304.5 1207.2,305.8 1209.1,305.7 1211.0,306.0 1212.9,305.8 1214.8,305.3 1216.7,305.4 1218.6,306.3 1220.5,306.5 1222.4,305.8 1224.3,306.7 1226.2,306.8 1228.1,306.4 1230.0,307.1 1231.9,306.7 1233.7,305.2 1235.6,306.2 1237.5,306.6 1239.3,306.4 1241.2,306.8 1243.0,306.9 1244.9,305.7 1246.8,305.9 1248.6,305.3 1250.5,304.9 1252.4,305.0 1254.2,305.2 1256.1,304.7 1258.0,304.8 1259.8,304.2 1261.7,304.3 1263.6,304.2 1265.5,303.6 1267.3,304.3 1269.2,304.4 1271.1,303.4 1272.9,303.2 1274.8,303.5 1276.7,302.6 1278.6,303.1 1280.4,303.2 1282.3,302.8 1284.2,302.3 1286.1,302.4 1288.0,301.0 1289.9,302.2 1291.8,301.9 1293.7,301.1 1295.6,300.1 1297.5,300.3 1299.4,299.8 1301.3,300.0 1303.2,300.6 1304.9,299.5 1306.7,298.1 1308.4,297.8 1310.1,298.4 1311.9,297.4 1313.6,297.4 1315.3,296.8 1317.1,296.6 1318.8,296.5 1320.8,294.9 1322.7,295.2 1324.7,294.9 1326.7,293.9 1328.6,293.9 1330.6,292.8 1332.5,292.1 1334.5,293.1 1336.3,291.4 1338.2,290.2 1340.0,288.6 1341.2,287.2 1342.3,286.5 1343.5,284.8 1344.7,282.5 1345.8,281.0 1347.0,279.6 1348.4,278.4 1349.8,277.2 1351.1,275.2 1352.5,273.8 1353.9,272.9 1354.4,271.2 1355.0,269.5 1355.5,267.8 1356.1,266.2 1356.6,264.3 1357.1,262.4 1357.7,260.7 1358.2,259.0 1358.7,257.3 1359.3,255.4 1359.8,253.5 1360.4,251.5 1360.9,249.5 1361.4,247.6 1361.8,245.6 1362.3,243.7 1362.7,241.8 1363.2,239.9 1363.7,237.9 1364.1,235.9 1364.6,233.9 1365.0,231.8 1365.5,229.9 1366.2,228.2 1366.9,227.0 1367.6,226.2 1368.3,224.9 1369.0,223.0 1371.3,222.8 1373.6,225.0 1374.5,227.0 1375.3,228.8 1376.2,230.6 1377.1,232.7 1378.7,233.6 1380.3,234.4 1382.0,234.8 1383.6,236.0 1385.2,237.7 1386.7,236.2 1388.1,234.8 1389.5,233.2 1391.0,230.8 1392.4,229.9 1393.8,228.2 1395.2,226.3 1396.6,224.7 1398.0,223.7 1399.2,223.0 1400.3,221.0 1401.4,218.8 1402.6,216.9 1403.4,218.6 1404.2,220.2 1404.9,221.7 1405.7,223.5 1406.5,225.6 1407.3,227.8 1407.8,229.9 1408.3,231.8 1408.8,233.6 1409.3,235.0 1409.9,236.3 1410.4,237.9 1410.9,239.6 1411.4,241.6 1411.9,243.7 1412.4,245.7 1412.8,247.7 1413.3,249.6 1413.8,251.4 1414.2,253.3 1414.7,255.2 1415.2,257.0 1415.7,258.8 1416.1,260.7 1416.6,262.6 1417.1,264.6 1417.5,266.6 1418.0,268.5 1418.4,270.6 1418.9,272.6 1419.4,274.6 1419.8,276.6 1420.3,278.5 1420.7,280.2 1421.2,282.0 1421.9,283.5 1422.7,285.2 1423.4,286.8 1424.1,288.3 1424.8,289.8 1425.5,291.7 1426.3,293.8 1427.0,296.3 1428.7,295.9 1430.5,296.0 1432.2,296.7 1433.9,297.1 1435.7,298.2 1437.4,299.3 1439.0,300.0 1440.9,300.0 1442.7,301.8 1444.6,300.9 1446.5,301.3 1448.4,301.9 1450.2,302.4 1452.1,302.0 1454.0,301.8 1455.8,303.0 1457.7,303.7 1459.6,303.6 1461.5,304.2 1463.3,305.0 1465.2,304.9 1467.1,304.6 1469.0,305.1 1470.9,305.8 1472.8,305.5 1474.7,306.3 1476.6,305.8 1478.6,305.3 1480.5,306.8 1482.4,306.8 1484.3,306.5 1486.2,306.8 1488.1,306.3 1490.0,306.8 1492.0,306.6 1494.0,306.4 1496.0,305.6 1498.0,306.0 1500.0,307.4 1501.9,307.1 1503.7,306.3 1505.6,305.8 1507.5,306.3 1509.3,305.7 1511.2,305.4 1513.0,306.1 1514.9,306.0 1516.8,305.2 1518.6,304.2 1520.5,304.7 1522.4,304.8 1524.2,305.1 1526.1,305.0 1528.0,305.3 1529.8,304.3 1531.7,303.7 1533.6,303.3 1535.4,302.9 1537.3,303.0 1539.2,302.1 1541.0,302.4 1542.9,302.9 1544.7,302.3 1546.6,303.2 1548.5,301.8 1550.3,300.9 1552.2,300.7 1554.1,300.6 1556.0,300.0 1557.9,300.0 1559.8,300.7 1561.7,299.8 1563.6,300.3 1565.5,298.8 1567.4,299.3 1569.3,298.6 1571.2,298.9 1573.1,299.1 1574.8,297.6 1576.6,297.1 1578.3,296.2 1580.1,295.6 1581.8,296.3 1583.6,295.5 1585.3,294.5 1587.1,294.3 1588.8,294.0 1590.7,293.7 1592.5,292.9 1594.4,292.5 1596.3,292.4 1598.1,292.2 1600.0,292.0 1601.5,290.0 1603.1,288.4 1604.7,288.2 1606.2,287.0 1607.8,285.5 1609.3,283.4 1610.3,281.5 1611.4,280.2 1612.4,279.0 1613.4,277.8 1614.5,276.4 1615.5,274.8 1616.5,273.0 1617.6,271.1 1618.6,269.7 1619.1,268.1 1619.6,266.4 1620.1,264.6 1620.6,262.5 1621.1,260.4 1621.6,258.6 1622.0,256.8 1622.5,255.2 1623.0,253.6 1623.5,251.8 1624.0,249.9 1624.5,248.1 1625.0,246.3 1625.5,244.4 1626.0,242.5 1626.5,240.5 1627.1,238.6 1627.6,236.9 1628.1,235.1 1628.6,233.5 1629.2,231.8 1629.7,229.9 1630.2,228.0 1631.3,225.8 1632.5,224.5 1633.7,223.1 1634.8,220.8 1636.3,222.5 1637.9,224.2 1639.4,225.7 1640.3,227.4 1641.2,229.3 1642.0,231.6 1642.9,233.5 1644.7,233.5 1646.4,235.6 1648.2,237.0 1649.9,238.8 1651.4,237.1 1652.8,235.4 1654.2,233.2 1655.7,230.9 1657.1,229.4 1658.5,228.4 1659.8,227.0 1661.2,225.7 1662.6,224.3 1663.8,221.8 1664.9,219.8 1666.1,218.4 1667.3,217.1 1668.1,218.9 1668.8,220.6 1669.6,222.4 1670.4,224.1 1671.1,225.6 1671.9,227.1 1672.4,229.2 1672.8,231.3 1673.3,233.5 1673.8,235.8 1674.2,237.8 1674.7,239.6 1675.2,241.4 1675.7,243.2 1676.1,245.0 1676.6,246.7 1677.0,248.5 1677.4,250.1 1677.9,251.7 1678.3,253.5 1678.7,255.5 1679.1,257.5 1679.5,259.7 1679.9,261.8 1680.4,263.7 1680.8,265.4 1681.2,267.2 1681.7,268.9 1682.2,270.7 1682.7,272.8 1683.1,274.8 1683.6,276.6 1684.1,278.4 1684.6,280.0 1685.1,281.5 1685.5,283.0 1686.0,284.4 1686.5,286.2 1687.0,288.1 1688.2,290.8 1689.3,292.6 1690.5,294.1 1691.6,295.6 1692.8,296.8 1694.6,297.2 1696.4,297.4 1698.2,297.0 1700.0,298.8 1701.7,299.1 1703.5,299.6 1705.3,299.4 1707.1,300.2 1708.9,301.3 1710.8,301.0 1712.6,301.1 1714.5,302.4 1716.4,302.5 1718.2,301.4 1720.1,301.6 1722.0,302.2 1723.8,301.7 1725.7,303.1 1727.5,303.9 1729.4,303.7 1731.3,303.8 1733.1,303.6 1735.0,304.5 1736.8,304.1 1738.6,303.9 1740.5,304.2 1742.3,304.8 1744.1,305.4 1745.9,305.8 1747.8,306.0 1749.6,305.5 1751.4,306.6 1753.2,306.1 1755.1,306.4 1756.9,306.5 1758.7,306.0 1760.5,305.5 1762.4,305.6 1764.2,305.6 1766.0,306.6"/>
</g>
<g clip-path="url(#cD)" fill="none" stroke-width="4.0" stroke-linejoin="round" stroke-linecap="butt">
<polyline stroke="#6f1a87" stroke-dasharray="11.5 3.2 5.8 3.2" points="974.0,469.6 976.2,469.4 978.3,468.4 980.5,467.2 982.2,466.6 984.0,466.1 985.7,465.4 987.4,464.4 989.2,464.4 990.9,463.4 992.9,463.3 994.9,463.1 996.9,463.5 998.8,462.7 1000.8,462.8 1002.8,462.6 1004.8,462.6 1006.7,462.4 1008.7,462.2 1010.6,461.6 1012.6,462.2 1014.5,462.1 1016.5,461.9 1018.4,462.1 1020.4,461.4 1022.3,461.5 1024.2,462.1 1026.1,462.3 1028.0,462.1 1029.9,461.8 1031.8,461.9 1033.7,462.2 1035.6,462.0 1037.5,462.3 1039.4,462.9 1041.3,462.6 1043.2,462.3 1045.2,462.2 1047.2,463.2 1049.2,463.4 1051.1,463.9 1053.1,464.2 1055.1,464.7 1057.1,465.3 1059.0,465.2 1061.0,465.5 1062.9,465.8 1064.8,466.8 1066.8,467.4 1068.7,468.2 1070.6,467.5 1072.6,468.1 1074.5,469.2 1076.2,470.6 1078.0,470.9 1079.7,471.5 1081.5,472.5 1083.2,473.4 1084.3,474.8 1085.4,476.4 1086.5,478.0 1087.6,479.2 1088.6,480.3 1089.7,481.9 1090.8,483.9 1091.9,485.2 1092.6,486.9 1093.2,488.6 1093.9,490.7 1094.6,492.6 1095.2,494.4 1095.9,496.1 1096.5,497.8 1097.2,499.5 1097.5,501.3 1097.8,503.2 1098.1,505.0 1098.4,506.8 1098.7,508.7 1099.1,510.5 1099.4,512.4 1099.7,514.2 1100.0,516.1 1100.3,518.0 1100.6,519.8 1100.9,521.8 1101.3,523.8 1101.6,525.8 1102.0,527.8 1102.3,529.8 1102.5,531.7 1102.6,533.6 1102.8,535.5 1102.9,537.4 1103.1,539.2 1103.2,541.1 1103.4,542.9 1103.6,544.8 1103.7,546.7 1103.9,548.5 1104.0,550.4 1104.2,552.2 1104.7,554.0 1105.1,555.8 1105.6,557.8 1106.0,559.8 1106.5,561.9 1107.0,564.1 1107.4,565.7 1107.9,567.4 1108.3,569.0 1108.8,570.7 1109.2,572.6 1109.7,574.6 1110.0,576.6 1110.4,578.5 1110.7,580.3 1111.0,582.2 1111.4,584.0 1111.7,585.9 1112.1,587.7 1112.4,589.6 1112.7,591.6 1113.1,593.4 1113.4,595.2 1113.8,593.2 1114.2,591.2 1114.7,589.2 1115.1,587.3 1115.5,585.4 1115.9,583.6 1116.4,581.7 1116.8,579.9 1117.2,578.0 1118.1,579.8 1119.0,581.3 1120.0,583.2 1120.9,585.6 1121.8,587.8 1122.7,589.6 1123.0,591.3 1123.4,593.0 1123.7,594.8 1124.1,596.6 1124.4,598.5 1124.8,600.4 1125.1,602.3 1125.5,604.3 1125.8,606.2 1126.2,608.0 1126.5,609.7 1126.8,611.5 1127.1,613.2 1127.4,615.0 1127.6,616.9 1127.9,618.7 1128.2,620.6 1128.5,622.5 1128.8,624.5 1129.1,626.4 1129.3,628.3 1129.6,630.2 1129.9,632.1 1130.2,634.0 1130.8,635.7 1131.4,637.7 1132.0,639.6 1132.6,641.6 1133.3,643.5 1133.9,645.1 1134.5,646.8 1135.1,648.6 1135.7,650.6 1137.6,651.6 1139.5,651.1 1141.3,651.7 1143.2,652.0 1144.3,650.0 1145.3,648.1 1146.4,646.3 1147.4,644.5 1148.5,643.0 1149.5,641.4 1150.6,639.9 1152.1,638.3 1153.6,636.9 1155.0,635.7 1156.5,634.9 1158.0,633.5 1159.2,632.1 1160.3,631.4 1161.5,630.1 1162.7,628.9 1163.8,627.5 1165.0,625.5 1166.1,624.5 1167.3,623.4 1168.2,621.2 1169.2,619.3 1170.1,617.7 1171.0,615.8 1171.3,613.8 1171.6,611.9 1171.9,609.9 1172.2,608.0 1172.5,606.2 1172.8,604.3 1173.0,602.5 1173.3,600.7 1173.6,598.9 1173.9,597.1 1174.2,595.3 1174.5,593.5 1174.8,591.7 1176.3,590.6 1177.8,589.7 1179.2,588.6 1180.7,586.9 1182.2,586.0 1183.5,584.9 1184.9,582.9 1186.2,581.4 1187.5,580.6 1188.8,579.2 1190.2,577.3 1191.5,576.2 1192.7,574.7 1194.0,572.9 1195.2,571.8 1196.4,570.8 1197.7,568.8 1198.9,566.6 1199.5,564.8 1200.0,563.1 1200.6,561.7 1201.1,560.3 1201.7,558.6 1203.4,556.7 1205.1,555.6 1206.7,554.9 1208.4,553.7 1210.1,552.4 1211.4,550.4 1212.6,549.3 1213.9,548.1 1215.3,546.2 1216.7,544.7 1218.0,542.7 1219.4,541.1 1220.0,539.3 1220.7,537.7 1221.3,536.2 1221.9,535.0 1222.6,533.2 1223.2,531.3 1223.8,529.2 1224.5,527.4 1225.1,525.7 1225.7,523.8 1226.4,521.9 1227.0,519.8 1227.4,518.1 1227.9,516.5 1228.3,514.9 1228.8,513.3 1229.2,511.6 1229.6,509.8 1230.1,508.1 1230.5,506.3 1231.1,504.4 1231.7,502.4 1232.2,500.4 1232.8,498.5 1233.4,496.6 1234.0,494.8 1234.9,493.2 1235.8,491.6 1236.7,490.0 1237.5,488.3 1238.4,486.6 1239.3,484.9 1240.2,483.3 1241.9,482.3 1243.6,482.4 1245.3,481.9 1247.0,481.2 1248.7,479.6 1250.4,479.0 1252.1,478.7 1253.8,478.0 1255.5,477.4 1257.3,477.5 1259.2,477.0 1261.0,476.3 1262.9,476.9 1264.7,476.0 1266.6,475.6 1268.4,475.9 1270.3,476.0 1272.1,475.9 1274.0,475.7 1275.8,474.5 1277.7,474.9 1279.6,474.5 1281.5,474.9 1283.4,474.8 1285.3,475.1 1287.2,475.3 1289.1,475.1 1291.0,474.6 1293.0,475.0 1294.9,474.9 1296.8,474.6 1298.7,474.8 1300.6,475.2 1302.5,475.3 1304.4,475.5 1306.3,474.8 1308.2,474.9 1310.1,475.3 1312.0,475.4 1313.9,476.1 1315.8,476.2 1317.7,476.5 1319.6,476.9 1321.5,477.2 1323.4,477.0 1325.3,477.5 1327.2,478.1 1329.2,478.5 1331.1,478.5 1333.0,479.4 1334.9,478.8 1336.8,478.7 1338.5,480.3 1340.2,480.9 1341.9,481.9 1343.6,482.6 1345.3,482.8 1347.0,483.3 1348.2,485.2 1349.5,487.3 1350.8,489.0 1352.0,490.3 1353.0,491.9 1354.0,493.4 1355.0,494.9 1356.0,496.2 1356.8,497.6 1357.5,499.0 1358.3,500.7 1359.1,502.7 1359.6,504.6 1360.1,506.6 1360.5,508.4 1361.0,510.2 1361.5,511.9 1361.9,513.8 1362.3,515.7 1362.7,517.5 1363.1,519.4 1363.5,521.4 1363.7,523.3 1363.8,525.2 1364.0,527.1 1364.1,529.0 1364.3,531.0 1364.5,533.0 1364.6,534.9 1364.8,536.9 1365.0,538.8 1365.1,540.8 1365.3,542.7 1365.4,544.6 1365.6,546.5 1365.8,548.4 1365.9,550.3 1366.1,552.2 1366.2,554.1 1366.4,556.0 1366.7,557.9 1367.0,559.8 1367.3,561.7 1367.6,563.6 1367.8,565.5 1368.1,567.4 1368.4,569.1 1368.7,570.9 1369.0,572.7 1369.3,574.5 1369.6,576.3 1369.8,578.1 1370.1,579.9 1370.4,581.9 1370.7,583.9 1371.0,585.9 1371.4,587.8 1371.7,589.7 1372.1,591.6 1372.4,593.3 1372.8,595.0 1373.1,596.7 1373.5,598.5 1373.8,600.2 1374.2,601.9 1374.5,603.7 1374.9,605.5 1375.2,607.3 1375.6,609.1 1375.9,610.9 1376.3,612.6 1376.6,614.3 1377.0,616.0 1377.3,617.7 1377.7,619.3 1378.0,621.1 1378.4,622.9 1378.7,621.2 1379.0,619.4 1379.4,617.6 1379.7,615.7 1380.0,613.9 1380.3,611.9 1380.6,609.9 1380.9,607.9 1381.2,606.0 1381.6,604.1 1381.9,602.2 1382.2,600.4 1383.0,602.3 1383.8,604.2 1384.6,606.0 1385.3,607.9 1386.1,609.8 1386.9,611.8 1387.7,613.8 1388.0,615.7 1388.4,617.6 1388.7,619.5 1389.1,621.5 1389.4,623.4 1389.8,625.3 1390.1,627.2 1390.5,628.9 1390.8,630.6 1391.2,632.4 1391.5,634.1 1391.9,635.8 1392.3,637.6 1392.7,639.5 1393.1,641.3 1393.6,643.2 1394.0,645.1 1394.4,647.0 1394.8,648.9 1395.2,650.8 1397.0,650.7 1398.9,651.2 1400.8,651.9 1402.6,651.8 1404.5,652.8 1406.3,652.9 1407.9,651.0 1409.5,649.8 1411.2,649.1 1412.8,649.3 1414.4,647.9 1416.0,646.6 1417.7,646.0 1419.3,644.9 1420.9,644.2 1422.5,643.7 1424.2,642.2 1425.8,641.1 1427.4,640.7 1429.0,639.3 1430.7,638.5 1432.3,637.8 1433.0,636.2 1433.8,634.0 1434.5,632.1 1435.3,630.5 1436.0,629.0 1436.5,627.0 1437.0,625.0 1437.5,623.2 1438.0,621.4 1438.5,619.9 1439.0,618.4 1439.5,616.8 1440.0,615.1 1440.5,613.4 1441.0,611.6 1441.5,609.7 1442.0,607.8 1442.5,605.8 1443.0,603.8 1443.5,602.1 1445.0,601.2 1446.6,599.8 1448.2,598.8 1449.7,597.5 1451.2,597.1 1452.8,595.9 1454.1,594.3 1455.5,592.9 1456.8,591.6 1458.1,590.1 1459.4,588.5 1460.8,587.3 1462.1,585.8 1462.6,583.8 1463.0,581.9 1463.5,580.2 1463.9,578.5 1464.4,576.6 1464.9,574.7 1465.3,572.7 1465.8,570.7 1467.4,569.9 1469.0,568.8 1470.7,567.6 1472.3,566.3 1473.9,565.5 1475.5,564.0 1477.2,563.0 1478.8,561.7 1480.0,559.5 1481.1,558.4 1482.3,557.2 1483.4,555.2 1484.6,553.4 1485.8,551.7 1486.9,550.3 1488.1,549.0 1488.6,547.0 1489.2,545.0 1489.7,543.1 1490.2,541.3 1490.8,539.7 1491.3,538.0 1492.2,535.5 1493.0,532.9 1493.3,531.1 1493.7,529.3 1494.0,527.5 1494.4,525.6 1494.8,523.7 1495.1,521.9 1495.5,520.0 1495.8,518.2 1496.2,516.4 1496.5,514.7 1497.1,513.1 1497.7,511.4 1498.3,509.6 1499.0,507.8 1499.6,506.1 1500.2,504.4 1501.5,503.0 1502.7,501.1 1504.0,499.7 1505.2,498.8 1506.5,497.6 1507.8,496.5 1509.0,494.9 1510.3,493.2 1512.2,491.9 1514.0,491.7 1515.9,491.6 1517.7,490.9 1519.6,490.4 1521.4,490.9 1523.3,489.5 1525.1,488.6 1527.0,488.1 1528.8,487.6 1530.7,487.6 1532.6,487.8 1534.5,487.9 1536.4,487.4 1538.3,487.2 1540.2,487.1 1542.1,486.7 1544.0,486.2 1545.9,486.9 1547.8,486.5 1549.7,486.4 1551.6,486.1 1553.5,485.2 1555.4,485.9 1557.3,485.6 1559.2,485.3 1561.1,485.3 1562.9,485.3 1564.7,485.7 1566.5,486.1 1568.4,486.0 1570.2,486.5 1572.0,486.6 1573.8,487.0 1575.6,486.7 1577.4,487.2 1579.2,486.8 1581.1,486.9 1582.9,487.2 1584.7,488.0 1586.5,488.1 1588.4,487.9 1590.3,488.9 1592.2,489.9 1594.2,491.2 1596.1,491.6 1598.0,491.1 1599.9,491.9 1601.8,492.9 1603.5,494.3 1605.2,495.0 1606.9,495.3 1608.6,496.3 1610.3,497.3 1612.0,498.5 1613.4,499.8 1614.9,500.7 1616.3,502.4 1617.8,503.8 1619.2,505.3 1620.7,506.6 1622.1,507.8 1622.7,509.6 1623.3,511.3 1623.9,512.9 1624.4,514.6 1625.0,516.3 1625.6,518.2 1626.2,520.0 1626.5,521.8 1626.8,523.7 1627.1,525.5 1627.3,527.3 1627.6,529.1 1627.9,530.9 1628.2,532.7 1628.5,534.5 1628.7,536.4 1628.8,538.3 1629.0,540.2 1629.2,542.2 1629.4,544.1 1629.5,546.1 1629.7,548.1 1630.1,550.1 1630.4,552.0 1630.8,554.0 1631.2,555.9 1631.6,557.7 1631.9,559.5 1632.3,561.5 1632.7,563.5 1633.1,565.6 1633.4,567.6 1633.8,569.7 1634.2,571.7 1634.6,573.4 1634.9,575.2 1635.3,576.9 1635.6,578.7 1635.9,580.4 1636.1,582.2 1636.4,584.0 1636.7,585.8 1637.0,587.7 1637.2,589.6 1637.5,591.6 1637.8,593.6 1638.1,595.5 1638.3,597.4 1638.6,599.3 1638.9,601.1 1639.2,602.9 1639.4,604.7 1639.7,606.4 1640.0,608.2 1640.2,610.0 1640.3,611.8 1640.5,613.6 1640.7,615.5 1640.8,617.3 1641.0,619.1 1641.2,620.9 1641.3,622.7 1641.5,624.5 1641.7,626.3 1641.9,628.1 1642.0,629.9 1642.2,631.7 1642.4,633.5 1642.5,635.3 1642.7,637.1 1643.0,635.2 1643.2,633.3 1643.5,631.5 1643.8,629.6 1644.1,627.8 1644.3,626.0 1644.6,624.2 1644.9,622.4 1645.1,620.6 1645.4,618.7 1645.7,616.9 1646.0,615.1 1646.2,613.2 1646.5,611.3 1647.6,612.7 1648.7,614.3 1649.8,616.2 1650.9,617.6 1652.0,619.1 1652.4,621.0 1652.7,623.0 1653.1,624.9 1653.5,626.9 1653.8,628.9 1654.2,630.9 1654.6,632.8 1655.0,634.8 1655.3,636.6 1655.7,638.3 1656.2,640.1 1656.8,641.8 1657.3,643.6 1657.9,645.5 1658.4,647.2 1659.0,648.9 1659.5,650.4 1661.3,650.8 1663.2,651.7 1665.0,651.2 1666.9,652.3 1668.7,652.5 1670.6,651.9 1672.4,651.2 1674.3,651.0 1676.2,650.1 1678.0,649.4 1679.9,648.6 1681.5,648.2 1683.2,647.3 1684.8,646.2 1686.4,645.7 1688.0,644.9 1689.7,644.0 1691.3,642.3 1692.9,641.2 1694.4,640.0 1695.9,638.4 1697.3,636.9 1698.8,635.6 1700.3,633.9 1700.6,632.0 1700.8,630.1 1701.1,628.2 1701.4,626.3 1701.6,624.3 1701.9,622.4 1702.2,620.5 1702.4,618.6 1702.7,616.8 1702.9,614.9 1703.2,613.2 1703.5,611.5 1703.7,609.8 1704.0,608.1 1705.9,607.7 1707.8,606.1 1709.6,605.1 1711.5,604.4 1713.1,603.3 1714.8,601.8 1716.4,601.4 1718.1,600.2 1719.7,599.0 1721.4,598.0 1723.0,596.9 1724.7,595.8 1726.3,595.0 1726.8,593.2 1727.2,591.4 1727.7,589.5 1728.2,587.7 1728.7,586.1 1729.1,584.4 1729.6,582.7 1730.1,581.0 1731.7,579.0 1733.3,578.0 1735.0,577.0 1736.6,575.7 1738.2,573.9 1739.8,573.3 1741.5,572.0 1743.1,570.8 1744.0,569.4 1745.0,567.9 1745.9,566.0 1746.8,564.1 1747.7,562.6 1748.7,561.2 1749.6,559.7 1750.5,558.2 1751.5,556.9 1752.4,555.4 1753.3,553.5 1754.2,551.7 1755.2,550.1 1756.1,548.6 1756.6,546.9 1757.2,545.2 1757.7,543.4 1758.3,541.5 1758.8,539.6 1759.4,537.6 1759.9,535.7 1760.5,533.9 1761.0,532.0 1761.3,530.2 1761.6,528.3 1761.9,526.4 1762.2,524.4 1762.5,522.4 1762.9,520.3 1763.2,518.3 1763.5,516.4 1763.8,514.5 1764.1,512.6 1765.0,510.6 1766.0,508.0"/>
<polyline stroke="#0068ba" stroke-dasharray="11.5 3.2 5.8 3.2" points="974.0,469.6 976.2,469.4 978.3,468.4 980.5,467.2 982.2,466.6 984.0,466.1 985.7,465.4 987.4,464.4 989.2,464.4 990.9,463.4 992.9,463.3 994.9,463.1 996.9,463.5 998.8,462.7 1000.8,462.8 1002.8,462.6 1004.8,462.6 1006.7,462.4 1008.7,462.2 1010.6,461.6 1012.6,462.2 1014.5,462.1 1016.5,461.9 1018.4,462.1 1020.4,461.4 1022.3,461.5 1024.2,462.1 1026.1,462.3 1028.0,462.1 1029.9,461.8 1031.8,461.9 1033.7,462.2 1035.6,462.0 1037.5,462.3 1039.4,462.9 1041.3,462.6 1043.2,462.3 1045.2,462.2 1047.2,463.1 1049.2,463.3 1051.1,463.8 1053.1,464.1 1055.1,464.6 1057.1,465.1 1059.0,464.9 1061.0,465.3 1062.9,465.5 1064.8,466.4 1066.8,467.0 1068.7,467.8 1070.6,467.1 1072.6,467.7 1074.5,468.7 1076.2,470.0 1078.0,470.2 1079.8,470.7 1081.5,471.6 1082.8,473.2 1084.1,474.6 1085.4,476.2 1086.7,477.8 1088.0,478.8 1089.3,480.0 1090.6,482.0 1091.9,483.4 1092.7,485.1 1093.5,487.0 1094.2,489.0 1095.0,490.9 1095.8,492.6 1096.6,494.3 1097.3,496.0 1098.1,497.6 1098.9,499.1 1099.2,501.0 1099.6,502.9 1100.0,504.8 1100.3,506.6 1100.7,508.5 1101.0,510.4 1101.4,512.4 1101.7,514.3 1102.1,516.3 1102.4,518.3 1102.7,520.2 1103.0,522.1 1103.4,524.0 1103.7,525.9 1104.0,527.8 1104.3,529.7 1104.6,531.5 1104.9,533.3 1105.3,535.3 1105.6,537.3 1105.9,539.3 1106.3,541.4 1106.7,543.5 1107.1,545.5 1107.5,547.1 1107.9,548.8 1108.8,550.0 1109.7,551.8 1110.7,553.4 1111.6,555.0 1112.5,556.6 1113.4,558.1 1115.3,557.6 1117.2,557.6 1117.9,559.4 1118.6,561.0 1119.3,562.7 1120.0,564.6 1120.6,566.8 1121.3,569.0 1122.0,571.1 1122.7,572.8 1123.1,574.5 1123.6,576.2 1124.0,577.9 1124.4,579.9 1124.9,581.8 1125.3,583.8 1125.7,585.7 1126.1,587.6 1126.6,589.3 1127.0,591.0 1127.4,592.7 1127.9,594.5 1128.3,596.5 1128.7,598.5 1129.1,600.5 1129.5,602.4 1129.9,604.3 1130.4,606.1 1130.8,607.9 1131.2,609.8 1131.6,611.7 1132.0,613.6 1132.3,615.5 1132.6,617.5 1132.9,619.4 1133.2,621.2 1133.5,622.9 1133.8,624.7 1134.2,626.5 1134.5,628.2 1134.8,630.0 1135.1,631.8 1135.4,633.8 1135.7,635.7 1136.2,637.9 1136.8,640.1 1137.3,642.1 1137.9,643.9 1138.4,645.5 1139.0,647.0 1139.5,648.7 1141.3,650.5 1143.2,652.0 1143.8,650.1 1144.3,648.2 1144.9,646.3 1145.4,644.5 1146.0,642.7 1146.5,640.8 1147.0,639.0 1147.6,637.3 1148.2,635.6 1148.7,633.9 1150.1,632.9 1151.5,631.4 1152.9,629.5 1154.3,628.0 1155.5,626.5 1156.8,625.2 1158.0,623.3 1159.3,621.8 1160.5,621.0 1161.8,619.5 1163.3,618.2 1164.8,616.2 1166.2,615.0 1167.7,613.6 1169.2,611.9 1169.6,610.1 1170.0,608.4 1170.4,606.5 1170.8,604.6 1171.2,602.7 1171.6,600.7 1172.0,598.7 1172.1,596.8 1172.3,595.0 1172.4,593.1 1172.5,591.3 1172.6,589.4 1172.8,587.6 1172.9,585.7 1174.5,585.1 1176.0,584.3 1177.6,583.6 1179.1,582.7 1180.7,581.2 1182.2,580.5 1183.4,579.3 1184.5,577.5 1185.7,575.6 1186.8,574.5 1188.0,573.6 1189.2,571.7 1190.3,569.9 1191.5,568.7 1192.2,567.1 1193.0,565.4 1193.7,563.6 1194.5,562.0 1195.2,560.6 1195.9,559.4 1196.7,557.8 1197.4,555.9 1198.2,553.7 1198.9,551.7 1200.3,550.8 1201.7,550.2 1203.1,548.4 1204.5,547.1 1205.9,546.5 1207.3,545.5 1208.7,544.4 1210.1,543.1 1212.0,541.4 1213.9,541.1 1215.4,539.5 1216.8,538.3 1218.3,536.5 1219.7,535.1 1221.2,534.0 1221.7,532.6 1222.2,531.1 1222.6,529.3 1223.1,527.4 1223.6,525.4 1224.1,523.4 1224.6,521.7 1225.0,519.9 1225.5,518.1 1226.0,516.3 1226.5,514.2 1227.0,512.1 1227.5,510.3 1228.0,508.6 1228.5,506.9 1229.0,505.2 1229.5,503.3 1230.1,501.5 1230.7,499.7 1231.2,497.8 1231.8,495.9 1232.4,494.0 1233.0,492.1 1234.2,490.7 1235.4,489.0 1236.6,487.3 1237.8,485.6 1239.0,483.7 1240.2,482.1 1241.9,481.2 1243.6,481.2 1245.3,480.8 1247.0,480.1 1248.7,478.5 1250.4,477.9 1252.1,477.7 1253.8,477.0 1255.5,476.4 1257.3,476.5 1259.2,476.0 1261.0,475.3 1262.9,475.9 1264.7,475.0 1266.6,474.6 1268.4,474.9 1270.3,475.0 1272.1,474.9 1274.0,474.7 1275.8,473.5 1277.7,473.9 1279.6,473.5 1281.5,473.9 1283.4,473.8 1285.3,474.1 1287.2,474.3 1289.1,474.1 1291.0,473.6 1293.0,474.0 1294.9,473.9 1296.8,473.6 1298.7,473.8 1300.6,474.2 1302.5,474.3 1304.4,474.5 1306.3,473.8 1308.2,473.9 1310.1,474.3 1312.0,474.4 1313.9,475.1 1315.8,475.2 1317.7,475.5 1319.6,475.9 1321.5,476.2 1323.4,476.0 1325.3,476.4 1327.2,477.1 1329.2,477.4 1331.1,477.4 1333.0,478.2 1334.9,477.7 1336.8,477.5 1338.5,479.0 1340.2,479.6 1341.9,480.6 1343.6,481.2 1345.3,481.3 1347.0,481.8 1348.2,483.6 1349.5,485.6 1350.8,487.2 1352.0,488.4 1353.3,490.3 1354.7,492.1 1356.0,493.7 1357.0,495.4 1358.1,497.3 1359.1,499.7 1359.7,501.7 1360.3,503.5 1361.0,505.3 1361.6,507.0 1362.2,508.6 1362.6,510.4 1363.0,512.1 1363.3,514.0 1363.7,515.9 1364.1,517.9 1364.4,520.0 1364.6,522.1 1364.9,524.2 1365.1,526.2 1365.4,528.2 1365.6,530.2 1365.9,532.2 1366.1,534.0 1366.3,535.9 1366.5,537.7 1366.7,539.5 1366.9,541.4 1367.1,543.2 1367.3,545.0 1367.6,547.0 1367.9,548.9 1368.2,550.7 1368.5,552.4 1368.8,554.2 1369.2,556.0 1369.5,557.8 1369.8,559.6 1370.1,561.4 1370.4,563.4 1370.7,565.4 1371.0,567.4 1371.8,569.5 1372.6,571.4 1373.4,573.1 1374.2,574.9 1375.0,576.9 1375.8,578.8 1376.6,580.5 1378.0,581.5 1379.4,583.2 1380.8,584.3 1382.2,585.5 1382.9,587.4 1383.6,589.3 1384.3,591.1 1385.0,593.0 1385.6,594.9 1386.3,596.9 1387.0,598.9 1387.7,600.8 1388.1,602.7 1388.5,604.6 1389.0,606.6 1389.4,608.5 1389.8,610.5 1390.2,612.3 1390.7,614.0 1391.1,615.7 1391.5,617.4 1391.8,619.2 1392.1,620.9 1392.4,622.8 1392.7,624.6 1393.0,626.4 1393.3,628.3 1393.7,630.2 1394.0,632.1 1394.3,634.0 1394.6,635.9 1394.9,637.8 1395.2,639.6 1395.8,641.3 1396.4,643.1 1397.1,644.8 1397.7,646.6 1398.3,648.6 1398.9,650.6 1400.8,651.3 1402.6,651.4 1404.5,652.4 1406.3,652.6 1407.2,650.5 1408.2,648.4 1409.1,646.6 1410.0,645.0 1410.9,643.5 1411.8,642.6 1412.8,641.6 1413.7,639.9 1415.2,638.1 1416.7,637.1 1418.2,636.2 1419.7,634.9 1421.2,634.0 1422.7,633.2 1424.2,631.6 1425.6,630.2 1427.1,629.7 1428.6,628.3 1430.1,627.1 1431.6,626.1 1433.0,625.4 1434.5,623.9 1436.0,623.4 1436.2,621.4 1436.5,619.4 1436.7,617.4 1437.0,615.5 1437.2,613.6 1437.4,611.7 1437.7,609.7 1437.9,607.8 1438.2,606.0 1438.4,604.3 1438.7,602.6 1439.0,600.9 1439.3,599.1 1439.5,597.3 1439.8,595.5 1441.3,594.1 1442.9,592.2 1444.4,591.0 1445.9,590.0 1447.5,588.7 1449.0,587.6 1450.4,586.7 1451.8,586.3 1453.2,584.9 1454.6,583.5 1456.0,582.3 1457.4,581.2 1458.8,579.8 1460.2,578.4 1460.7,576.7 1461.3,574.8 1461.8,572.9 1462.3,570.9 1462.8,568.9 1463.4,567.2 1463.9,565.5 1465.3,564.1 1466.7,562.9 1468.1,562.1 1469.5,560.9 1470.9,559.7 1472.3,558.3 1473.7,557.5 1475.1,556.1 1476.3,554.7 1477.4,553.5 1478.6,552.0 1479.8,550.1 1480.9,549.0 1482.1,548.2 1483.2,546.5 1484.4,544.8 1485.2,543.2 1486.1,541.4 1486.9,540.0 1487.8,538.7 1488.6,536.8 1489.5,534.9 1490.3,533.1 1491.2,531.7 1492.0,530.0 1492.4,528.2 1492.8,526.3 1493.2,524.5 1493.6,522.7 1494.0,520.9 1494.4,519.0 1494.8,517.1 1495.2,515.2 1495.6,513.4 1496.0,511.5 1496.6,509.9 1497.2,508.2 1497.8,506.4 1498.4,504.6 1499.0,502.8 1499.6,501.0 1500.2,499.3 1501.6,497.9 1503.1,496.1 1504.5,495.2 1506.0,494.3 1507.4,493.3 1508.9,491.9 1510.3,490.3 1512.2,489.0 1514.0,488.8 1515.9,488.6 1517.7,487.9 1519.6,487.5 1521.4,487.9 1523.3,486.5 1525.1,485.6 1527.0,485.1 1528.8,484.6 1530.7,484.6 1532.6,484.8 1534.5,484.9 1536.4,484.4 1538.3,484.2 1540.2,484.0 1542.1,483.7 1544.0,483.1 1545.9,483.9 1547.8,483.5 1549.7,483.3 1551.6,483.0 1553.5,482.1 1555.4,482.8 1557.3,482.5 1559.2,482.2 1561.1,482.2 1562.9,482.2 1564.7,482.6 1566.5,483.0 1568.4,482.9 1570.2,483.5 1572.0,483.5 1573.8,484.0 1575.6,483.6 1577.4,484.1 1579.2,483.8 1581.1,483.8 1582.9,484.2 1584.7,485.0 1586.5,485.1 1588.4,484.6 1590.2,485.3 1592.1,486.1 1593.9,487.2 1595.8,487.4 1597.6,486.7 1599.5,486.9 1601.3,487.8 1603.2,488.5 1605.0,488.8 1606.9,488.5 1608.6,489.8 1610.3,491.1 1612.0,492.6 1613.6,493.6 1615.3,494.5 1617.0,495.9 1618.2,497.6 1619.4,499.4 1620.5,501.0 1621.7,502.5 1622.9,504.1 1624.1,505.6 1624.8,507.3 1625.5,509.1 1626.2,510.9 1626.8,512.5 1627.5,514.1 1628.2,515.6 1628.5,517.5 1628.9,519.4 1629.2,521.4 1629.5,523.5 1629.8,525.6 1630.2,527.6 1630.5,529.7 1630.7,531.8 1631.0,533.9 1631.2,535.8 1631.5,537.8 1631.7,539.7 1631.9,541.5 1632.0,543.3 1632.2,545.2 1632.3,547.1 1632.5,549.0 1632.6,550.9 1632.8,552.8 1632.9,554.7 1633.1,556.6 1633.2,558.5 1633.4,560.4 1633.7,562.5 1634.1,564.5 1634.4,566.3 1634.7,568.1 1635.0,569.9 1635.3,571.7 1635.7,573.4 1636.0,575.1 1636.6,576.9 1637.2,578.8 1637.8,580.9 1638.5,582.8 1639.1,584.6 1639.7,586.2 1640.3,587.8 1640.9,589.5 1642.3,590.4 1643.7,591.5 1645.1,593.1 1646.5,594.5 1647.4,596.0 1648.3,597.6 1649.2,599.4 1650.2,601.2 1651.1,602.7 1652.0,604.2 1652.5,606.2 1652.9,608.1 1653.4,610.1 1653.8,612.2 1654.3,614.2 1654.8,616.1 1655.2,618.0 1655.7,619.7 1656.0,621.5 1656.3,623.3 1656.7,625.1 1657.0,626.9 1657.3,628.7 1657.6,630.6 1657.9,632.5 1658.2,634.3 1658.5,636.0 1658.9,637.7 1659.2,639.4 1659.5,641.1 1660.4,642.7 1661.3,645.0 1662.3,647.4 1663.2,649.3 1664.1,650.6 1666.1,650.7 1668.1,651.2 1670.2,650.9 1672.2,650.8 1674.2,651.2 1676.2,650.9 1677.3,649.3 1678.4,647.7 1679.6,646.0 1680.7,644.6 1681.8,643.7 1683.7,642.5 1685.5,641.7 1687.3,641.1 1689.2,640.4 1691.1,638.7 1692.9,637.5 1694.1,636.2 1695.4,634.7 1696.6,633.0 1697.8,631.7 1699.1,630.1 1700.3,628.4 1700.5,626.5 1700.7,624.6 1700.9,622.8 1701.2,620.8 1701.4,618.9 1701.6,616.9 1701.8,615.0 1702.0,613.1 1702.2,611.2 1702.5,609.4 1702.7,607.5 1702.9,605.7 1703.1,603.9 1704.8,604.1 1706.5,603.3 1708.1,601.9 1709.8,601.3 1711.5,600.7 1713.0,599.6 1714.5,598.0 1715.9,597.4 1717.4,596.3 1718.9,595.0 1720.4,593.8 1721.9,592.8 1723.3,591.5 1724.8,590.4 1726.3,589.5 1726.8,587.7 1727.2,585.9 1727.7,584.0 1728.2,582.2 1728.7,580.5 1729.1,578.8 1729.6,577.1 1730.1,575.4 1731.7,573.4 1733.3,572.4 1735.0,571.4 1736.6,570.1 1738.2,568.3 1739.8,567.7 1741.5,566.4 1743.1,565.2 1744.3,564.0 1745.4,562.6 1746.6,560.8 1747.8,559.4 1748.9,558.3 1750.1,557.0 1751.2,555.8 1752.4,554.6 1753.1,552.7 1753.7,550.8 1754.4,549.1 1755.1,547.4 1755.8,545.7 1756.4,544.2 1757.1,542.6 1757.8,541.0 1758.5,539.3 1759.1,537.5 1759.8,535.6 1760.2,533.5 1760.7,531.4 1761.1,529.3 1761.5,527.2 1761.8,525.3 1762.1,523.3 1762.4,521.2 1762.7,519.2 1762.9,517.1 1763.2,515.1 1763.5,513.2 1763.8,511.2 1764.1,509.3 1765.0,507.5 1766.0,505.0"/>
<polyline stroke="#d53f07" points="974.0,469.6 976.2,469.4 978.3,468.4 980.5,467.2 982.2,466.6 984.0,466.1 985.7,465.4 987.4,464.4 989.2,464.4 990.9,463.4 992.9,463.3 994.9,463.1 996.9,463.5 998.8,462.7 1000.8,462.8 1002.8,462.6 1004.8,462.6 1006.7,462.4 1008.7,462.2 1010.6,461.6 1012.6,462.2 1014.5,462.1 1016.5,461.9 1018.4,462.1 1020.4,461.4 1022.3,461.5 1024.2,462.1 1026.1,462.3 1028.0,462.1 1029.9,461.8 1031.8,461.9 1033.7,462.2 1035.6,462.0 1037.5,462.3 1039.4,462.9 1041.3,462.6 1043.2,462.3 1045.2,462.1 1047.2,463.0 1049.2,463.2 1051.1,463.6 1053.1,463.9 1055.1,464.4 1057.1,464.9 1059.0,464.7 1061.0,465.0 1062.9,465.2 1064.8,466.1 1066.8,466.7 1068.7,467.4 1070.6,466.7 1072.6,467.2 1074.5,468.2 1076.2,469.6 1078.0,470.0 1079.8,470.6 1081.5,471.6 1083.2,472.6 1085.0,473.3 1086.7,474.3 1088.4,474.5 1090.2,475.5 1091.9,476.5 1092.9,478.1 1093.9,480.3 1094.9,482.3 1095.9,484.0 1096.9,485.7 1097.9,487.2 1098.9,488.7 1099.4,490.4 1099.9,492.1 1100.5,493.8 1101.0,495.5 1101.5,497.3 1102.0,499.0 1102.5,500.8 1103.1,502.6 1103.6,504.4 1104.1,506.1 1104.6,507.7 1105.1,509.4 1105.6,511.3 1106.1,513.3 1106.6,515.3 1107.1,517.2 1107.6,518.7 1107.9,520.5 1108.3,522.3 1108.6,524.0 1109.0,525.8 1109.3,527.8 1109.7,529.9 1110.0,532.0 1110.4,533.9 1110.8,535.8 1111.1,537.7 1111.4,539.8 1111.8,541.8 1112.1,544.0 1112.5,546.1 1112.8,548.3 1113.1,546.3 1113.4,544.3 1113.7,542.3 1114.0,540.3 1114.2,538.2 1114.5,536.2 1114.8,534.2 1115.1,532.2 1115.4,530.3 1115.9,532.1 1116.5,533.8 1117.0,535.6 1117.6,537.2 1118.1,538.9 1121.5,539.4 1122.7,541.2 1123.0,542.9 1123.3,544.7 1123.7,546.4 1124.0,548.2 1124.3,550.1 1124.6,552.0 1124.9,553.9 1125.2,555.9 1125.5,557.8 1125.9,559.7 1126.2,561.5 1126.5,563.2 1127.0,564.9 1127.4,566.7 1127.9,568.5 1128.3,570.4 1128.8,572.5 1129.3,574.4 1129.7,576.4 1130.2,578.3 1131.1,580.0 1132.1,582.0 1133.0,584.1 1133.9,585.6 1134.2,587.4 1134.5,589.2 1134.8,590.9 1135.1,592.8 1135.4,594.7 1135.8,596.7 1136.1,598.7 1136.4,600.8 1136.7,602.8 1137.0,604.9 1137.3,606.8 1137.6,608.6 1137.9,610.4 1138.2,612.1 1138.5,613.8 1138.8,615.5 1139.1,617.2 1139.4,619.0 1139.8,620.8 1140.1,622.7 1140.4,624.6 1140.7,626.6 1141.0,628.6 1141.3,630.5 1141.6,632.4 1141.9,634.4 1142.1,636.3 1142.4,638.1 1142.7,640.0 1143.0,641.8 1143.3,643.6 1143.5,645.4 1143.8,647.2 1144.1,649.0 1144.3,647.1 1144.4,645.2 1144.6,643.3 1144.8,641.4 1144.9,639.5 1145.1,637.6 1145.3,635.7 1145.4,633.9 1145.6,632.0 1145.7,630.1 1145.9,628.3 1146.1,626.4 1146.2,624.5 1146.4,622.7 1146.6,620.8 1146.7,618.9 1146.9,617.0 1148.8,618.2 1150.6,619.5 1152.0,617.7 1153.4,615.9 1154.8,614.4 1156.2,613.3 1157.6,611.8 1159.0,610.1 1160.4,609.6 1161.8,608.3 1163.0,606.7 1164.3,604.6 1165.5,602.5 1167.8,601.4 1170.1,600.0 1170.2,598.1 1170.4,596.1 1170.5,594.2 1170.7,592.3 1170.8,590.3 1171.0,588.4 1171.1,586.4 1171.3,584.5 1171.4,582.5 1171.6,580.5 1171.7,578.5 1171.9,576.6 1172.0,574.6 1173.5,573.2 1175.1,571.9 1176.6,570.5 1178.5,570.1 1180.3,569.0 1182.2,568.4 1183.1,567.0 1184.1,565.2 1185.0,563.0 1185.9,561.2 1187.8,560.9 1189.6,559.4 1191.5,558.5 1193.3,557.5 1195.2,556.8 1195.7,555.1 1196.1,553.3 1196.6,551.4 1197.1,549.3 1197.5,547.0 1198.0,544.7 1199.7,543.4 1201.3,543.2 1203.0,541.7 1204.6,540.7 1206.3,540.3 1207.9,539.2 1209.5,538.1 1211.2,536.3 1212.8,535.5 1213.3,533.2 1213.9,530.7 1214.8,528.9 1215.8,527.5 1216.7,525.9 1217.6,524.0 1218.5,522.4 1219.5,520.8 1220.4,519.2 1221.3,517.9 1222.2,516.8 1223.2,515.1 1224.1,513.0 1225.0,511.4 1225.6,509.4 1226.2,507.4 1226.8,505.3 1227.3,503.3 1227.9,501.6 1228.5,499.9 1229.1,498.1 1229.7,496.1 1230.3,494.0 1230.9,492.0 1231.5,489.9 1232.1,487.8 1233.4,486.5 1234.8,485.2 1236.2,483.7 1237.5,482.3 1238.8,480.7 1240.2,479.3 1241.9,478.4 1243.6,478.4 1245.3,478.0 1247.0,477.3 1248.7,475.7 1250.4,475.1 1252.1,474.9 1253.8,474.2 1255.5,473.6 1257.3,473.7 1259.2,473.2 1261.0,472.6 1262.9,473.1 1264.7,472.3 1266.6,471.9 1268.4,472.2 1270.3,472.3 1272.1,472.2 1274.0,472.0 1275.8,470.8 1277.7,471.2 1279.6,470.8 1281.5,471.2 1283.4,471.1 1285.3,471.4 1287.2,471.6 1289.1,471.4 1291.0,470.9 1293.0,471.3 1294.9,471.2 1296.8,470.9 1298.7,471.1 1300.6,471.5 1302.5,471.6 1304.4,471.8 1306.3,471.1 1308.2,471.2 1310.1,471.6 1312.0,471.7 1313.9,472.5 1315.8,472.6 1317.7,472.8 1319.6,473.3 1321.5,473.6 1323.4,473.4 1325.3,473.8 1327.2,474.4 1329.2,474.7 1331.1,474.6 1333.0,475.5 1334.9,474.9 1336.8,474.7 1338.8,476.3 1340.9,476.9 1342.9,477.7 1345.0,478.0 1347.0,478.3 1348.5,479.5 1350.0,481.0 1351.5,481.5 1353.1,482.4 1354.6,483.5 1356.1,484.2 1357.1,485.6 1358.1,487.1 1359.2,489.2 1360.2,491.1 1361.2,492.6 1362.2,493.9 1363.2,495.1 1364.2,496.8 1365.2,498.7 1365.5,500.7 1365.9,502.8 1366.2,504.9 1366.6,507.0 1367.0,509.0 1367.3,511.1 1367.8,513.3 1368.3,515.2 1368.8,517.1 1369.3,519.0 1371.1,522.1 1371.4,524.1 1371.6,526.1 1371.9,528.1 1372.1,530.1 1372.4,532.0 1372.7,533.8 1372.9,535.7 1373.2,537.6 1373.4,539.5 1373.7,541.3 1374.2,543.3 1374.7,545.2 1375.0,547.1 1375.3,549.0 1375.6,550.9 1375.8,552.7 1376.1,554.6 1376.4,556.3 1376.7,558.1 1377.0,559.9 1377.3,561.7 1377.5,563.5 1377.8,565.2 1378.1,567.1 1378.4,569.0 1378.7,567.3 1378.9,565.5 1379.2,563.7 1379.4,561.8 1379.7,560.0 1379.9,558.2 1380.2,556.2 1380.4,554.3 1380.7,552.3 1380.9,550.3 1381.2,548.4 1381.7,550.3 1382.1,552.1 1382.6,554.0 1383.1,555.9 1383.5,557.7 1384.0,559.5 1385.8,558.7 1387.7,558.1 1388.1,560.0 1388.5,561.9 1388.8,563.9 1389.2,565.8 1389.6,567.7 1390.0,569.7 1390.4,571.4 1390.7,573.1 1391.1,574.9 1391.5,576.6 1391.7,578.4 1391.8,580.2 1392.0,582.0 1392.1,583.8 1392.2,585.7 1392.4,587.5 1392.5,589.3 1392.7,591.2 1392.8,593.0 1393.0,594.8 1393.1,596.7 1393.3,598.5 1395.2,600.6 1397.0,602.1 1397.5,603.9 1397.9,605.8 1398.4,607.7 1398.8,609.7 1399.3,611.7 1399.8,613.8 1400.2,615.7 1400.7,617.5 1401.1,619.2 1401.5,621.0 1401.8,622.7 1402.2,624.5 1402.6,626.4 1403.0,628.3 1403.4,630.3 1403.7,632.4 1404.1,634.4 1404.5,636.4 1404.9,638.3 1405.3,640.0 1405.7,641.7 1406.1,643.3 1406.6,644.8 1407.0,646.4 1407.4,647.9 1407.8,649.4 1408.2,651.0 1408.4,649.1 1408.6,647.3 1408.8,645.5 1409.0,643.6 1409.2,641.8 1409.4,640.0 1409.6,638.2 1409.8,636.4 1410.0,634.6 1410.2,632.8 1410.4,631.1 1410.6,629.3 1410.8,627.5 1411.0,625.8 1413.3,627.0 1415.6,626.2 1417.4,624.6 1419.3,622.6 1421.2,621.7 1423.0,620.8 1424.9,618.6 1426.1,617.1 1427.4,615.6 1428.6,613.4 1430.5,612.1 1432.3,611.2 1434.2,609.8 1434.3,607.9 1434.5,606.1 1434.6,604.3 1434.8,602.4 1434.9,600.6 1435.0,598.7 1435.2,596.9 1435.3,595.1 1435.4,593.3 1435.6,591.5 1435.7,589.8 1435.9,588.0 1436.0,586.2 1437.4,584.5 1438.8,583.6 1440.2,582.7 1441.6,581.4 1443.5,580.0 1445.3,579.8 1447.2,579.0 1448.1,577.6 1449.1,576.0 1450.0,574.3 1450.9,573.4 1452.8,572.9 1454.6,571.8 1456.5,571.0 1458.3,570.1 1460.2,569.1 1460.5,567.3 1460.9,565.5 1461.2,563.7 1461.6,561.8 1462.0,559.9 1462.3,557.9 1462.7,556.0 1463.0,554.1 1464.7,553.5 1466.5,552.5 1468.2,552.1 1469.9,551.2 1471.6,550.2 1473.4,549.7 1475.1,548.7 1475.8,547.0 1476.6,545.4 1477.3,543.8 1478.1,542.2 1478.8,540.3 1479.9,538.3 1481.0,537.2 1482.2,536.2 1483.3,534.3 1484.4,532.5 1485.5,531.0 1486.6,529.5 1487.8,528.4 1488.9,526.6 1490.0,524.7 1490.6,523.0 1491.2,521.3 1491.8,519.4 1492.3,517.5 1492.9,515.6 1493.5,513.7 1494.1,511.8 1494.5,509.8 1494.8,507.8 1495.2,505.8 1495.6,503.9 1496.0,502.0 1496.3,500.2 1496.7,498.4 1497.1,496.6 1498.4,495.6 1499.8,494.5 1501.2,493.2 1502.5,491.2 1503.8,489.6 1505.2,488.6 1506.9,488.1 1508.6,487.2 1510.3,485.8 1512.0,484.3 1513.7,483.7 1515.4,483.4 1517.1,482.6 1518.8,481.6 1520.5,481.7 1522.3,481.6 1524.1,480.5 1525.9,480.2 1527.8,480.0 1529.6,480.2 1531.4,480.3 1533.2,480.4 1535.0,480.3 1536.8,479.6 1538.6,479.5 1540.5,479.2 1542.3,478.8 1544.1,478.2 1545.9,478.8 1547.7,478.6 1549.5,478.6 1551.3,478.6 1553.2,477.7 1555.0,478.5 1556.8,478.5 1558.6,478.4 1560.4,478.4 1562.2,478.5 1564.0,478.5 1565.9,478.8 1567.7,478.7 1569.5,478.8 1571.3,478.9 1573.2,479.4 1575.1,479.0 1577.0,479.5 1578.9,479.3 1580.8,479.2 1582.7,479.6 1584.6,480.3 1586.5,480.5 1588.4,479.9 1590.3,480.6 1592.2,481.3 1594.2,482.3 1596.1,482.4 1598.0,481.5 1599.9,482.0 1601.8,482.7 1603.8,483.8 1605.9,483.7 1607.9,484.0 1610.0,484.7 1612.0,485.5 1613.6,486.4 1615.2,487.2 1616.9,488.6 1618.5,489.7 1620.1,490.9 1621.3,492.3 1622.5,493.9 1623.8,495.3 1625.0,496.9 1626.2,498.7 1627.2,500.1 1628.2,501.3 1629.2,502.7 1630.2,504.5 1630.5,506.4 1630.9,508.4 1631.2,510.2 1631.6,512.0 1632.0,513.8 1632.3,515.8 1632.6,517.8 1632.9,519.7 1633.2,521.7 1633.5,523.7 1633.8,525.6 1634.2,527.6 1634.5,529.3 1634.8,531.1 1635.2,532.8 1635.5,534.6 1635.8,536.4 1636.2,538.3 1636.5,540.2 1636.8,542.2 1637.2,544.2 1637.5,546.3 1637.8,548.4 1639.0,551.0 1639.3,552.7 1639.6,554.5 1639.9,556.2 1640.2,558.0 1640.6,559.8 1640.9,561.6 1641.2,563.4 1641.5,565.1 1641.8,566.9 1642.1,568.6 1642.5,570.3 1642.8,572.0 1643.2,573.8 1643.5,575.7 1643.9,577.6 1644.2,579.5 1644.6,581.4 1644.8,579.6 1644.9,577.7 1645.1,575.9 1645.3,574.1 1645.5,572.2 1645.6,570.4 1645.8,568.5 1646.0,566.7 1646.2,564.8 1646.3,563.0 1646.5,561.1 1647.0,562.9 1647.6,564.7 1648.1,566.6 1648.7,568.6 1649.2,570.6 1651.1,569.9 1653.0,569.1 1653.3,571.1 1653.6,573.0 1653.9,575.0 1654.2,577.0 1654.5,578.9 1654.8,580.8 1655.1,582.7 1655.4,584.5 1655.7,586.2 1656.0,588.0 1656.2,589.8 1656.5,591.6 1656.8,593.4 1657.1,595.3 1657.3,597.1 1657.6,599.0 1657.9,600.9 1658.1,602.7 1658.4,604.5 1658.7,606.2 1659.0,608.0 1659.2,609.7 1659.5,611.4 1660.7,613.0 1662.0,615.7 1663.2,617.6 1663.6,619.3 1663.9,620.9 1664.3,622.6 1664.7,624.4 1665.1,626.1 1665.4,628.1 1665.8,630.1 1666.2,632.1 1666.5,634.2 1666.9,636.2 1667.2,638.2 1667.6,640.1 1668.0,642.0 1668.3,643.7 1668.7,645.5 1669.0,647.2 1669.4,649.1 1669.7,650.9 1671.6,651.2 1673.4,651.6 1675.3,651.9 1675.5,650.0 1675.6,648.0 1675.8,646.0 1676.0,644.0 1676.1,642.0 1676.3,640.1 1676.4,638.2 1676.6,636.2 1676.8,634.3 1676.9,632.3 1677.1,630.3 1678.7,631.1 1680.2,631.9 1681.8,633.5 1683.6,631.6 1685.5,630.3 1687.3,629.1 1688.4,627.7 1689.5,626.2 1690.7,624.2 1691.8,622.3 1692.9,620.7 1694.8,619.2 1696.6,617.1 1698.2,616.2 1699.7,614.8 1701.3,613.3 1701.4,611.4 1701.4,609.6 1701.5,607.7 1701.6,605.8 1701.6,603.9 1701.7,602.0 1701.8,600.2 1701.9,598.3 1701.9,596.4 1702.0,594.5 1702.1,592.7 1702.1,590.8 1702.2,589.0 1704.1,588.4 1705.9,587.6 1707.8,585.6 1709.7,585.1 1711.5,584.9 1712.7,583.5 1713.8,581.7 1714.9,580.2 1716.1,579.4 1717.8,578.3 1719.5,577.2 1721.2,576.4 1722.9,575.4 1724.6,574.4 1726.3,573.7 1726.6,571.7 1726.8,569.8 1727.1,567.8 1727.4,565.8 1727.7,563.8 1727.9,561.8 1728.2,559.8 1729.8,559.6 1731.5,558.2 1733.1,557.3 1734.7,556.7 1736.3,555.9 1738.0,554.3 1739.6,554.0 1741.2,553.2 1742.1,550.8 1743.1,548.8 1744.0,546.8 1745.2,545.5 1746.5,543.8 1747.7,542.4 1749.0,541.3 1750.2,540.1 1751.5,539.1 1752.7,537.8 1753.6,535.8 1754.5,534.0 1755.3,532.3 1756.2,530.6 1757.1,529.1 1758.0,527.5 1758.4,525.6 1758.9,523.8 1759.3,522.0 1759.8,520.1 1760.2,518.3 1760.6,516.6 1761.1,514.9 1761.5,513.2 1762.0,511.1 1762.5,508.8 1763.1,506.5 1763.6,504.4 1764.1,502.3 1766.0,500.0"/>
<polyline stroke="#1fa00a" points="974.0,469.6 976.2,469.4 978.3,468.4 980.5,467.2 982.2,466.6 984.0,466.1 985.7,465.4 987.4,464.4 989.2,464.4 990.9,463.4 992.9,463.3 994.9,463.1 996.9,463.5 998.8,462.7 1000.8,462.8 1002.8,462.6 1004.8,462.6 1006.7,462.4 1008.7,462.2 1010.6,461.6 1012.6,462.2 1014.5,462.1 1016.5,461.9 1018.4,462.1 1020.4,461.4 1022.3,461.5 1024.2,462.1 1026.1,462.3 1028.0,462.1 1029.9,461.8 1031.8,461.9 1033.7,462.2 1035.6,462.0 1037.5,462.3 1039.4,462.9 1041.3,462.6 1043.2,462.3 1045.2,462.1 1047.2,463.0 1049.2,463.2 1051.1,463.6 1053.1,463.9 1055.1,464.4 1057.1,464.9 1059.0,464.6 1061.0,464.8 1062.9,464.9 1064.8,465.7 1066.8,466.1 1068.7,466.7 1070.6,465.9 1072.6,466.3 1074.5,467.2 1076.2,468.4 1078.0,468.4 1079.8,468.8 1081.5,469.5 1083.2,470.2 1085.0,470.7 1086.7,471.7 1088.5,471.9 1090.2,472.9 1091.9,473.9 1093.7,475.4 1095.4,477.0 1097.2,478.2 1098.9,479.1 1099.8,480.6 1100.6,482.1 1101.5,483.8 1102.4,485.4 1103.2,487.1 1104.1,488.7 1105.1,490.3 1106.2,492.4 1107.2,494.5 1108.3,495.8 1109.3,497.4 1109.8,499.4 1110.4,501.2 1111.0,502.9 1111.5,504.6 1112.0,506.3 1112.6,508.2 1113.2,509.9 1113.7,511.5 1114.1,509.4 1114.6,507.3 1115.0,505.3 1115.4,503.3 1116.9,504.7 1118.5,505.7 1120.0,506.8 1121.5,508.9 1122.4,510.5 1123.3,511.9 1124.2,513.3 1125.0,515.0 1125.9,516.8 1126.8,518.1 1127.5,519.7 1128.2,521.4 1128.9,523.4 1129.6,525.3 1130.3,527.0 1131.4,528.8 1132.4,530.7 1133.5,532.4 1134.6,533.8 1135.4,535.6 1136.2,537.8 1137.0,540.1 1137.9,541.9 1138.7,543.2 1139.5,544.7 1139.9,546.5 1140.3,548.3 1140.8,550.3 1141.2,552.2 1141.6,554.0 1142.0,555.9 1142.4,557.7 1142.8,559.4 1143.3,561.1 1143.7,562.8 1144.1,564.5 1144.3,562.4 1144.6,560.4 1144.8,558.4 1145.0,556.4 1145.3,554.4 1145.5,552.4 1145.8,550.4 1146.0,548.4 1148.3,549.9 1150.6,551.7 1152.5,549.9 1154.3,548.4 1156.2,547.4 1158.1,545.9 1159.9,545.1 1161.8,544.2 1163.6,543.1 1165.5,541.4 1167.3,540.7 1169.2,538.9 1171.0,537.7 1171.2,535.6 1171.4,533.6 1171.5,531.5 1171.7,529.5 1171.9,527.4 1172.1,525.4 1174.4,525.4 1176.7,525.3 1179.0,525.2 1180.8,523.7 1182.5,523.1 1184.2,522.1 1186.0,520.6 1187.7,520.7 1189.5,519.6 1191.2,518.9 1192.9,518.4 1194.7,517.8 1196.4,517.9 1196.9,516.2 1197.3,514.3 1197.8,512.3 1198.2,510.2 1199.9,509.2 1201.7,509.2 1203.4,507.8 1205.2,507.3 1206.9,506.9 1208.7,506.3 1210.4,505.3 1211.9,503.6 1213.4,503.2 1214.9,501.8 1216.3,501.0 1217.8,499.6 1219.3,498.6 1220.8,497.6 1222.9,497.0 1225.0,495.1 1225.8,493.1 1226.7,490.9 1227.5,489.0 1228.4,487.4 1229.2,485.7 1230.1,483.8 1230.6,481.9 1231.1,480.0 1231.6,478.0 1232.1,476.1 1235.2,474.7 1236.7,473.3 1238.2,471.8 1239.8,470.4 1241.3,468.9 1243.1,468.8 1244.9,468.6 1246.8,468.0 1248.6,466.5 1250.4,466.0 1252.3,466.1 1254.2,465.7 1256.1,465.7 1258.1,465.4 1260.0,464.6 1261.9,464.5 1263.8,464.3 1265.7,463.3 1267.6,463.5 1269.5,463.8 1271.4,463.8 1273.3,463.8 1275.2,462.7 1277.1,462.7 1279.0,462.3 1280.9,462.6 1282.8,462.5 1284.7,462.7 1286.6,463.0 1288.5,462.8 1290.4,462.4 1292.3,462.5 1294.2,462.8 1296.1,462.3 1298.0,462.5 1299.9,462.8 1301.8,463.3 1303.8,463.4 1305.7,463.1 1307.6,462.6 1309.5,463.1 1311.4,462.7 1313.4,463.9 1315.4,464.5 1317.5,465.1 1319.5,465.8 1321.5,466.5 1323.4,466.2 1325.3,466.5 1327.2,467.1 1329.2,467.4 1331.1,467.2 1333.0,468.0 1334.9,467.3 1336.8,467.1 1338.8,468.6 1340.9,469.1 1342.9,469.7 1345.0,469.9 1347.0,470.1 1348.7,471.2 1350.4,472.4 1352.0,472.7 1353.7,473.6 1355.4,474.3 1357.1,474.8 1358.5,476.1 1359.9,477.8 1361.4,479.0 1362.8,479.7 1364.2,481.0 1365.0,483.0 1365.8,484.7 1366.7,486.4 1367.5,488.1 1368.3,489.8 1369.8,490.9 1371.3,493.0 1372.0,495.1 1372.7,496.9 1373.3,498.7 1374.0,500.5 1374.7,502.4 1375.4,504.3 1376.1,506.1 1376.8,507.7 1377.6,509.4 1378.3,511.2 1379.0,513.2 1379.4,511.5 1379.8,509.7 1380.1,507.9 1380.5,506.0 1382.0,507.2 1383.5,508.8 1385.5,509.8 1387.6,511.2 1388.6,513.1 1389.7,515.1 1390.7,516.7 1391.7,518.1 1392.2,519.8 1392.7,521.5 1393.2,523.3 1393.6,525.1 1394.1,526.9 1394.6,528.8 1395.8,530.4 1396.9,532.0 1398.1,533.7 1398.8,535.6 1399.4,537.6 1400.0,539.6 1400.7,541.3 1401.3,543.0 1401.9,544.6 1402.6,546.5 1403.2,548.5 1403.8,550.7 1404.4,552.8 1405.1,554.8 1405.7,556.5 1406.3,558.2 1406.9,559.6 1407.5,560.9 1408.2,562.3 1408.8,563.8 1409.4,565.5 1410.0,567.1 1410.3,565.2 1410.7,563.3 1411.0,561.4 1411.4,559.7 1411.8,558.0 1412.1,556.3 1412.5,554.5 1412.8,552.7 1415.0,552.3 1417.1,552.7 1419.3,552.9 1420.8,551.8 1422.3,550.8 1423.8,549.3 1425.3,547.4 1426.8,546.7 1428.6,545.6 1430.5,544.6 1432.3,543.9 1434.2,541.9 1436.0,540.7 1436.2,538.5 1436.4,536.4 1436.7,534.3 1436.9,532.1 1437.1,530.0 1437.3,528.0 1439.5,528.0 1441.7,527.3 1443.8,526.2 1446.0,526.1 1447.7,524.7 1449.5,523.3 1451.2,522.7 1453.0,522.4 1454.7,521.6 1456.5,521.2 1458.2,520.6 1460.0,519.9 1461.7,519.4 1462.3,517.4 1463.0,515.2 1463.7,513.5 1464.3,511.6 1466.2,510.6 1468.0,510.5 1469.9,509.8 1471.7,508.9 1473.6,508.7 1475.4,507.8 1477.3,507.3 1478.2,505.6 1479.1,503.6 1480.8,502.5 1482.6,501.9 1484.3,500.4 1486.1,499.3 1487.8,498.8 1490.0,498.4 1490.7,496.9 1491.4,495.3 1492.0,493.6 1492.7,491.8 1493.4,490.1 1494.1,488.4 1494.6,486.4 1495.1,484.5 1495.6,482.5 1496.1,480.7 1496.6,479.0 1497.1,477.3 1500.2,476.4 1501.7,474.9 1503.2,473.0 1504.8,472.1 1506.3,471.0 1508.1,470.7 1509.8,469.6 1511.6,468.4 1513.4,467.8 1515.2,467.9 1517.0,467.4 1518.7,466.6 1520.5,467.0 1522.4,466.8 1524.3,465.8 1526.2,465.6 1528.1,465.4 1530.0,465.7 1531.9,465.8 1533.8,466.0 1535.7,465.7 1537.6,465.1 1539.5,465.0 1541.4,464.7 1543.3,464.0 1545.3,464.4 1547.2,464.3 1549.1,463.9 1551.0,463.9 1552.8,462.8 1554.7,463.4 1556.5,463.7 1558.4,463.5 1560.2,463.5 1562.1,463.6 1563.9,463.6 1565.8,464.0 1567.6,463.9 1569.5,464.0 1571.3,464.1 1573.3,464.7 1575.4,464.5 1577.4,465.1 1579.5,464.8 1581.5,465.2 1583.5,465.9 1585.5,466.8 1587.6,466.5 1589.6,466.7 1591.6,467.8 1593.5,468.6 1595.4,469.0 1597.3,468.2 1599.2,468.1 1601.2,468.9 1603.1,469.5 1605.0,469.7 1606.9,469.2 1608.6,470.0 1610.3,470.8 1612.0,471.7 1613.6,472.2 1615.3,472.6 1617.0,473.5 1618.8,474.9 1620.5,476.1 1622.3,477.2 1624.1,478.2 1625.6,479.9 1627.2,481.3 1628.7,482.4 1630.2,484.2 1631.0,486.0 1631.8,487.5 1632.7,489.4 1633.5,491.4 1634.3,493.3 1635.3,494.8 1636.3,496.2 1637.4,498.2 1638.4,500.2 1639.2,502.2 1639.9,504.0 1640.7,505.8 1641.4,507.6 1642.2,509.4 1643.0,511.1 1643.7,513.2 1644.5,515.4 1645.0,513.4 1645.5,511.4 1646.0,509.4 1646.5,507.3 1647.9,508.5 1649.2,510.3 1650.6,511.8 1652.6,513.5 1654.6,515.6 1655.4,517.4 1656.2,519.1 1657.1,520.7 1657.9,522.5 1658.7,524.1 1659.3,526.0 1659.8,527.8 1660.4,529.9 1661.2,532.0 1661.9,534.3 1662.7,536.2 1663.5,537.8 1664.2,539.1 1665.0,540.6 1665.8,542.8 1666.6,545.0 1667.4,547.1 1668.2,549.0 1669.0,550.6 1669.8,552.5 1670.6,554.4 1671.0,556.1 1671.4,557.8 1671.8,559.5 1672.2,561.2 1672.7,563.0 1673.1,564.8 1673.5,566.7 1673.9,568.6 1674.3,570.4 1674.6,568.5 1675.0,566.6 1675.3,564.6 1675.7,562.7 1676.0,560.8 1676.4,558.9 1676.8,557.0 1677.1,555.1 1679.4,555.7 1681.8,557.3 1683.6,555.4 1685.5,554.1 1687.3,552.9 1689.2,551.8 1691.0,549.8 1692.9,548.3 1694.8,547.4 1696.6,546.0 1698.5,545.0 1701.3,542.7 1701.4,540.8 1701.6,538.8 1701.7,536.9 1701.8,534.9 1701.9,533.0 1702.1,531.1 1702.2,529.2 1704.4,529.6 1706.6,529.2 1708.8,528.1 1711.0,528.1 1712.7,526.6 1714.5,524.6 1716.2,523.8 1718.3,523.1 1720.4,522.4 1722.4,521.9 1724.5,521.3 1726.6,521.0 1727.2,519.1 1727.9,517.1 1728.5,515.3 1729.2,513.6 1731.1,512.9 1732.9,511.9 1734.8,511.5 1736.7,510.7 1738.6,509.6 1740.4,509.5 1742.3,508.6 1743.2,507.0 1744.0,505.4 1745.7,504.2 1747.5,502.8 1749.2,502.1 1751.0,501.3 1752.7,500.4 1753.8,498.5 1754.8,496.9 1755.9,495.4 1756.9,494.0 1758.0,492.6 1758.7,490.7 1759.4,488.8 1760.1,487.0 1760.8,485.3 1761.5,483.6 1762.4,481.4 1763.2,479.0 1764.1,477.0 1766.0,476.0"/>
</g>
<path d="M233.08,316.5V307.7M233.08,36.6V45.400000000000006M366.13,316.5V307.7M366.13,36.6V45.400000000000006M497.02,316.5V307.7M497.02,36.6V45.400000000000006M630.07,316.5V307.7M630.07,36.6V45.400000000000006M760.95,316.5V307.7M760.95,36.6V45.400000000000006M102.2,316.50H111.0M894.0,316.50H885.2M102.2,234.18H111.0M894.0,234.18H885.2M102.2,151.85H111.0M894.0,151.85H885.2M102.2,69.53H111.0M894.0,69.53H885.2" stroke="#000" stroke-width="2" fill="none"/>
<rect x="102.2" y="36.6" width="791.8" height="279.9" fill="none" stroke="#000" stroke-width="2"/>
<text class="t" x="93.2" y="325.5" font-size="25" text-anchor="end">0</text>
<text class="t" x="93.2" y="243.2" font-size="25" text-anchor="end">500</text>
<text class="t" x="93.2" y="160.9" font-size="25" text-anchor="end">1000</text>
<text class="t" x="93.2" y="78.5" font-size="25" text-anchor="end">1500</text>
<path d="M233.08,651.1V642.3000000000001M233.08,371.5V380.3M366.13,651.1V642.3000000000001M366.13,371.5V380.3M497.02,651.1V642.3000000000001M497.02,371.5V380.3M630.07,651.1V642.3000000000001M630.07,371.5V380.3M760.95,651.1V642.3000000000001M760.95,371.5V380.3M102.2,651.10H111.0M894.0,651.10H885.2M102.2,595.18H111.0M894.0,595.18H885.2M102.2,539.26H111.0M894.0,539.26H885.2M102.2,483.34H111.0M894.0,483.34H885.2M102.2,427.42H111.0M894.0,427.42H885.2M102.2,371.50H111.0M894.0,371.50H885.2" stroke="#000" stroke-width="2" fill="none"/>
<rect x="102.2" y="371.5" width="791.8" height="279.6" fill="none" stroke="#000" stroke-width="2"/>
<text class="t" x="93.2" y="660.1" font-size="25" text-anchor="end">0</text>
<text class="t" x="93.2" y="604.2" font-size="25" text-anchor="end">5</text>
<text class="t" x="93.2" y="548.3" font-size="25" text-anchor="end">10</text>
<text class="t" x="93.2" y="492.3" font-size="25" text-anchor="end">15</text>
<text class="t" x="93.2" y="436.4" font-size="25" text-anchor="end">20</text>
<text class="t" x="93.2" y="380.5" font-size="25" text-anchor="end">25</text>
<text class="t" x="101.8" y="684.4" font-size="25.3" text-anchor="middle">2009Jan</text>
<text class="t" x="232.7" y="684.4" font-size="25.3" text-anchor="middle">Jul</text>
<text class="t" x="365.7" y="684.4" font-size="25.3" text-anchor="middle">2010Jan</text>
<text class="t" x="496.6" y="684.4" font-size="25.3" text-anchor="middle">Jul</text>
<text class="t" x="629.7" y="684.4" font-size="25.3" text-anchor="middle">2011Jan</text>
<text class="t" x="760.5" y="684.4" font-size="25.3" text-anchor="middle">Jul</text>
<path d="M1104.91,316.5V307.7M1104.91,36.6V45.400000000000006M1238.10,316.5V307.7M1238.10,36.6V45.400000000000006M1369.11,316.5V307.7M1369.11,36.6V45.400000000000006M1502.30,316.5V307.7M1502.30,36.6V45.400000000000006M1633.31,316.5V307.7M1633.31,36.6V45.400000000000006M973.9,316.50H982.6999999999999M1766.5,316.50H1757.7M973.9,234.18H982.6999999999999M1766.5,234.18H1757.7M973.9,151.85H982.6999999999999M1766.5,151.85H1757.7M973.9,69.53H982.6999999999999M1766.5,69.53H1757.7" stroke="#000" stroke-width="2" fill="none"/>
<rect x="973.9" y="36.6" width="792.6" height="279.9" fill="none" stroke="#000" stroke-width="2"/>
<text class="t" x="964.9" y="325.5" font-size="25" text-anchor="end">0</text>
<text class="t" x="964.9" y="243.2" font-size="25" text-anchor="end">500</text>
<text class="t" x="964.9" y="160.9" font-size="25" text-anchor="end">1000</text>
<text class="t" x="964.9" y="78.5" font-size="25" text-anchor="end">1500</text>
<path d="M1104.91,651.1V642.3000000000001M1104.91,371.5V380.3M1238.10,651.1V642.3000000000001M1238.10,371.5V380.3M1369.11,651.1V642.3000000000001M1369.11,371.5V380.3M1502.30,651.1V642.3000000000001M1502.30,371.5V380.3M1633.31,651.1V642.3000000000001M1633.31,371.5V380.3M973.9,651.10H982.6999999999999M1766.5,651.10H1757.7M973.9,595.18H982.6999999999999M1766.5,595.18H1757.7M973.9,539.26H982.6999999999999M1766.5,539.26H1757.7M973.9,483.34H982.6999999999999M1766.5,483.34H1757.7M973.9,427.42H982.6999999999999M1766.5,427.42H1757.7M973.9,371.50H982.6999999999999M1766.5,371.50H1757.7" stroke="#000" stroke-width="2" fill="none"/>
<rect x="973.9" y="371.5" width="792.6" height="279.6" fill="none" stroke="#000" stroke-width="2"/>
<text class="t" x="964.9" y="660.1" font-size="25" text-anchor="end">0</text>
<text class="t" x="964.9" y="604.2" font-size="25" text-anchor="end">5</text>
<text class="t" x="964.9" y="548.3" font-size="25" text-anchor="end">10</text>
<text class="t" x="964.9" y="492.3" font-size="25" text-anchor="end">15</text>
<text class="t" x="964.9" y="436.4" font-size="25" text-anchor="end">20</text>
<text class="t" x="964.9" y="380.5" font-size="25" text-anchor="end">25</text>
<text class="t" x="973.5" y="684.4" font-size="25.3" text-anchor="middle">2009Jan</text>
<text class="t" x="1104.5" y="684.4" font-size="25.3" text-anchor="middle">Jul</text>
<text class="t" x="1237.7" y="684.4" font-size="25.3" text-anchor="middle">2010Jan</text>
<text class="t" x="1368.7" y="684.4" font-size="25.3" text-anchor="middle">Jul</text>
<text class="t" x="1501.9" y="684.4" font-size="25.3" text-anchor="middle">2011Jan</text>
<text class="t" x="1632.9" y="684.4" font-size="25.3" text-anchor="middle">Jul</text>
<text class="s" x="105.3" y="25.6" font-size="30">A</text>
<text class="t" x="159.6" y="23.2" font-size="29.8">PP at Stn. K2</text>
<text class="s" x="106" y="357.1" font-size="30">B</text>
<text class="t" x="159.5" y="357.6" font-size="29.5">Surface NO3 at Stn. K2</text>
<text class="s" x="985" y="25.4" font-size="30">C</text>
<text class="t" x="1031.5" y="22.9" font-size="29.5">PP at Stn. Papa</text>
<text class="s" x="985" y="356.6" font-size="30">D</text>
<text class="t" x="1030.5" y="356.8" font-size="29.5">Surface NO3 at Stn. Papa</text>
<text class="t" font-size="28" text-anchor="middle" transform="translate(32.6,177.6) rotate(-90)">mg C/m<tspan font-size="20.5" dy="-14.6">3</tspan></text>
<text class="t" font-size="28" text-anchor="middle" transform="translate(37.2,510.8) rotate(-90)">mmol/m<tspan font-size="20.5" dy="-14.6">3</tspan></text>
<line x1="127.5" y1="59.6" x2="157.0" y2="59.6" stroke="#6f1a87" stroke-width="3.7" stroke-dasharray="11.5 3.2 5.8 3.2"/>
<text class="t" x="161.7" y="67.8" font-size="23.5">Exp 3</text>
<line x1="227.8" y1="59.6" x2="257.3" y2="59.6" stroke="#0068ba" stroke-width="3.7" stroke-dasharray="11.5 3.2 5.8 3.2"/>
<text class="t" x="262.1" y="67.8" font-size="23.5">Exp 2</text>
<line x1="327.9" y1="59.6" x2="357.4" y2="59.6" stroke="#d53f07" stroke-width="3.7"/>
<text class="t" x="362.2" y="67.8" font-size="23.5">Exp 1</text>
<line x1="428" y1="59.6" x2="457.5" y2="59.6" stroke="#1fa00a" stroke-width="3.7"/>
<text class="t" x="461.7" y="67.8" font-size="23.5">Control</text>
</svg></body></html>
